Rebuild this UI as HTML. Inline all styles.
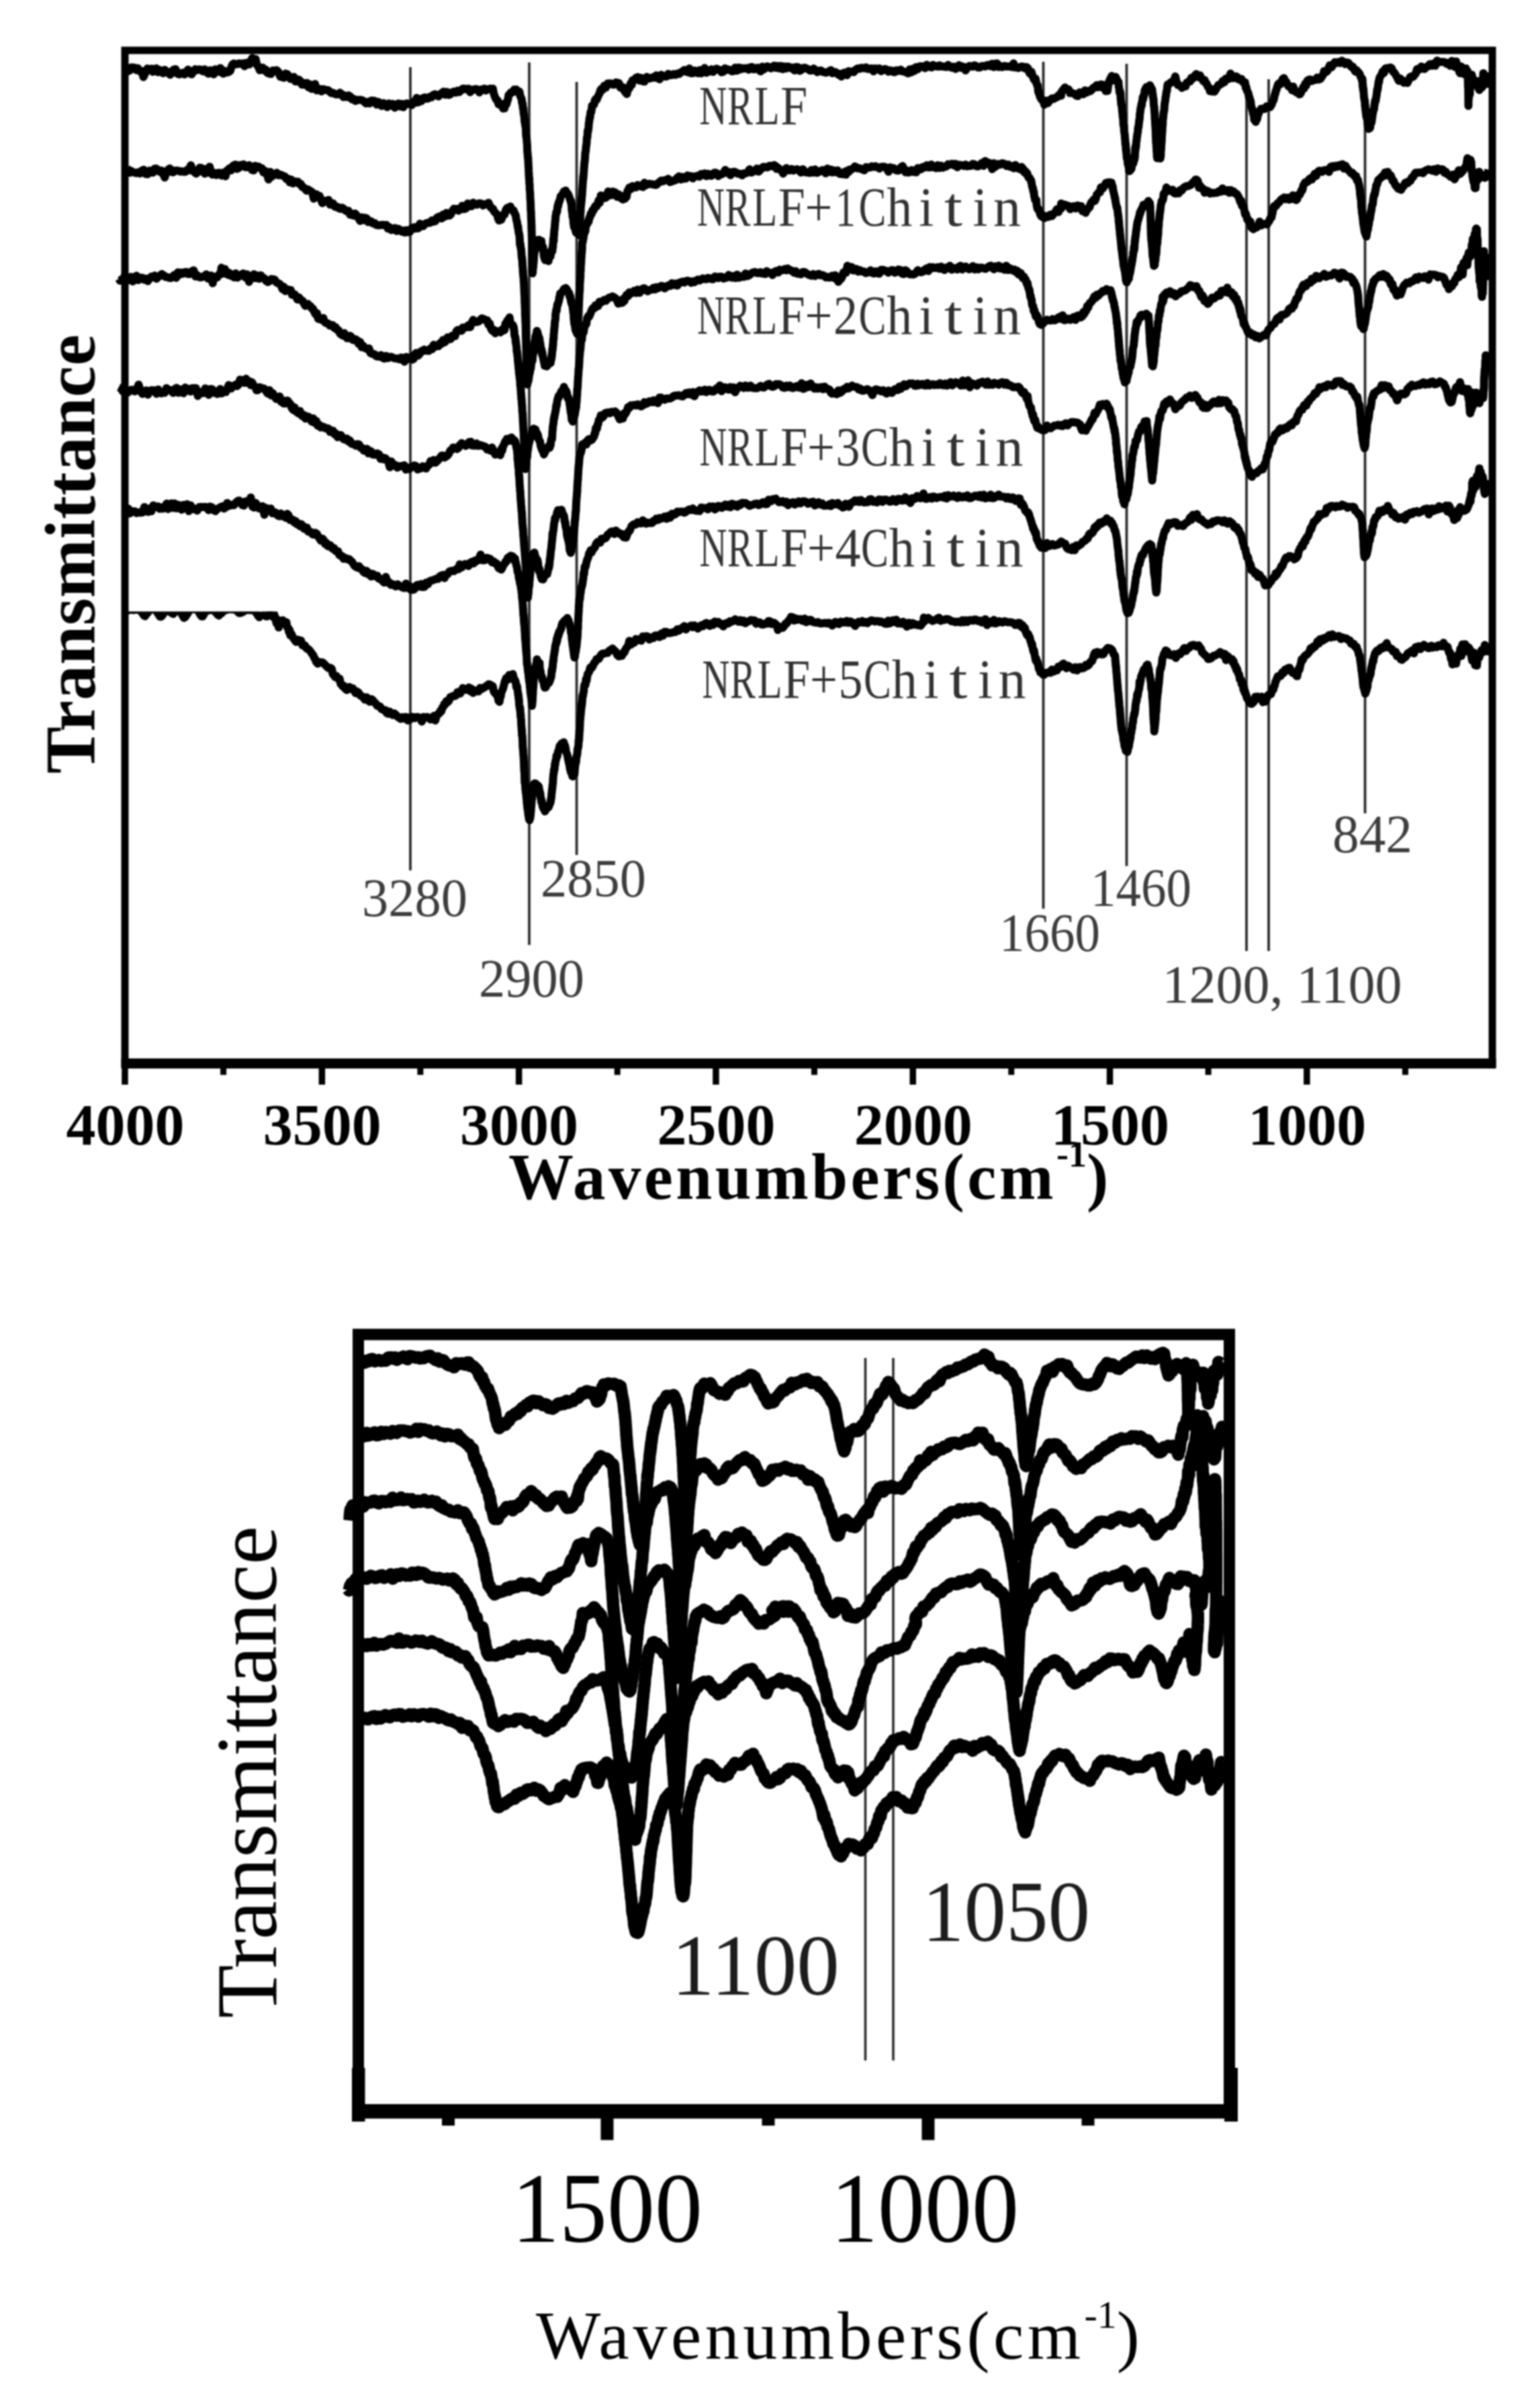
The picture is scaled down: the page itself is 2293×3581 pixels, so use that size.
<!DOCTYPE html>
<html><head><meta charset="utf-8"><title>FTIR spectra</title>
<style>html,body{margin:0;padding:0;background:#fff}svg{display:block}</style></head>
<body>
<svg width="2293" height="3581" viewBox="0 0 2293 3581">
<defs><filter id="soft" x="0" y="0" width="2293" height="3581" filterUnits="userSpaceOnUse"><feGaussianBlur stdDeviation="1.1"/></filter></defs>
<rect width="2293" height="3581" fill="#fff"/>
<g filter="url(#soft)">
<line x1="611" y1="100" x2="611" y2="1296" stroke="#2a2a2a" stroke-width="3.8"/>
<line x1="788" y1="93" x2="788" y2="1407" stroke="#2a2a2a" stroke-width="3.8"/>
<line x1="858.6" y1="122" x2="858.6" y2="1273" stroke="#2a2a2a" stroke-width="3.8"/>
<line x1="1553.5" y1="92" x2="1553.5" y2="1353" stroke="#2a2a2a" stroke-width="3.8"/>
<line x1="1677.5" y1="95" x2="1677.5" y2="1289.5" stroke="#2a2a2a" stroke-width="3.8"/>
<line x1="1856" y1="118" x2="1856" y2="1416" stroke="#2a2a2a" stroke-width="3.8"/>
<line x1="1889" y1="118" x2="1889" y2="1416" stroke="#2a2a2a" stroke-width="3.8"/>
<line x1="2032.5" y1="118" x2="2032.5" y2="1211" stroke="#2a2a2a" stroke-width="3.8"/>
<g id="topcurves">
<polyline points="189.1,102.9 191.0,106.0 193.0,105.0 195.2,100.6 197.6,100.5 200.0,100.8 202.6,104.2 205.2,101.5 208.0,106.2 210.8,105.8 213.6,114.8 216.5,108.5 219.5,102.0 222.5,103.6 225.5,102.5 227.8,106.8 230.2,106.1 232.7,101.7 235.2,107.5 237.7,104.3 240.2,105.7 242.8,109.0 245.4,104.0 248.1,106.7 250.7,108.8 253.4,111.2 256.1,106.1 258.7,103.8 261.4,102.9 264.1,109.7 266.8,110.8 269.5,109.2 272.1,108.3 274.8,110.7 277.4,107.4 280.0,103.7 282.6,109.0 285.3,110.6 288.0,106.5 290.8,103.1 293.5,104.4 296.3,103.3 299.1,103.9 301.9,106.2 304.7,103.2 307.4,107.4 310.2,109.8 312.9,104.7 315.6,105.3 318.2,110.7 320.8,103.4 323.3,103.8 325.7,106.9 328.0,101.4 330.3,104.6 332.5,109.8 334.5,105.6 338.2,108.0 340.9,106.9 342.9,105.4 344.5,99.7 346.2,95.9 348.2,94.6 350.9,95.8 353.6,95.4 356.3,94.2 359.0,95.3 361.8,94.3 364.0,98.6 366.3,93.8 368.7,93.2 371.0,96.0 373.3,91.0 375.6,86.4 377.7,88.1 379.4,93.8 380.7,88.1 382.0,94.8 383.3,97.7 384.8,99.3 386.7,104.6 389.1,101.0 391.2,100.8 393.5,104.9 395.9,103.7 398.4,108.7 401.0,109.7 403.6,110.0 406.3,105.1 409.1,105.3 411.9,104.5 414.6,107.2 417.4,114.3 420.1,114.8 422.8,115.7 425.5,109.7 427.9,110.4 430.3,115.1 432.7,117.6 435.2,117.3 437.6,114.6 440.0,121.3 442.4,121.3 444.8,118.5 447.3,120.7 449.7,126.1 452.1,123.4 454.5,126.6 457.0,123.6 459.4,129.9 461.8,125.8 464.2,132.3 466.7,128.8 469.1,125.1 471.5,134.6 473.9,132.4 476.4,132.5 478.8,136.0 481.2,132.8 483.6,133.5 486.1,134.3 488.5,134.2 490.9,136.4 493.3,138.7 495.8,138.3 498.2,139.6 500.8,140.6 503.4,140.5 506.0,138.2 508.6,140.1 511.2,144.5 513.8,142.4 516.4,144.6 519.0,142.2 521.6,143.8 524.2,148.0 526.8,147.2 529.4,150.2 531.9,148.8 534.5,148.7 537.1,148.8 539.8,149.6 542.4,151.6 545.0,153.8 547.6,151.7 550.3,154.1 552.9,149.7 555.5,149.9 558.1,150.4 560.7,155.7 563.3,151.8 565.9,155.7 568.4,157.7 570.9,153.5 573.7,155.1 576.5,159.4 579.3,154.0 582.1,156.7 584.9,154.7 587.7,160.3 590.4,157.6 593.0,154.1 595.6,158.4 598.1,154.7 600.5,159.7 602.7,155.0 605.9,154.0 608.3,154.8 610.5,155.0 612.9,156.6 616.4,150.8 618.4,153.0 620.5,145.7 622.8,152.4 625.1,147.5 627.5,150.5 629.9,146.0 632.4,145.0 635.0,146.9 637.5,146.7 640.1,144.0 642.7,144.9 645.2,141.3 647.8,140.2 650.3,141.2 652.7,143.6 655.3,141.2 657.9,138.4 660.5,136.4 663.1,141.1 665.7,136.9 668.3,141.4 670.9,140.2 673.5,137.5 676.1,136.3 678.7,137.8 681.3,135.1 683.9,137.1 686.5,134.7 689.1,132.0 691.7,132.0 694.4,133.1 697.2,131.9 700.0,137.2 702.8,133.4 705.6,133.4 708.4,132.6 711.1,133.3 713.8,137.6 716.3,133.3 718.8,133.7 721.2,131.9 723.4,134.8 725.5,133.2 729.9,132.0 732.4,133.7 733.8,132.0 735.2,139.1 736.6,143.3 738.1,146.8 739.6,149.2 741.0,149.6 742.4,155.3 744.7,156.3 746.9,154.6 749.1,161.4 751.1,161.3 752.2,156.0 753.3,155.9 754.2,155.0 755.2,150.8 756.2,148.6 757.4,141.3 758.9,140.4 760.6,137.7 762.3,138.0 764.0,136.2 765.7,133.5 767.4,134.2 768.9,133.5 770.4,135.8 771.9,138.0 773.3,136.3 774.7,143.0 776.1,146.3 776.5,146.9 776.9,148.9 777.3,152.9 777.7,154.4 778.1,153.9 778.5,159.9 778.8,161.8 779.2,160.9 779.6,167.1 779.9,169.8 780.3,171.5 780.7,173.9 781.0,179.1 781.3,182.3 781.7,179.2 782.0,186.6 782.3,187.0 782.6,188.0 782.8,190.4 783.0,192.4 783.2,199.6 783.4,201.2 783.6,204.0 783.8,202.5 784.0,206.4 784.2,206.0 784.4,211.1 784.6,211.7 784.8,215.3 784.9,215.9 785.1,223.5 785.3,226.6 785.5,229.0 785.7,228.5 785.9,235.0 786.1,233.9 786.2,234.2 786.4,237.2 786.5,240.8 786.7,243.1 786.8,247.2 787.0,249.0 787.2,254.7 787.3,255.8 787.5,260.3 787.6,263.3 787.8,264.4 787.9,267.2 788.1,265.6 788.2,273.7 788.4,273.6 788.6,275.3 788.7,282.0 788.8,282.7 789.0,284.8 789.1,285.0 789.3,287.9 789.4,292.1 789.6,297.1 789.7,296.9 789.8,297.8 790.0,301.5 790.1,303.6 790.2,308.4 790.3,312.1 790.4,312.7 790.5,315.1 790.7,315.8 790.8,323.8 790.9,323.6 791.0,328.3 791.1,327.3 791.2,330.6 791.3,336.4 791.4,341.2 791.5,336.1 791.5,343.8 791.6,345.3 791.7,346.1 791.8,351.5 791.9,354.9 791.9,352.4 792.0,357.7 792.0,363.0 792.1,364.2 792.1,366.0 792.1,366.5 792.2,370.7 792.2,376.2 792.2,376.1 792.3,382.1 792.3,381.9 792.3,387.2 792.4,389.1 792.4,393.8 792.5,393.8 792.5,400.2 792.6,402.0 792.6,400.2 792.7,406.4 792.7,402.8 792.8,406.9 793.0,405.7 793.2,405.8 793.4,399.3 793.6,399.6 793.8,399.0 794.0,396.8 794.3,391.9 794.5,391.5 794.8,387.5 795.1,380.8 795.4,378.3 795.7,376.8 796.1,372.8 797.1,372.2 798.3,365.9 799.6,363.1 800.9,357.3 802.3,357.0 803.6,360.3 804.8,358.4 805.4,361.2 806.1,358.8 806.7,366.4 807.3,366.8 807.9,368.1 808.5,367.5 809.1,373.6 809.7,380.6 810.3,383.5 810.9,382.3 811.6,387.2 812.3,384.2 813.6,385.6 815.1,383.3 816.6,388.7 818.1,380.6 819.6,382.0 821.0,372.6 822.3,374.5 822.6,371.4 822.9,366.8 823.2,368.2 823.5,361.7 823.7,359.5 824.0,355.1 824.2,358.0 824.5,358.8 824.7,348.7 825.0,350.3 825.2,344.2 825.4,341.8 825.7,342.1 825.9,338.7 826.1,336.2 826.4,332.4 826.7,328.2 827.0,328.6 827.2,322.7 827.8,320.2 828.3,316.1 828.9,315.1 829.4,315.7 830.0,309.3 830.6,305.7 831.2,306.8 831.8,301.4 832.4,301.4 833.0,299.8 833.6,297.1 834.2,296.1 834.7,292.5 837.2,289.9 839.7,285.1 842.2,283.8 843.7,287.6 845.3,288.2 846.8,290.9 848.3,295.4 849.7,300.1 850.1,299.0 850.4,303.4 850.7,301.0 851.0,304.0 851.3,311.7 851.6,314.1 851.9,316.5 852.2,315.6 852.5,322.4 852.8,323.1 853.1,323.5 853.4,325.6 853.7,328.8 854.0,333.6 854.3,332.0 854.7,338.1 856.1,339.9 857.7,346.4 859.3,344.8 860.8,348.6 862.2,350.3 862.4,345.9 862.6,345.6 862.8,343.0 863.0,340.9 863.2,338.9 863.3,339.6 863.5,334.1 863.6,333.6 863.7,326.6 863.8,326.3 864.0,323.3 864.1,320.8 864.3,315.1 864.5,315.9 864.7,309.6 864.8,309.1 865.0,305.4 865.2,305.4 865.4,300.5 865.6,302.3 865.8,296.2 866.0,298.1 866.2,292.7 866.4,293.0 866.6,290.3 866.8,287.2 867.0,284.4 867.2,279.5 867.4,279.4 867.6,273.1 867.8,272.3 868.0,267.4 868.2,268.4 868.4,261.7 868.6,265.3 868.8,261.4 869.1,257.5 869.3,255.2 869.5,251.6 869.7,249.3 869.9,246.7 870.2,241.5 870.4,241.7 870.6,240.8 870.9,236.3 871.1,233.9 871.3,229.3 871.6,226.5 871.8,226.6 872.1,224.8 872.3,222.9 872.5,219.2 872.8,216.7 873.0,216.9 873.3,213.9 873.6,210.8 873.8,205.1 874.1,204.5 874.4,204.7 874.7,201.5 875.0,194.6 875.4,196.1 875.8,194.3 876.2,191.2 876.6,186.7 876.9,182.4 877.3,181.6 877.7,176.2 878.1,174.5 878.6,175.1 879.0,169.5 879.4,166.8 879.9,167.5 880.4,166.5 881.0,162.4 881.5,157.3 882.1,158.2 883.3,156.7 884.5,155.5 885.7,149.3 887.0,147.5 888.3,148.8 889.7,145.3 891.1,142.0 892.5,139.6 893.9,134.6 895.3,132.4 896.8,134.0 898.2,131.7 899.6,127.7 902.0,130.6 904.6,124.5 907.1,124.3 909.7,124.3 912.3,126.0 914.8,125.9 917.2,122.8 919.6,123.4 921.7,123.9 923.8,130.5 925.8,130.0 927.7,130.0 929.6,135.3 931.4,137.4 933.3,140.0 934.6,134.5 935.8,131.3 937.1,131.2 938.3,126.5 939.4,123.6 940.7,126.5 941.9,119.6 943.2,119.2 944.5,119.3 946.9,116.0 949.4,114.8 952.0,119.9 954.6,116.0 957.1,121.1 959.5,121.4 961.6,117.5 963.2,114.6 965.0,116.0 967.4,116.9 970.9,115.8 972.9,114.6 975.1,115.7 977.3,112.2 979.6,116.1 982.1,118.0 984.5,111.3 987.1,113.8 989.7,113.5 992.4,114.0 995.0,109.9 997.7,111.9 1000.5,111.8 1003.2,110.3 1005.9,111.4 1008.6,109.6 1011.2,110.1 1013.8,107.6 1016.4,106.6 1018.9,104.2 1021.4,106.3 1023.9,107.5 1026.5,102.0 1029.0,109.1 1031.5,108.9 1034.0,105.0 1036.6,106.5 1039.1,109.1 1041.6,104.4 1044.1,109.2 1046.7,104.2 1049.2,101.3 1051.7,108.3 1054.2,106.8 1056.8,106.6 1059.3,103.2 1061.8,107.0 1064.3,104.2 1066.9,102.3 1069.4,103.7 1071.9,104.1 1074.4,107.6 1077.0,106.8 1079.5,101.7 1082.0,104.0 1084.5,103.4 1087.1,104.4 1089.6,106.2 1092.1,105.9 1094.6,100.8 1097.2,105.3 1099.7,100.6 1102.2,103.4 1104.7,101.4 1107.3,102.3 1109.8,101.6 1112.3,101.5 1114.8,103.8 1117.4,100.1 1119.9,99.7 1122.4,103.2 1124.9,102.6 1127.5,101.0 1130.0,103.7 1132.5,106.3 1135.1,99.2 1137.6,103.2 1140.1,99.9 1142.6,98.9 1145.2,100.5 1147.7,101.7 1150.2,99.2 1152.7,97.9 1155.3,101.1 1157.8,98.2 1160.3,101.9 1162.8,98.2 1165.4,102.9 1167.9,98.9 1170.4,102.1 1172.9,99.0 1175.5,99.8 1178.0,101.6 1180.5,100.7 1183.0,104.8 1185.6,99.7 1188.1,100.0 1190.6,105.5 1193.1,104.2 1195.7,101.2 1198.2,100.8 1200.7,101.9 1203.4,103.0 1206.0,105.1 1208.7,104.9 1211.4,102.2 1214.1,104.1 1216.9,107.3 1219.6,105.6 1222.3,104.9 1224.9,107.0 1227.5,107.6 1230.1,108.3 1232.6,107.3 1235.0,105.6 1237.3,104.5 1239.5,108.9 1241.7,108.3 1243.6,107.3 1247.2,109.8 1248.9,111.6 1250.2,109.8 1252.7,113.9 1254.7,111.7 1256.8,108.3 1258.9,108.2 1261.2,111.9 1263.5,105.9 1265.9,107.6 1268.4,106.4 1271.1,107.4 1273.9,104.0 1276.9,102.0 1280.0,102.5 1282.3,100.9 1284.7,101.2 1287.1,101.8 1289.7,100.3 1292.4,102.8 1295.1,102.4 1297.9,101.8 1300.7,106.2 1303.5,102.0 1306.4,103.2 1309.2,101.7 1312.0,106.0 1314.8,104.1 1317.6,102.8 1320.3,103.7 1322.9,106.7 1325.4,104.7 1327.9,105.4 1330.2,107.2 1332.5,107.4 1334.5,104.7 1338.7,105.6 1341.2,103.7 1343.1,106.0 1345.1,106.5 1348.2,107.3 1350.2,108.2 1352.4,109.2 1354.6,103.3 1356.9,107.7 1359.3,102.3 1361.7,105.4 1364.1,99.9 1366.7,102.9 1369.2,98.8 1371.9,98.8 1374.5,98.8 1377.3,101.6 1380.0,96.6 1382.3,99.2 1384.6,99.5 1387.0,100.3 1389.3,96.7 1391.7,98.8 1394.1,98.3 1396.6,99.2 1399.0,97.4 1401.5,99.0 1404.1,99.0 1406.6,99.3 1409.2,99.7 1411.8,96.7 1414.5,99.5 1417.2,100.8 1419.9,99.2 1422.6,102.7 1425.5,100.8 1427.8,97.1 1430.2,100.9 1432.7,98.7 1435.2,99.7 1437.7,104.8 1440.3,100.7 1442.9,98.3 1445.6,98.4 1448.2,99.2 1450.9,97.2 1453.6,98.3 1456.3,100.6 1459.0,100.4 1461.6,98.4 1464.3,98.2 1466.9,99.0 1469.6,96.9 1472.2,96.6 1474.7,98.5 1477.2,94.9 1479.7,99.8 1482.1,94.7 1484.5,94.4 1486.8,99.8 1489.1,98.2 1492.2,99.9 1495.3,98.2 1498.2,98.9 1501.1,98.9 1503.8,99.0 1506.5,99.8 1509.1,94.3 1511.7,100.4 1514.1,99.9 1516.5,101.3 1518.9,100.0 1521.1,98.9 1523.3,99.4 1525.5,101.8 1528.1,99.8 1530.4,101.4 1532.4,107.8 1534.2,110.3 1535.8,107.0 1537.4,112.7 1539.1,117.4 1540.0,116.2 1540.9,120.0 1541.8,117.1 1542.7,121.3 1543.5,124.7 1544.3,127.1 1545.1,127.4 1545.9,136.2 1546.6,138.7 1547.4,137.0 1548.2,143.1 1549.6,146.2 1550.9,148.3 1552.1,149.5 1553.5,150.2 1555.0,156.0 1557.6,149.8 1560.4,153.5 1563.4,149.0 1566.4,146.6 1568.7,147.4 1571.1,145.7 1573.6,144.9 1576.0,142.0 1578.2,142.1 1580.0,142.6 1580.2,137.6 1580.0,137.7 1582.5,134.2 1585.7,130.2 1589.1,133.9 1591.1,133.0 1593.2,138.5 1595.4,138.1 1597.7,138.9 1600.1,140.1 1602.7,142.4 1605.0,143.1 1607.5,137.5 1610.1,139.1 1612.8,140.3 1615.4,134.5 1618.1,137.9 1620.7,135.3 1623.1,135.8 1625.5,133.8 1628.1,130.5 1630.5,130.3 1632.8,126.8 1634.9,130.0 1637.0,127.1 1639.1,125.7 1641.1,125.9 1643.1,131.3 1644.9,129.5 1646.6,135.6 1648.2,135.5 1649.0,135.4 1649.7,130.3 1650.4,125.5 1651.0,122.3 1651.8,120.5 1652.7,118.5 1655.3,113.1 1658.3,119.8 1661.3,114.6 1664.1,120.8 1664.5,121.5 1665.0,123.1 1665.4,122.1 1665.8,129.3 1666.2,129.8 1666.6,133.4 1666.9,136.8 1667.3,138.6 1667.7,136.0 1668.0,140.1 1668.4,139.1 1668.7,147.7 1669.1,149.9 1669.4,155.5 1669.8,156.5 1670.2,156.5 1670.5,160.2 1670.9,165.4 1671.2,167.9 1671.4,168.9 1671.7,174.5 1671.9,170.5 1672.2,175.2 1672.5,181.7 1672.7,186.4 1673.0,186.3 1673.2,188.2 1673.5,187.3 1673.8,194.2 1674.0,196.5 1674.3,198.7 1674.5,198.5 1674.8,202.1 1675.0,206.1 1675.3,207.3 1675.6,213.9 1675.8,215.4 1676.1,213.9 1676.3,217.5 1676.5,223.8 1676.8,221.8 1677.0,223.9 1677.3,230.6 1677.5,230.4 1677.7,234.7 1678.3,237.4 1678.8,236.5 1679.3,244.6 1679.8,244.1 1680.2,247.3 1680.7,248.8 1681.2,254.8 1681.7,252.3 1682.3,254.4 1683.0,252.0 1683.7,250.1 1684.4,251.9 1685.1,248.6 1685.9,244.7 1686.7,242.5 1687.5,243.1 1688.3,234.2 1689.1,238.0 1689.4,232.0 1689.7,234.8 1690.0,228.1 1690.4,219.1 1690.7,223.4 1691.0,217.1 1691.4,218.9 1691.7,214.2 1692.1,209.2 1692.4,209.7 1692.8,203.2 1693.1,203.7 1693.5,198.9 1693.8,198.2 1694.2,196.6 1694.5,190.2 1694.9,190.7 1695.2,189.5 1695.5,185.8 1695.9,183.3 1696.2,178.6 1696.6,178.6 1696.9,175.9 1697.2,169.4 1697.5,168.1 1697.9,165.9 1698.2,161.6 1698.8,160.9 1699.4,155.8 1700.0,157.1 1700.5,151.4 1701.1,149.1 1701.6,144.8 1702.1,147.8 1702.7,143.0 1703.2,141.3 1703.8,141.6 1704.4,135.0 1705.0,133.5 1707.2,129.5 1709.6,131.7 1712.0,126.9 1714.1,130.9 1714.6,133.5 1715.1,136.4 1715.5,133.5 1715.9,138.4 1716.3,139.6 1716.7,142.9 1717.1,146.8 1717.5,147.2 1717.8,154.1 1718.2,158.1 1718.6,159.3 1718.8,164.2 1718.9,163.8 1719.1,168.4 1719.2,167.7 1719.4,171.4 1719.5,176.2 1719.7,178.9 1719.8,177.1 1720.0,185.3 1720.2,183.8 1720.3,189.0 1720.5,191.3 1720.6,193.6 1720.8,194.0 1720.9,202.6 1721.1,205.2 1721.2,207.3 1721.4,213.4 1721.5,212.0 1721.7,215.0 1721.8,216.9 1722.0,220.0 1722.1,221.9 1722.3,227.0 1722.4,225.6 1722.6,226.8 1722.7,234.0 1722.9,232.0 1723.0,235.6 1723.2,235.0 1727.7,236.0 1727.9,234.2 1728.1,231.0 1728.2,233.4 1728.4,229.7 1728.5,225.2 1728.7,224.3 1728.9,222.8 1729.0,218.5 1729.2,215.3 1729.4,213.7 1729.5,208.8 1729.7,211.1 1729.8,206.5 1730.0,202.1 1730.2,199.4 1730.3,195.8 1730.5,197.2 1730.7,189.6 1730.8,189.1 1731.0,184.4 1731.2,186.8 1731.3,179.3 1731.5,177.9 1731.7,176.9 1731.9,175.7 1732.1,172.8 1732.3,170.6 1732.6,167.8 1733.0,165.7 1733.4,165.2 1733.8,159.0 1734.1,154.6 1734.5,152.3 1734.9,150.9 1735.3,147.1 1735.7,143.6 1736.1,142.7 1736.5,138.3 1736.9,135.9 1737.4,136.0 1737.8,132.0 1738.2,128.0 1738.7,125.7 1739.1,126.4 1741.2,124.9 1743.4,122.5 1745.7,122.3 1748.2,118.6 1750.0,113.8 1751.9,122.4 1753.8,126.6 1755.8,126.4 1757.8,128.2 1759.8,130.7 1761.8,129.6 1763.5,128.3 1765.3,128.5 1767.0,122.9 1768.7,122.4 1770.4,121.1 1772.1,121.1 1773.8,115.9 1775.5,117.5 1778.4,113.3 1781.2,110.2 1784.0,114.8 1786.8,112.3 1788.5,116.4 1790.1,118.1 1791.8,120.9 1793.5,119.0 1795.1,123.7 1796.7,124.2 1798.2,129.0 1800.0,130.1 1801.6,135.6 1803.2,135.4 1805.0,136.1 1806.7,133.1 1808.4,136.4 1810.3,133.4 1812.2,130.1 1814.2,126.5 1816.4,126.1 1818.4,124.9 1820.6,120.5 1822.9,122.7 1825.2,117.1 1827.5,118.0 1829.9,117.2 1832.2,109.6 1834.5,116.2 1836.9,116.3 1839.2,113.7 1841.6,114.2 1844.0,118.1 1846.3,118.6 1848.6,117.6 1850.7,122.4 1852.7,123.3 1853.8,122.4 1854.7,130.5 1855.6,129.1 1856.5,134.6 1857.3,135.8 1858.1,137.8 1858.8,138.9 1859.6,144.4 1860.3,144.6 1861.1,148.2 1861.8,149.4 1862.4,152.6 1863.0,158.9 1863.6,159.2 1864.1,161.9 1864.7,164.0 1865.2,165.1 1865.8,169.2 1866.3,170.8 1866.9,171.6 1867.4,178.2 1868.0,176.9 1868.6,178.0 1869.7,181.5 1870.7,177.4 1871.8,177.3 1872.8,171.8 1874.0,169.1 1875.1,165.3 1876.4,164.4 1877.7,162.0 1880.2,162.1 1882.9,162.3 1885.7,158.4 1888.5,159.0 1891.2,159.5 1893.6,155.5 1894.6,152.0 1895.5,150.4 1896.4,149.0 1897.2,145.3 1898.0,141.3 1898.8,139.5 1899.6,135.5 1900.4,134.3 1901.1,131.4 1901.9,129.2 1902.7,125.9 1904.5,124.1 1906.2,125.5 1908.0,123.4 1909.8,117.6 1911.8,116.3 1913.4,121.4 1915.1,121.6 1916.9,125.5 1918.6,128.6 1920.4,129.6 1922.2,128.8 1923.9,134.6 1925.5,128.9 1927.9,134.9 1930.0,137.4 1932.1,136.8 1934.5,140.4 1935.9,140.1 1937.3,137.6 1938.8,133.9 1940.3,130.0 1941.8,131.7 1943.3,124.6 1944.9,127.3 1946.5,120.4 1948.2,119.0 1950.7,118.3 1953.3,120.6 1955.9,119.4 1958.6,119.0 1961.3,115.4 1963.9,118.4 1966.4,117.1 1968.2,114.2 1969.9,111.6 1971.5,106.1 1973.1,106.2 1974.7,107.0 1976.4,105.8 1978.1,101.6 1980.0,97.2 1982.4,100.3 1984.9,96.6 1987.5,92.6 1990.1,93.7 1992.8,92.2 1995.4,93.9 1998.0,90.5 2000.5,91.9 2002.9,95.5 2005.3,93.0 2007.6,93.6 2009.9,96.5 2012.1,99.7 2014.3,99.3 2016.4,103.8 2018.2,106.7 2019.9,104.5 2021.6,107.8 2023.2,107.9 2024.8,111.0 2026.3,115.3 2027.7,118.0 2028.1,120.4 2028.5,117.8 2028.9,128.8 2029.2,125.9 2029.6,133.8 2029.9,131.3 2030.3,136.0 2030.6,139.7 2030.9,144.5 2031.2,145.6 2031.5,148.6 2031.9,149.0 2032.2,150.6 2032.5,158.2 2032.8,157.1 2033.1,163.7 2033.4,162.3 2033.7,168.8 2034.0,168.2 2034.3,173.4 2034.5,172.8 2035.3,176.9 2035.9,177.9 2036.5,184.9 2037.1,189.2 2037.7,191.9 2038.4,191.0 2039.1,189.8 2039.6,190.9 2040.1,189.8 2040.5,186.4 2041.0,179.1 2041.6,181.8 2042.1,182.6 2042.6,179.0 2043.1,175.9 2043.7,170.1 2044.2,168.6 2044.8,164.7 2045.3,163.8 2045.9,162.4 2046.4,156.4 2046.8,155.6 2047.3,150.8 2047.8,149.0 2048.3,150.3 2048.7,146.9 2049.2,144.8 2049.7,141.2 2050.2,137.6 2050.7,132.7 2051.2,133.9 2051.7,129.5 2052.2,125.1 2052.8,120.7 2053.3,122.2 2053.9,116.3 2054.4,115.8 2055.0,114.0 2056.8,111.8 2058.7,106.4 2060.6,108.7 2062.6,102.1 2064.6,101.4 2066.6,101.9 2068.6,100.8 2070.4,100.5 2072.1,101.6 2073.9,106.5 2075.7,107.7 2077.5,110.3 2079.3,113.4 2081.1,117.0 2082.8,120.4 2084.5,116.7 2087.4,119.3 2090.1,123.1 2092.8,122.0 2095.5,123.5 2098.2,117.5 2099.8,114.6 2101.5,113.9 2103.1,114.8 2104.7,113.7 2106.3,111.4 2108.0,109.5 2109.9,103.0 2111.8,102.2 2114.1,103.3 2116.4,99.0 2118.8,101.9 2121.3,102.6 2123.9,99.6 2126.5,98.6 2129.1,95.4 2131.8,98.1 2134.5,94.5 2137.1,97.9 2139.8,90.2 2142.6,92.4 2145.4,92.3 2148.3,92.3 2151.2,92.4 2154.0,94.9 2156.7,93.4 2159.3,97.9 2161.8,90.7 2164.1,91.8 2166.3,99.7 2168.2,91.6 2169.8,99.3 2171.3,99.1 2172.6,106.3 2174.0,109.1 2175.5,99.0 2177.9,101.8 2180.3,110.6 2182.6,101.9 2184.5,109.4 2184.9,110.2 2185.1,105.8 2185.4,111.0 2185.6,119.9 2185.7,115.6 2185.9,130.0 2186.0,126.0 2186.1,128.7 2186.2,136.3 2186.4,157.7 2186.6,141.4 2186.8,148.5 2187.2,143.0 2187.7,136.1 2188.1,141.2 2188.5,140.7 2189.0,126.0 2189.5,130.6 2190.1,125.7 2190.7,121.8 2191.4,111.2 2192.8,116.9 2194.4,121.6 2196.1,119.8 2197.8,124.4 2199.6,120.7 2201.2,130.7 2202.7,134.0 2203.8,125.0 2204.9,124.9 2205.8,129.5 2206.8,130.1 2207.7,126.7 2208.6,108.9 2209.5,116.0 2211.3,113.2 2213.2,117.1 2214.9,113.6 2216.4,130.8" fill="none" stroke="#000" stroke-width="12" stroke-linejoin="round" stroke-linecap="butt" />
<polyline points="189.1,250.5 191.0,252.4 193.1,257.3 195.3,254.6 197.7,256.4 200.2,256.9 202.9,257.7 205.6,256.5 208.3,258.4 211.2,254.1 214.0,252.7 216.9,259.0 219.8,259.4 222.6,253.9 225.5,256.8 227.8,257.0 230.3,251.2 232.7,250.9 235.2,253.5 237.7,255.7 240.2,254.0 242.7,258.5 245.3,264.3 247.8,255.3 250.4,252.5 253.0,250.8 255.6,256.2 258.1,256.5 260.7,253.9 263.3,253.9 265.8,254.3 268.4,255.5 270.9,255.1 273.5,255.8 276.1,255.8 278.7,252.9 281.4,253.7 284.1,246.1 286.8,253.4 289.5,256.3 292.2,258.4 294.8,256.3 297.5,249.8 300.1,250.2 302.6,254.9 305.1,258.6 307.5,251.5 309.9,257.1 312.2,248.2 314.3,257.8 316.4,259.9 319.7,257.8 322.2,260.7 324.2,257.8 326.0,257.2 327.8,257.8 330.0,261.4 331.9,257.2 333.8,259.1 335.8,262.4 337.7,254.1 339.8,252.6 341.8,250.6 343.9,253.7 346.0,248.0 348.2,246.0 350.5,245.1 352.9,251.4 355.3,250.1 357.6,245.7 360.1,247.6 362.6,244.7 365.3,248.9 368.0,249.0 370.9,246.0 373.1,247.9 375.3,253.1 377.7,253.8 380.0,247.0 382.4,248.3 384.9,248.1 387.3,250.2 389.8,250.5 392.3,256.7 394.8,254.4 397.4,258.7 399.9,267.2 402.4,255.9 404.8,263.0 407.3,260.0 409.7,260.2 412.1,257.3 414.5,260.9 417.0,259.9 419.4,260.9 421.8,262.1 424.2,262.7 426.7,266.8 429.1,266.4 431.5,271.5 433.9,267.6 436.4,273.1 438.8,270.0 441.2,271.0 443.6,270.5 445.8,274.2 447.9,274.0 450.1,278.6 452.2,279.0 454.3,281.3 456.5,283.9 458.6,282.1 460.7,283.6 462.9,284.8 465.0,286.3 467.2,295.8 469.3,290.4 471.4,289.4 473.6,291.6 475.7,291.7 477.9,297.4 480.0,302.5 482.3,298.9 484.5,299.8 486.8,298.7 489.1,297.7 491.4,304.7 493.6,304.1 495.9,302.8 498.2,307.4 500.5,308.3 502.7,308.1 505.0,310.3 507.3,311.0 509.5,309.4 511.8,310.8 514.1,313.3 516.4,314.7 518.8,313.8 521.3,319.7 523.7,318.0 526.2,321.1 528.7,317.9 531.2,320.9 533.7,324.5 536.1,328.9 538.6,323.6 541.0,327.7 543.4,324.2 545.8,324.9 548.2,330.6 550.5,329.2 552.7,329.7 555.4,332.8 558.1,332.2 560.6,335.1 563.2,335.4 565.6,335.2 568.1,334.9 570.5,334.8 572.9,335.3 575.3,335.1 577.6,340.3 580.0,338.3 582.7,342.5 585.3,341.8 588.0,339.4 590.6,344.0 593.2,340.7 595.7,342.7 598.1,344.9 600.5,343.2 602.7,346.2 605.6,342.8 607.9,345.8 610.2,345.2 612.9,340.0 616.4,338.4 618.4,340.5 620.6,338.2 622.9,339.9 625.2,333.1 627.7,335.1 630.2,336.8 632.7,333.4 635.3,332.2 637.9,331.7 640.5,331.8 643.1,328.2 645.6,329.9 648.0,329.6 650.4,324.2 652.7,323.0 655.2,322.1 657.6,325.3 660.0,319.4 662.3,322.6 664.6,317.0 666.9,318.3 669.1,321.1 671.3,319.0 673.5,314.3 675.7,310.9 677.8,311.7 680.0,311.0 682.7,313.8 685.5,310.5 688.3,306.5 691.1,311.3 693.8,310.4 696.4,302.9 698.8,306.9 700.9,305.8 702.7,306.0 700.0,306.4 702.1,307.1 704.5,301.8 707.2,304.6 710.2,304.7 713.2,302.8 716.4,302.9 719.4,305.9 722.3,303.9 725.0,304.0 727.4,301.9 730.1,308.0 732.3,310.3 734.0,310.8 735.7,314.9 737.4,316.4 738.9,318.3 740.3,319.2 741.7,325.4 743.1,328.3 744.9,324.7 746.4,327.2 748.0,322.9 749.7,319.4 751.4,319.2 753.2,312.6 754.9,309.8 756.7,308.9 758.3,308.8 759.9,307.4 761.1,310.9 762.3,312.2 763.5,314.0 764.6,313.1 765.7,316.5 766.8,318.5 767.9,320.7 768.9,327.7 769.9,330.6 770.3,333.7 770.7,336.5 771.0,338.9 771.4,337.4 771.8,342.5 772.2,346.1 772.5,345.9 772.9,349.2 773.2,348.7 773.6,352.4 773.9,358.4 774.2,364.6 774.5,362.2 774.9,363.3 775.2,368.9 775.5,368.4 775.8,370.4 776.1,372.5 776.3,375.7 776.6,379.8 776.8,382.2 777.0,384.9 777.3,384.0 777.5,386.8 777.7,389.4 777.9,393.2 778.1,397.5 778.3,397.0 778.5,400.5 778.7,406.2 778.9,404.3 779.1,411.3 779.3,411.5 779.5,411.8 779.7,414.7 779.8,419.4 780.0,420.0 780.1,422.6 780.2,425.4 780.4,429.5 780.5,429.2 780.6,434.6 780.8,437.7 780.9,438.3 781.0,440.5 781.1,442.5 781.2,448.1 781.4,453.0 781.5,453.8 781.6,456.5 781.7,459.9 781.8,459.7 781.9,470.3 782.0,467.2 782.1,471.0 782.2,473.6 782.3,479.8 782.4,479.6 782.5,479.1 782.6,480.8 782.6,486.1 782.7,486.7 782.8,488.5 782.8,491.9 782.9,498.5 783.0,498.1 783.0,502.5 783.1,504.9 783.2,504.2 783.2,510.7 783.3,508.8 783.3,512.9 783.4,519.2 783.5,520.5 783.5,523.5 783.6,526.6 783.6,528.9 783.7,530.3 783.7,534.7 783.8,538.0 783.8,541.6 783.9,544.6 783.9,547.8 783.9,546.5 784.0,549.4 784.0,553.7 784.1,556.7 784.1,560.6 784.2,561.4 784.3,566.1 784.4,569.2 784.5,567.9 784.7,571.1 784.8,570.6 785.2,572.6 785.7,566.2 786.2,564.5 786.7,567.2 787.2,563.5 787.8,559.3 788.3,556.6 788.9,555.2 789.5,549.0 790.1,549.6 790.6,546.3 791.2,540.0 791.8,536.6 792.3,534.7 792.8,536.9 793.2,529.9 793.6,529.4 794.0,525.2 794.4,525.6 794.9,522.7 795.3,518.8 795.7,514.2 796.1,508.9 796.6,507.8 797.0,503.9 797.4,500.5 797.9,502.8 798.3,497.8 798.8,499.1 799.3,492.8 799.8,493.9 800.3,494.6 800.9,497.9 801.5,499.1 802.0,503.6 802.6,502.8 803.2,503.6 803.8,510.1 804.4,511.6 805.1,517.2 805.7,521.2 806.3,520.0 806.9,526.8 807.5,524.9 808.1,530.9 808.7,532.0 809.3,536.1 809.9,539.2 810.5,540.0 811.0,544.5 814.2,545.4 817.1,541.5 819.8,540.4 820.2,535.9 820.6,535.6 821.0,534.7 821.3,528.5 821.7,530.4 822.0,527.0 822.3,520.5 822.6,519.0 822.9,520.2 823.2,512.7 823.5,514.3 823.7,508.3 823.9,504.7 824.1,504.0 824.3,505.0 824.5,497.9 824.7,496.8 824.9,495.4 825.1,490.8 825.3,490.9 825.5,487.1 825.8,485.7 826.0,480.7 826.2,479.2 826.5,477.3 826.7,477.6 827.0,473.6 827.2,468.4 827.7,465.1 828.3,461.2 828.8,462.6 829.3,457.8 829.9,453.3 830.5,453.8 831.0,451.2 831.6,449.5 832.2,448.0 832.9,442.1 833.5,442.7 834.1,436.9 834.7,437.0 837.2,435.1 839.7,430.1 842.3,428.9 844.7,431.8 845.6,434.6 846.5,435.0 847.4,436.5 848.3,442.1 849.1,440.9 849.9,447.3 850.7,451.0 851.5,452.9 852.2,455.2 852.6,454.4 852.9,460.3 853.2,460.3 853.5,464.9 853.8,465.6 854.1,468.0 854.3,473.4 854.6,476.8 854.9,478.7 855.1,482.1 855.4,479.4 855.7,482.5 855.9,484.1 856.9,491.7 857.8,492.9 858.7,495.7 859.7,497.5 859.8,493.9 859.9,491.4 860.1,489.3 860.2,490.8 860.3,483.9 860.5,481.5 860.6,481.5 860.7,480.2 860.9,477.4 861.0,474.3 861.2,469.9 861.3,471.8 861.4,468.8 861.6,466.2 861.7,460.3 861.8,457.3 862.0,455.9 862.1,450.8 862.2,448.3 862.4,444.2 862.5,443.3 862.6,438.5 862.8,435.7 862.9,435.2 863.0,434.9 863.2,432.1 863.3,428.2 863.4,421.7 863.6,418.7 863.7,420.2 863.9,414.7 864.0,411.3 864.2,413.5 864.3,405.0 864.5,404.1 864.6,404.1 864.8,397.1 864.9,394.6 865.1,393.8 865.2,393.8 865.4,388.5 865.6,383.7 865.7,383.7 865.9,379.0 866.0,375.4 866.2,377.0 866.3,376.2 866.5,372.3 866.7,370.5 866.8,361.5 867.0,362.4 867.2,360.4 867.7,360.4 868.2,354.9 868.7,355.0 869.2,347.7 869.8,348.8 870.4,345.9 870.9,342.2 871.5,344.3 872.2,337.1 873.0,334.7 873.8,334.2 874.7,332.8 875.5,329.2 876.4,330.1 877.4,324.4 878.5,323.2 879.6,318.0 880.9,318.5 882.3,312.9 883.8,313.3 885.2,308.8 886.8,306.3 888.3,307.3 889.9,304.1 891.4,298.4 893.0,301.9 894.6,291.0 896.7,293.9 898.9,292.1 901.1,294.9 903.2,293.4 905.5,285.1 907.7,290.1 909.9,290.6 912.1,285.2 914.3,285.9 916.6,286.8 918.9,293.1 921.2,289.4 923.4,294.4 925.6,295.5 927.6,297.1 929.5,291.5 930.8,295.7 931.9,291.7 932.7,293.6 933.5,289.4 934.4,284.3 935.5,282.8 937.0,279.2 939.2,281.6 941.5,277.1 944.1,278.7 946.8,278.9 949.5,275.5 952.2,277.4 954.8,276.1 957.2,278.6 959.5,272.1 962.3,275.5 964.3,274.4 966.8,273.6 970.9,274.5 972.9,274.6 975.1,275.3 977.3,275.2 979.6,273.0 982.1,271.0 984.5,268.9 987.1,270.0 989.7,268.3 992.4,268.3 995.0,266.2 997.7,271.0 1000.5,270.1 1003.2,269.0 1005.9,268.0 1008.6,264.5 1011.2,262.6 1013.8,267.3 1016.4,263.5 1018.9,265.9 1021.4,265.7 1023.9,261.3 1026.5,262.2 1029.0,262.3 1031.5,265.6 1034.0,262.7 1036.6,262.5 1039.1,261.5 1041.6,263.0 1044.1,259.1 1046.7,260.1 1049.2,258.2 1051.7,262.2 1054.2,258.8 1056.8,261.6 1059.3,261.7 1061.8,258.5 1064.4,257.0 1066.9,257.8 1069.5,262.2 1072.1,259.7 1074.7,259.6 1077.3,257.6 1079.9,252.9 1082.5,257.6 1085.1,255.9 1087.6,260.8 1090.2,256.5 1092.7,255.7 1095.2,256.3 1097.7,258.4 1100.2,258.4 1102.6,259.4 1105.0,261.0 1107.3,258.3 1110.2,258.1 1113.2,256.5 1116.1,252.1 1118.9,257.0 1121.7,255.1 1124.4,254.6 1127.0,251.0 1129.6,255.6 1132.1,253.1 1134.5,250.1 1136.8,248.4 1139.1,248.7 1142.6,249.2 1145.5,246.9 1148.0,246.8 1150.3,247.8 1152.7,245.8 1154.8,247.1 1156.4,251.6 1158.5,249.9 1161.8,252.5 1163.9,254.2 1166.1,258.4 1168.4,254.6 1170.9,250.3 1173.4,253.5 1176.0,253.7 1178.6,251.6 1181.4,254.0 1184.1,252.6 1186.9,252.0 1189.7,253.5 1192.6,257.0 1195.4,251.9 1198.2,256.0 1200.6,256.8 1203.1,256.8 1205.6,257.4 1208.2,253.2 1210.9,257.0 1213.5,252.3 1216.2,257.4 1218.9,256.3 1221.6,254.7 1224.3,253.2 1226.9,254.2 1229.5,258.0 1232.0,250.9 1234.5,256.1 1236.9,252.4 1239.3,256.8 1241.5,253.8 1243.6,256.1 1247.1,253.7 1250.2,258.9 1252.9,258.8 1255.3,259.5 1257.5,255.8 1259.7,260.1 1261.8,254.0 1263.7,255.9 1264.7,252.6 1266.5,253.0 1270.9,250.3 1272.9,247.9 1275.0,249.2 1277.2,250.8 1279.5,250.6 1281.9,251.3 1284.5,252.6 1287.0,253.5 1289.7,248.9 1292.4,249.4 1295.2,249.5 1298.0,247.6 1300.8,248.5 1303.6,247.5 1306.5,249.0 1309.3,250.9 1312.1,248.4 1314.9,248.3 1317.6,248.5 1320.3,250.8 1322.9,255.8 1325.4,249.1 1327.8,251.3 1330.2,250.3 1332.4,251.8 1334.5,253.7 1338.1,254.0 1341.2,249.2 1343.9,247.2 1346.3,251.9 1348.5,256.6 1350.6,253.9 1352.7,256.9 1354.9,256.2 1357.3,253.2 1359.7,255.9 1362.1,256.2 1364.3,256.4 1366.6,250.2 1369.0,252.3 1371.4,252.1 1374.0,248.5 1376.9,249.5 1380.0,246.1 1382.2,249.2 1384.4,249.3 1386.7,245.1 1389.0,249.0 1391.3,248.7 1393.7,250.4 1396.2,245.9 1398.7,250.1 1401.2,246.7 1403.8,249.6 1406.4,248.5 1409.0,247.9 1411.7,244.6 1414.4,245.1 1417.1,243.9 1419.9,246.0 1422.6,243.9 1425.5,249.0 1427.8,245.4 1430.2,245.9 1432.7,246.0 1435.2,247.2 1437.8,245.3 1440.4,247.6 1443.0,246.8 1445.7,247.1 1448.4,244.0 1451.0,244.6 1453.7,247.6 1456.4,247.7 1459.1,246.1 1461.8,242.6 1464.5,246.9 1467.1,239.8 1469.8,243.5 1472.4,242.4 1474.9,244.0 1477.4,251.8 1479.9,243.1 1482.3,248.2 1484.6,244.4 1486.9,244.3 1489.1,245.3 1492.4,243.1 1495.6,244.0 1498.6,247.1 1501.5,245.3 1504.3,248.4 1506.9,247.4 1509.4,250.5 1511.8,245.7 1514.2,250.1 1516.5,250.8 1518.7,252.0 1520.9,248.5 1522.9,250.7 1524.7,256.1 1526.4,254.4 1527.9,258.8 1529.3,257.7 1530.6,262.4 1531.9,265.0 1533.2,265.1 1534.5,269.3 1535.3,268.6 1536.0,272.1 1536.7,277.2 1537.3,279.7 1538.0,279.9 1538.6,285.5 1539.3,285.2 1539.9,291.7 1540.5,294.1 1541.1,297.3 1541.7,297.1 1542.4,298.1 1543.0,297.7 1543.6,305.5 1544.8,310.9 1545.8,310.9 1546.9,311.4 1548.0,316.2 1549.1,319.6 1550.3,322.0 1551.5,319.5 1552.7,323.5 1555.3,324.7 1558.0,321.8 1560.8,323.0 1563.6,319.6 1566.4,321.7 1568.7,318.4 1571.2,315.9 1573.7,311.6 1576.1,315.8 1578.2,309.2 1580.0,310.7 1580.0,302.9 1582.2,307.7 1584.9,304.6 1587.8,305.8 1590.8,306.6 1593.6,311.6 1596.4,307.4 1599.2,307.1 1602.0,310.4 1604.7,305.9 1607.3,307.3 1609.7,307.1 1611.8,314.6 1614.0,312.3 1616.4,316.9 1617.8,313.0 1619.2,312.2 1620.7,309.4 1622.2,309.0 1623.8,303.5 1625.4,300.7 1626.9,299.8 1628.5,297.1 1630.0,299.3 1631.5,296.2 1633.1,289.7 1634.6,288.3 1636.1,286.3 1637.7,286.5 1639.2,279.0 1640.7,280.4 1642.2,280.4 1643.6,278.0 1646.6,272.6 1649.5,271.7 1652.3,271.4 1655.0,272.0 1655.6,274.9 1656.2,279.7 1656.8,278.0 1657.4,283.5 1658.0,285.4 1658.6,288.4 1659.1,289.9 1659.7,293.7 1660.3,294.5 1660.8,299.0 1661.4,301.9 1661.9,305.0 1662.5,308.3 1663.0,309.7 1663.6,308.9 1664.1,314.8 1664.4,315.9 1664.7,320.9 1665.0,319.9 1665.3,322.6 1665.5,324.3 1665.8,331.0 1666.1,329.2 1666.4,335.8 1666.6,336.8 1666.9,341.5 1667.2,341.2 1667.5,347.4 1667.7,350.1 1668.0,349.3 1668.2,353.5 1668.5,356.2 1668.8,358.5 1669.0,360.5 1669.3,364.5 1669.6,365.3 1669.8,371.4 1670.1,368.8 1670.4,370.7 1670.6,375.5 1670.9,377.8 1671.3,381.3 1671.8,385.9 1672.2,385.6 1672.6,392.1 1673.0,395.6 1673.5,395.8 1673.9,400.3 1674.3,400.1 1674.7,403.5 1675.2,405.3 1675.6,409.6 1676.0,409.7 1676.4,417.0 1676.9,417.7 1677.3,420.1 1677.7,420.6 1678.5,417.5 1679.2,413.2 1679.9,415.3 1680.7,415.4 1681.4,410.3 1682.2,407.5 1682.9,404.6 1683.7,399.7 1684.5,394.9 1684.9,393.8 1685.2,391.8 1685.6,386.7 1685.9,388.6 1686.3,383.2 1686.7,382.4 1687.0,380.3 1687.4,375.2 1687.8,375.6 1688.1,372.8 1688.5,367.4 1688.9,371.6 1689.3,365.8 1689.7,357.9 1690.0,359.4 1690.4,352.7 1690.8,353.0 1691.2,348.5 1691.5,345.3 1691.9,342.2 1692.2,342.5 1692.6,337.4 1693.0,334.6 1693.3,333.7 1693.6,330.8 1694.4,328.7 1695.2,325.8 1695.9,322.9 1696.6,321.0 1697.3,316.2 1698.0,317.3 1698.8,313.4 1699.6,311.6 1700.5,311.1 1702.6,305.0 1705.1,304.9 1707.5,303.5 1709.9,299.3 1711.8,303.4 1712.0,302.3 1712.2,305.0 1712.4,308.2 1712.6,306.9 1712.7,313.5 1712.8,314.5 1712.9,315.6 1713.0,319.6 1713.1,320.1 1713.2,327.3 1713.2,324.9 1713.3,330.5 1713.4,332.7 1713.4,335.6 1713.5,341.9 1713.6,342.1 1713.7,344.3 1713.7,349.5 1713.8,349.6 1714.0,352.2 1714.1,355.7 1714.3,357.3 1714.6,359.2 1714.9,361.4 1715.1,364.7 1715.4,368.3 1715.7,370.8 1716.0,377.8 1716.3,381.8 1716.6,382.4 1716.9,382.3 1717.2,386.9 1717.5,391.1 1717.8,391.0 1718.1,395.8 1718.3,395.7 1718.6,390.3 1719.0,390.3 1719.3,394.9 1719.6,389.5 1719.9,387.7 1720.3,388.2 1720.6,383.6 1720.9,381.2 1721.2,377.1 1721.6,378.3 1721.9,373.6 1722.2,367.2 1722.5,365.1 1722.9,360.3 1723.2,362.4 1723.4,357.3 1723.6,355.7 1723.8,355.1 1724.0,349.3 1724.3,350.4 1724.5,347.7 1724.7,340.5 1724.9,339.3 1725.1,334.4 1725.3,336.5 1725.5,329.2 1725.7,329.0 1725.9,327.3 1726.2,323.8 1726.4,324.6 1726.6,320.0 1726.9,316.2 1727.2,317.0 1727.4,314.0 1727.7,312.9 1728.4,305.9 1729.1,302.7 1729.7,299.2 1730.5,298.4 1731.2,298.3 1731.9,295.7 1732.7,288.5 1733.5,288.7 1734.3,286.5 1735.1,286.6 1736.0,283.8 1736.8,279.1 1738.9,282.7 1741.2,282.8 1743.6,284.4 1745.9,282.4 1748.2,287.7 1750.5,288.2 1752.7,285.7 1754.9,287.9 1757.0,283.3 1759.3,284.0 1761.8,280.2 1763.9,278.5 1766.1,277.3 1768.5,277.2 1770.8,276.3 1773.2,275.2 1775.6,272.3 1777.8,270.6 1780.0,267.6 1781.8,267.6 1783.6,269.7 1785.3,279.5 1787.0,276.4 1788.6,280.3 1790.3,280.4 1792.0,281.5 1793.6,286.9 1796.3,283.7 1799.0,284.8 1801.6,288.1 1804.4,287.0 1807.3,287.5 1809.7,287.1 1812.3,287.1 1814.9,284.5 1817.5,285.4 1820.2,280.5 1822.8,284.5 1825.5,284.2 1827.8,283.2 1830.1,287.0 1832.5,283.1 1834.8,286.5 1837.1,285.3 1839.4,288.4 1841.6,288.7 1843.6,292.1 1844.8,294.4 1846.0,298.5 1847.1,301.3 1848.1,298.9 1849.2,306.5 1850.2,306.6 1851.1,306.2 1852.1,309.4 1853.1,315.0 1854.0,319.4 1855.0,318.3 1856.2,322.8 1857.3,327.1 1858.4,326.9 1859.5,329.4 1860.6,331.7 1861.8,329.9 1862.9,338.1 1864.1,339.6 1866.3,341.2 1868.5,338.9 1870.7,338.9 1873.1,336.9 1875.5,330.0 1878.1,335.5 1880.9,334.1 1883.8,333.2 1886.5,334.2 1889.1,329.8 1890.0,328.9 1890.9,326.2 1891.7,324.8 1892.5,323.6 1893.3,323.6 1894.0,319.2 1894.8,317.2 1895.6,310.2 1896.4,308.6 1897.3,306.8 1898.2,308.2 1900.3,306.2 1902.4,302.3 1904.7,301.2 1907.0,297.7 1909.4,296.0 1911.8,294.3 1914.3,296.7 1916.9,294.3 1919.6,297.1 1922.3,296.5 1924.9,290.8 1927.5,296.6 1930.0,297.9 1931.4,296.6 1932.8,290.2 1934.1,289.8 1935.4,289.7 1936.6,286.7 1937.9,282.9 1939.2,283.2 1940.6,276.3 1942.1,273.4 1943.6,271.2 1945.5,271.4 1947.4,270.2 1949.3,266.8 1951.3,265.4 1953.4,267.3 1955.4,262.8 1957.6,258.8 1959.7,262.0 1961.9,256.3 1964.1,254.2 1966.4,254.5 1968.7,255.9 1971.1,253.6 1973.7,253.6 1976.2,252.6 1978.8,256.0 1981.4,248.2 1984.0,247.3 1986.5,249.5 1989.0,246.8 1991.4,248.2 1993.7,246.1 1995.9,245.9 1998.6,244.5 2001.1,251.0 2003.4,246.8 2005.6,250.5 2007.7,253.2 2009.8,255.6 2011.8,258.1 2013.4,257.1 2014.9,258.9 2016.4,261.9 2017.8,263.1 2019.2,262.1 2020.6,269.0 2021.9,267.8 2023.2,274.1 2023.5,274.8 2023.9,277.2 2024.2,279.0 2024.5,281.9 2024.9,282.9 2025.2,290.1 2025.5,288.5 2025.8,294.6 2026.1,295.4 2026.4,292.4 2026.7,300.9 2027.0,307.6 2027.3,309.9 2027.6,312.4 2027.8,315.8 2028.1,318.4 2028.4,316.6 2028.7,321.0 2028.9,322.8 2029.2,326.6 2029.5,327.1 2029.7,330.6 2030.0,333.7 2030.7,337.1 2031.4,342.3 2032.0,345.6 2032.6,345.2 2033.2,348.9 2033.8,349.0 2034.5,352.2 2035.0,349.2 2035.4,345.7 2035.9,344.5 2036.4,342.1 2036.8,341.8 2037.3,336.2 2037.8,335.9 2038.3,332.8 2038.8,327.7 2039.3,324.2 2039.8,325.9 2040.3,321.2 2040.8,319.1 2041.4,313.6 2041.9,313.8 2042.4,309.4 2042.9,305.4 2043.4,305.4 2044.0,303.6 2044.5,298.4 2045.0,294.9 2045.6,291.4 2046.1,289.3 2046.7,290.1 2047.3,287.5 2047.9,282.4 2048.5,282.1 2049.1,275.8 2049.8,275.4 2050.5,274.2 2052.2,267.9 2054.1,266.4 2056.1,264.7 2058.2,262.2 2060.2,262.0 2062.3,256.7 2064.3,259.1 2066.4,255.9 2067.8,261.6 2069.3,261.6 2070.7,261.1 2072.1,264.9 2073.6,269.3 2075.0,269.3 2076.5,273.2 2077.9,276.1 2079.4,277.0 2080.8,279.7 2082.3,281.2 2084.3,280.5 2086.2,282.7 2088.2,277.9 2090.1,277.2 2092.1,272.5 2094.1,271.4 2096.1,272.6 2098.2,269.4 2100.1,269.3 2102.0,264.5 2103.8,263.9 2105.7,260.2 2107.6,257.3 2109.6,257.1 2111.7,257.2 2114.0,256.7 2116.4,256.7 2118.8,257.9 2121.3,254.7 2124.0,253.4 2126.8,252.1 2129.6,252.8 2132.4,254.1 2135.3,251.9 2138.1,255.8 2140.8,250.7 2143.4,253.2 2145.9,252.0 2148.2,252.2 2150.7,257.2 2152.8,255.7 2154.6,259.2 2156.4,260.0 2158.0,260.5 2159.8,263.4 2161.8,263.7 2163.7,259.8 2165.8,266.9 2167.9,263.0 2170.0,259.2 2172.1,253.4 2174.2,258.8 2176.3,256.5 2178.2,254.4 2180.0,251.1 2181.8,249.2 2183.5,245.0 2185.0,235.6 2186.4,242.8 2187.7,239.9 2189.1,238.6 2189.6,238.0 2190.1,242.4 2190.6,241.2 2191.1,254.9 2191.6,252.1 2192.0,256.9 2192.5,263.4 2193.0,262.9 2193.4,268.1 2193.9,270.7 2194.4,258.8 2194.9,268.8 2195.4,275.4 2195.9,280.2 2197.0,280.0 2198.1,262.5 2199.2,260.8 2200.3,268.0 2201.4,256.6 2202.6,255.8 2203.8,264.6 2205.0,264.3 2207.9,261.0 2211.0,264.7 2214.0,262.9 2216.4,252.6" fill="none" stroke="#000" stroke-width="12" stroke-linejoin="round" stroke-linecap="butt" />
<polyline points="176.8,415.0 178.7,417.9 180.7,416.4 182.8,417.2 185.1,411.8 187.4,412.6 189.9,417.7 192.4,416.5 195.1,412.2 197.7,419.0 200.5,414.9 203.2,410.5 206.0,417.1 208.8,413.5 211.7,413.4 214.5,416.3 217.3,415.0 220.0,418.6 222.8,414.7 225.5,411.8 228.0,413.0 230.5,410.3 233.1,415.0 235.7,412.2 238.4,410.4 241.0,408.1 243.7,410.0 246.3,412.4 249.0,412.6 251.7,413.6 254.3,414.0 257.0,411.9 259.7,409.3 262.3,413.7 264.9,405.5 267.5,409.0 270.1,406.0 272.6,407.3 275.1,405.2 277.6,405.0 280.0,408.1 282.8,408.0 285.6,403.8 288.4,402.6 291.2,411.6 294.0,410.0 296.7,412.8 299.4,412.9 302.1,412.1 304.7,410.8 307.2,408.5 309.7,414.8 312.1,414.0 314.5,410.2 316.7,421.7 318.9,412.1 320.9,412.3 323.5,413.0 325.5,409.3 327.2,407.7 328.5,408.5 329.7,398.6 330.9,400.7 332.3,402.7 333.8,406.9 334.9,400.7 336.4,407.0 339.1,409.0 341.2,406.2 343.4,410.3 345.8,409.6 348.3,413.1 350.9,407.0 353.6,413.4 356.3,411.2 359.1,409.2 362.0,407.2 365.0,412.9 367.9,408.5 370.9,419.7 373.2,411.7 375.6,414.3 378.1,408.3 380.6,414.3 383.1,410.2 385.7,415.1 388.2,409.9 390.8,413.4 393.5,414.3 396.1,418.1 398.7,420.0 401.3,418.6 403.9,415.5 406.5,415.9 409.0,416.4 411.5,420.5 414.0,421.7 416.4,422.9 418.5,425.2 420.6,430.6 422.7,427.1 424.8,433.4 426.9,431.9 428.9,431.0 430.9,432.0 432.9,431.9 434.9,439.1 436.9,437.7 438.8,438.2 440.8,441.4 442.8,445.9 444.8,442.7 446.7,444.9 448.7,447.3 450.7,448.0 452.7,452.3 454.6,455.4 456.6,452.8 458.5,452.6 460.4,455.0 462.3,455.9 464.2,459.1 466.1,459.9 468.0,464.5 470.0,468.3 471.9,466.2 473.8,474.7 475.7,472.9 477.6,476.0 479.5,475.3 481.4,473.6 483.3,479.3 485.3,481.1 487.2,481.2 489.1,482.3 491.2,484.8 493.4,484.1 495.5,484.2 497.6,488.4 499.8,487.2 501.9,491.2 504.1,491.6 506.2,496.5 508.3,498.4 510.5,499.7 512.6,496.0 514.8,499.7 516.9,503.6 519.0,503.6 521.2,500.0 523.3,501.9 525.5,506.2 527.6,506.6 529.8,505.4 531.9,506.9 534.1,512.0 536.3,509.3 538.5,517.0 540.7,514.8 542.9,518.0 545.1,519.1 547.2,520.0 549.4,518.7 551.5,525.4 553.6,526.8 555.7,527.0 557.8,527.6 559.8,530.1 561.8,530.8 564.5,531.1 567.2,528.8 569.8,532.9 572.4,533.9 574.9,529.9 577.4,533.2 579.8,532.1 582.2,531.3 584.5,532.3 586.8,533.4 589.1,533.7 592.0,533.7 594.7,535.0 597.3,532.3 599.8,533.7 602.2,538.6 604.7,531.6 607.3,532.3 609.5,534.7 611.6,531.5 613.6,535.4 615.7,534.5 617.8,527.4 620.1,525.4 622.7,529.4 625.5,526.2 627.4,522.6 629.5,522.3 631.7,520.7 633.9,522.2 636.2,521.5 638.5,522.4 640.9,518.8 643.3,520.1 645.7,513.3 648.1,516.2 650.5,514.6 652.9,515.4 655.2,510.8 657.5,511.8 659.7,506.2 661.8,509.8 664.1,507.6 666.4,502.3 668.7,503.3 670.9,504.9 673.2,500.0 675.3,499.8 677.5,500.6 679.6,493.1 681.6,491.3 683.6,492.6 685.5,491.3 687.3,492.6 689.1,487.8 692.4,487.7 694.8,487.6 697.1,484.4 700.0,487.2 702.2,480.8 704.6,476.2 707.2,479.4 709.7,479.5 712.3,478.8 714.9,476.6 717.5,474.0 720.0,475.0 721.8,475.8 723.6,477.3 725.5,477.0 727.3,483.4 729.1,481.6 730.8,488.6 732.6,492.1 734.2,493.1 735.9,491.3 737.4,496.2 740.2,493.2 742.7,493.6 745.0,494.9 747.4,490.7 748.7,492.4 749.9,490.0 751.2,491.5 752.5,482.1 753.8,481.1 755.0,478.2 756.2,476.4 757.4,475.5 758.7,472.6 760.0,482.3 761.3,483.6 762.5,483.5 763.7,484.2 764.9,487.6 765.3,491.5 765.7,492.5 766.0,498.5 766.4,500.8 766.8,500.5 767.1,502.0 767.5,503.4 767.8,509.6 768.1,507.6 768.5,513.1 768.8,513.8 769.2,518.0 769.5,523.9 769.9,523.1 770.1,524.2 770.4,530.0 770.6,528.9 770.9,533.6 771.1,537.9 771.4,536.8 771.6,542.8 771.9,540.5 772.1,548.0 772.4,550.1 772.7,551.9 772.9,556.6 773.2,558.2 773.4,557.7 773.7,562.5 773.9,564.3 774.1,565.0 774.4,566.8 774.6,573.9 774.9,575.2 775.1,574.3 775.3,580.6 775.5,579.1 775.7,585.7 775.9,588.4 776.1,586.7 776.2,593.8 776.4,591.5 776.6,594.1 776.8,596.5 777.0,602.5 777.2,603.4 777.4,603.7 777.5,607.4 777.7,612.8 777.9,614.2 778.1,614.2 778.3,617.7 778.4,622.9 778.6,622.9 778.7,628.8 778.9,629.2 779.0,634.5 779.2,634.4 779.3,639.7 779.5,638.8 779.6,643.0 779.7,643.7 779.9,651.5 780.0,650.6 780.1,656.3 780.3,654.4 780.4,660.7 780.5,662.8 780.6,664.5 780.8,666.5 780.9,671.7 781.0,674.2 781.1,676.6 781.2,679.9 781.3,683.0 781.4,690.6 781.5,689.3 781.5,689.3 781.6,690.8 781.7,694.4 781.9,694.3 782.1,698.4 782.4,698.4 782.7,693.0 783.0,692.1 783.4,691.9 783.7,685.8 784.1,681.2 784.5,681.4 784.9,680.9 785.3,674.1 785.7,670.1 786.1,669.7 786.5,665.9 786.9,662.7 787.3,661.1 788.1,658.8 788.9,652.7 789.7,651.5 790.6,652.0 791.4,648.6 792.3,644.7 793.1,639.5 794.0,641.4 794.8,638.2 796.1,642.0 797.3,639.5 798.6,645.7 799.8,645.1 801.0,648.2 802.3,654.6 803.2,656.1 804.1,657.2 805.0,663.9 805.9,666.2 806.9,669.5 807.8,671.1 808.8,672.6 809.8,676.7 811.4,673.3 813.1,669.3 814.9,668.2 816.6,664.4 818.3,666.8 819.8,662.7 820.2,657.7 820.6,655.9 820.9,653.9 821.3,652.9 821.6,652.9 821.9,653.8 822.2,649.8 822.5,642.5 822.8,641.2 823.1,635.1 823.4,634.5 823.7,631.4 824.0,630.6 824.4,626.1 824.8,622.5 825.2,623.0 825.7,618.4 826.3,617.1 826.8,613.6 827.3,612.1 827.9,607.0 828.4,603.0 828.9,604.2 829.5,598.4 830.1,595.6 830.6,593.4 831.2,591.7 831.7,589.7 832.2,591.7 834.1,586.6 836.0,582.4 837.8,582.7 839.7,576.1 840.8,579.5 841.9,582.2 843.0,582.1 844.1,585.1 845.2,592.9 846.2,591.7 847.2,595.7 847.7,596.9 848.1,601.8 848.6,602.9 849.0,608.6 849.4,608.9 849.8,614.4 850.2,615.4 850.6,616.0 851.0,621.3 851.4,625.5 851.8,622.1 852.2,624.9 853.0,627.8 853.9,624.2 854.7,620.1 855.6,618.6 856.4,613.6 857.2,608.7 857.4,607.2 857.6,607.5 857.8,606.8 858.0,603.5 858.2,598.1 858.4,599.4 858.6,597.9 858.8,592.1 859.0,589.1 859.2,589.7 859.3,585.0 859.5,579.7 859.7,581.0 859.9,577.3 860.1,576.8 860.2,573.1 860.4,567.8 860.6,565.8 860.8,561.2 860.9,560.9 861.1,558.7 861.3,555.0 861.5,550.6 861.6,548.3 861.8,549.3 861.9,548.6 862.1,545.9 862.3,541.9 862.4,539.6 862.6,538.3 862.7,534.0 862.9,528.1 863.1,531.2 863.2,523.7 863.4,527.1 863.8,519.6 864.1,521.0 864.5,516.5 864.8,512.9 865.2,507.9 865.6,505.8 866.0,503.7 866.4,505.8 866.8,498.7 867.2,499.2 867.8,494.3 868.5,495.7 869.2,493.7 869.9,487.6 870.6,486.4 871.4,484.6 872.2,481.8 873.1,482.2 874.1,473.8 875.0,473.1 876.0,470.6 877.1,471.7 878.3,469.0 879.6,465.7 881.3,461.1 883.0,458.6 884.9,458.9 886.8,454.4 888.7,456.5 890.7,455.6 892.6,449.2 894.6,450.6 897.1,448.8 899.6,446.6 902.1,447.8 904.7,445.0 907.3,443.0 909.7,442.7 912.1,441.4 914.3,442.6 916.5,444.1 918.5,446.6 920.5,452.0 922.5,448.0 924.6,451.2 926.3,450.9 927.9,445.0 929.6,448.4 931.3,442.3 933.0,438.8 934.9,441.1 937.0,435.3 939.3,437.2 941.7,435.1 944.3,433.0 947.0,436.3 949.6,431.3 952.3,436.0 954.8,432.4 957.2,429.6 959.5,429.2 962.3,432.4 964.3,433.6 966.8,431.8 970.9,431.0 972.9,428.6 975.1,431.0 977.3,427.6 979.6,429.2 982.1,427.9 984.5,425.8 987.1,426.2 989.7,429.4 992.4,426.7 995.0,425.0 997.7,425.8 1000.5,421.7 1003.2,424.3 1005.9,422.2 1008.6,425.3 1011.2,420.9 1013.8,420.5 1016.4,419.3 1018.9,420.6 1021.4,418.5 1023.9,417.9 1026.5,418.7 1029.0,420.9 1031.5,418.8 1034.0,420.2 1036.6,417.7 1039.1,416.3 1041.6,417.6 1044.1,416.3 1046.7,414.5 1049.2,415.5 1051.7,415.7 1054.2,413.8 1056.8,414.3 1059.3,415.5 1061.8,415.8 1064.4,411.7 1066.9,412.3 1069.5,414.0 1072.0,411.9 1074.6,411.9 1077.2,414.7 1079.7,413.9 1082.3,413.4 1084.9,409.5 1087.4,410.5 1090.0,413.6 1092.5,411.0 1095.0,414.1 1097.5,408.9 1100.0,413.6 1102.5,412.6 1104.9,411.2 1107.3,412.3 1110.1,407.3 1112.9,411.1 1115.7,409.8 1118.5,407.3 1121.3,405.7 1124.1,405.1 1126.8,406.6 1129.5,406.7 1132.1,405.3 1134.6,407.2 1137.0,406.2 1139.3,408.1 1141.6,403.7 1143.6,405.5 1147.8,406.4 1150.1,409.6 1152.7,405.0 1154.7,403.9 1156.7,403.4 1158.7,405.8 1160.9,401.5 1163.4,402.8 1166.4,402.0 1168.4,400.6 1170.6,402.5 1172.8,399.8 1175.1,401.9 1177.4,402.3 1179.8,403.9 1182.3,406.0 1184.9,403.8 1187.4,407.6 1190.1,407.7 1192.7,408.4 1195.4,404.9 1198.2,405.3 1200.5,406.9 1203.0,408.5 1205.5,409.8 1208.2,410.6 1210.8,408.0 1213.5,411.0 1216.3,408.9 1219.0,407.8 1221.8,409.9 1224.5,409.5 1227.2,410.7 1229.8,413.2 1232.4,412.3 1234.8,413.5 1237.2,411.9 1239.5,410.5 1241.6,413.9 1243.6,409.8 1248.3,419.7 1250.5,416.5 1252.7,414.9 1253.9,412.2 1255.0,407.9 1256.1,405.4 1257.2,406.1 1258.4,404.3 1259.9,406.0 1261.8,395.7 1263.8,400.4 1266.0,399.3 1268.2,397.6 1270.5,402.7 1272.9,400.5 1275.3,400.6 1277.9,404.5 1280.6,402.4 1283.3,404.3 1286.2,404.2 1289.1,406.6 1291.4,405.8 1293.7,405.6 1296.2,402.4 1298.7,406.5 1301.3,407.2 1303.9,404.0 1306.6,406.7 1309.3,407.6 1312.0,401.7 1314.7,401.7 1317.4,403.0 1320.0,403.5 1322.6,406.1 1325.2,403.9 1327.6,402.2 1330.0,402.4 1332.3,406.0 1334.5,405.1 1337.7,401.3 1340.5,401.8 1343.1,407.6 1345.6,408.0 1347.9,402.3 1350.2,403.6 1352.5,407.3 1354.8,408.5 1357.3,408.3 1359.7,408.7 1362.1,407.9 1364.3,405.6 1366.6,402.3 1369.0,404.8 1371.4,405.4 1374.0,404.5 1376.9,401.5 1380.0,399.5 1382.2,403.6 1384.4,397.6 1386.7,399.5 1389.0,397.9 1391.3,399.1 1393.7,398.9 1396.2,397.8 1398.7,400.2 1401.2,396.9 1403.8,400.8 1406.4,401.9 1409.0,398.4 1411.7,399.3 1414.4,395.7 1417.1,401.6 1419.9,399.2 1422.6,399.2 1425.5,401.3 1427.8,397.1 1430.2,395.7 1432.7,401.2 1435.3,397.7 1437.8,396.9 1440.4,399.4 1443.1,400.9 1445.8,399.6 1448.5,396.2 1451.2,401.3 1453.9,398.1 1456.6,401.1 1459.3,398.5 1462.0,398.4 1464.7,399.7 1467.3,400.3 1470.0,398.6 1472.5,396.5 1475.1,395.5 1477.6,398.8 1480.0,400.9 1482.4,396.5 1484.7,399.0 1486.9,395.6 1489.1,399.9 1492.4,397.6 1495.5,401.7 1498.3,395.7 1501.0,402.1 1503.4,399.3 1505.7,401.3 1508.0,402.8 1510.1,401.2 1512.2,404.9 1514.3,402.9 1516.4,408.4 1518.3,406.0 1520.0,406.8 1521.6,411.8 1523.1,414.2 1524.6,412.0 1526.0,416.2 1527.3,416.4 1528.6,422.1 1530.0,421.4 1530.7,427.5 1531.4,428.2 1532.1,431.5 1532.8,431.6 1533.4,436.5 1534.1,441.9 1534.7,440.7 1535.3,445.3 1536.0,445.8 1536.6,453.0 1537.2,455.3 1537.8,456.1 1538.4,455.9 1539.1,462.9 1540.2,461.9 1541.3,467.6 1542.4,471.5 1543.5,468.7 1544.6,471.4 1545.7,473.7 1546.9,479.4 1548.2,482.6 1550.7,483.7 1553.3,481.4 1556.0,478.5 1558.9,476.1 1561.8,477.1 1564.4,477.3 1567.1,475.1 1570.0,477.0 1572.8,475.7 1575.5,473.1 1578.0,471.7 1580.0,473.9 1580.0,475.1 1582.2,469.4 1584.7,476.8 1587.6,476.2 1590.6,474.4 1593.6,476.3 1596.1,474.3 1598.7,472.0 1601.4,476.3 1604.1,470.0 1606.7,469.6 1609.3,472.5 1611.8,470.8 1613.3,464.3 1614.7,467.1 1616.1,462.9 1617.5,462.5 1618.8,455.6 1620.1,458.3 1621.4,454.6 1622.8,451.1 1624.1,450.1 1625.5,449.1 1627.4,445.8 1629.4,441.4 1631.3,443.7 1633.2,438.7 1635.2,440.6 1637.1,437.5 1639.1,436.6 1641.9,433.3 1644.7,433.8 1647.5,430.6 1650.2,433.0 1652.7,432.2 1653.5,432.0 1654.2,435.4 1654.9,435.9 1655.6,442.3 1656.2,441.5 1656.9,447.6 1657.5,446.6 1658.2,450.3 1658.8,451.6 1659.4,457.4 1660.0,457.7 1660.6,462.8 1661.2,464.7 1661.8,469.0 1662.1,471.8 1662.4,474.1 1662.6,474.2 1662.9,481.3 1663.2,478.6 1663.4,481.7 1663.7,481.1 1663.9,488.5 1664.2,489.8 1664.4,490.0 1664.7,495.1 1664.9,498.2 1665.2,501.2 1665.4,501.8 1665.7,508.8 1665.9,507.1 1666.2,515.2 1666.4,513.7 1666.7,520.4 1666.9,520.7 1667.1,520.9 1667.4,526.4 1667.6,528.9 1667.9,529.8 1668.1,530.0 1668.4,537.3 1668.6,534.7 1669.2,538.6 1669.7,542.0 1670.2,548.8 1670.7,549.2 1671.2,551.4 1671.7,556.6 1672.2,557.5 1672.7,562.4 1673.3,560.6 1673.8,565.6 1674.3,566.7 1674.9,569.5 1675.5,569.3 1676.1,566.4 1676.8,563.9 1677.5,566.9 1678.2,560.0 1678.9,560.7 1679.6,554.7 1680.4,555.3 1681.1,549.5 1681.8,547.6 1682.5,546.3 1683.2,545.8 1683.9,539.7 1684.5,539.3 1684.9,536.6 1685.3,533.9 1685.6,532.9 1686.0,529.2 1686.3,525.5 1686.6,520.9 1687.0,518.1 1687.3,517.1 1687.6,515.7 1688.0,514.7 1688.3,510.9 1688.6,507.4 1688.9,506.4 1689.3,499.3 1689.6,498.5 1689.9,495.1 1690.3,493.7 1690.6,489.6 1691.0,488.4 1691.4,487.5 1692.4,479.2 1693.5,481.5 1694.7,477.3 1695.8,475.2 1697.0,474.2 1698.1,469.5 1699.3,468.9 1700.5,468.5 1703.6,470.1 1706.8,467.1 1709.5,469.9 1709.8,472.9 1710.1,470.2 1710.3,475.4 1710.5,474.9 1710.7,479.2 1710.9,481.2 1711.0,484.4 1711.2,490.2 1711.3,489.3 1711.5,496.3 1711.6,494.5 1711.8,496.4 1711.9,503.5 1712.1,506.2 1712.2,509.5 1712.4,511.6 1712.5,514.5 1712.7,513.1 1713.0,517.6 1713.3,518.8 1713.6,524.5 1713.9,525.3 1714.2,530.4 1714.5,532.3 1714.8,538.0 1715.1,539.9 1715.4,544.4 1715.7,541.0 1716.0,543.3 1716.4,544.2 1716.6,545.5 1716.9,543.2 1717.2,542.7 1717.4,538.1 1717.7,539.5 1718.0,537.2 1718.2,531.0 1718.5,527.3 1718.8,528.3 1719.1,522.9 1719.4,522.2 1719.7,514.5 1720.0,514.0 1720.3,509.1 1720.6,514.6 1720.9,506.1 1721.3,504.5 1721.6,503.0 1722.0,500.2 1722.3,492.6 1722.7,490.1 1723.0,492.9 1723.4,490.3 1723.8,484.9 1724.1,479.7 1724.5,479.2 1724.9,478.9 1725.3,472.1 1725.7,469.1 1726.1,470.1 1726.5,469.7 1726.9,462.3 1727.3,463.8 1727.7,463.0 1728.6,454.6 1729.4,451.7 1730.3,451.8 1731.1,441.8 1732.0,448.5 1732.9,441.7 1733.8,438.5 1734.8,441.0 1735.8,438.2 1736.8,435.6 1739.4,436.5 1742.1,433.6 1745.0,438.3 1747.8,436.4 1750.5,441.3 1752.7,437.8 1754.9,437.8 1757.0,436.2 1759.3,433.4 1761.8,433.2 1764.2,432.4 1766.8,430.7 1769.4,428.6 1772.1,424.6 1774.8,425.4 1777.4,427.8 1780.0,426.7 1781.5,426.1 1783.0,429.7 1784.5,433.5 1786.0,433.5 1787.5,439.1 1788.9,442.4 1790.4,439.8 1791.8,442.1 1793.2,448.3 1794.6,448.9 1795.9,448.9 1798.3,452.5 1800.5,450.2 1802.6,446.2 1804.8,443.1 1807.3,444.5 1809.4,443.0 1811.6,440.9 1813.9,438.1 1816.2,440.3 1818.6,433.0 1820.9,432.8 1823.2,433.5 1825.5,435.3 1827.5,428.2 1829.6,436.0 1831.6,437.1 1833.7,435.0 1835.7,441.6 1837.6,438.9 1839.5,446.3 1841.4,444.4 1842.2,451.0 1843.0,451.5 1843.8,450.5 1844.6,457.3 1845.4,455.8 1846.2,463.3 1846.9,460.6 1847.7,468.6 1848.4,470.8 1849.1,471.6 1849.9,472.6 1850.6,475.6 1851.3,479.4 1852.0,483.1 1852.7,480.2 1854.3,486.1 1855.7,488.4 1857.1,491.9 1858.5,495.5 1860.1,496.9 1861.8,495.3 1864.2,499.2 1866.8,498.1 1869.5,502.3 1872.3,500.1 1875.0,503.9 1877.7,501.8 1879.5,500.4 1881.3,498.9 1883.1,498.0 1884.9,499.6 1886.7,494.9 1888.4,491.3 1890.2,489.3 1891.9,488.2 1893.6,483.9 1895.6,483.3 1897.6,482.2 1899.4,478.3 1901.3,474.3 1903.2,472.5 1905.2,475.8 1907.3,469.3 1909.2,468.4 1911.2,469.0 1913.2,467.9 1915.3,466.8 1917.4,464.6 1919.5,459.8 1921.5,458.6 1923.5,459.8 1925.5,455.4 1926.7,455.7 1927.8,450.4 1928.9,449.2 1930.0,445.2 1931.1,445.3 1932.1,444.4 1933.2,442.2 1934.2,437.1 1935.4,433.8 1936.5,432.4 1937.8,431.8 1939.1,426.8 1940.9,423.8 1942.9,426.9 1944.8,425.9 1946.8,420.9 1948.9,420.8 1951.0,420.9 1953.1,415.0 1955.3,417.6 1957.4,415.6 1959.6,410.9 1961.8,411.5 1964.2,414.4 1966.7,411.8 1969.2,410.8 1971.7,407.8 1974.3,412.2 1976.8,410.8 1979.4,410.0 1981.9,410.3 1984.3,408.9 1986.8,406.0 1989.1,406.7 1991.9,409.7 1994.6,414.8 1997.3,406.0 1999.9,406.5 2002.5,408.8 2004.9,412.5 2007.3,412.0 2009.5,412.0 2011.1,412.7 2012.5,415.8 2013.9,415.7 2015.2,421.7 2016.4,419.4 2017.6,422.3 2018.8,424.3 2019.9,427.6 2020.9,432.3 2021.3,434.5 2021.6,436.6 2021.9,438.4 2022.2,440.4 2022.5,445.1 2022.7,450.4 2023.0,451.3 2023.2,455.6 2023.4,455.4 2023.7,458.8 2023.9,462.3 2024.1,465.2 2024.3,466.4 2024.5,470.5 2024.7,471.2 2025.0,471.6 2025.2,474.2 2025.5,479.2 2026.6,485.5 2027.6,485.3 2028.8,487.0 2030.0,490.0 2030.5,489.7 2031.0,485.4 2031.5,484.5 2032.0,478.7 2032.5,481.2 2033.0,476.5 2033.5,474.5 2034.0,469.1 2034.6,467.0 2035.1,462.2 2035.7,462.2 2036.2,460.9 2036.8,457.7 2037.4,457.3 2038.0,448.0 2038.6,449.7 2039.2,445.4 2039.7,441.4 2040.3,439.4 2040.9,434.1 2041.6,434.1 2042.2,429.7 2042.9,427.0 2043.6,424.1 2044.3,423.8 2045.1,418.7 2045.9,419.2 2047.9,415.2 2050.1,414.0 2052.4,411.9 2054.7,409.4 2057.1,412.3 2059.5,408.0 2061.8,412.6 2064.1,410.3 2065.5,411.7 2066.8,415.9 2068.1,415.0 2069.4,416.6 2070.7,423.2 2072.0,424.6 2073.3,422.8 2074.6,430.8 2076.0,432.7 2077.3,431.2 2078.6,436.8 2080.0,440.2 2081.8,436.8 2083.5,438.0 2085.4,438.3 2087.2,433.6 2089.0,427.8 2090.8,424.6 2092.7,423.2 2094.5,420.8 2096.4,421.5 2098.2,421.8 2100.7,418.8 2103.1,418.9 2105.5,417.1 2108.0,413.1 2110.6,416.5 2113.3,412.0 2116.4,413.3 2118.8,413.9 2121.4,411.3 2124.1,412.7 2126.9,416.5 2129.7,408.6 2132.6,409.0 2135.5,408.9 2138.3,409.8 2141.0,413.0 2143.6,411.1 2146.0,412.2 2148.2,412.3 2150.1,414.0 2151.6,417.9 2152.7,420.8 2153.7,424.1 2154.7,424.2 2155.8,424.6 2157.3,430.5 2158.7,425.1 2160.3,427.4 2161.9,426.3 2163.6,420.4 2165.3,421.7 2167.1,415.2 2168.8,413.7 2170.5,409.1 2172.2,412.8 2173.9,410.0 2175.5,398.0 2176.7,399.9 2177.9,408.8 2179.1,391.3 2180.3,390.4 2181.5,395.1 2182.6,388.0 2183.7,384.0 2184.8,394.9 2185.9,380.5 2187.0,375.9 2188.1,383.2 2189.1,379.1 2189.9,380.1 2190.7,380.3 2191.4,364.2 2192.2,370.5 2192.9,355.8 2193.6,356.6 2194.3,364.3 2195.0,359.1 2195.7,348.2 2196.3,347.8 2197.0,348.8 2197.6,341.1 2198.2,340.3 2198.4,354.1 2198.7,347.2 2198.9,343.2 2199.1,341.8 2199.4,360.6 2199.6,368.3 2199.8,354.1 2200.0,356.0 2200.2,363.5 2200.3,369.0 2200.5,378.2 2200.7,382.5 2200.9,379.2 2201.1,375.0 2201.3,378.9 2201.4,389.0 2201.6,394.7 2201.8,398.6 2202.0,401.7 2202.2,400.5 2202.3,404.2 2202.5,407.1 2202.7,399.0 2203.1,418.8 2203.5,414.7 2203.9,419.6 2204.3,418.8 2204.7,427.0 2205.1,425.8 2205.5,430.1 2205.9,425.8 2206.2,440.5 2206.6,442.0 2206.9,432.3 2207.3,428.4 2207.4,438.1 2207.5,434.2 2207.7,434.9 2207.8,436.8 2207.9,419.2 2208.0,431.0 2208.1,425.0 2208.2,425.1 2208.3,421.2 2208.4,417.4 2208.5,408.1 2208.5,411.0 2208.6,410.7 2208.7,403.6 2208.8,394.6 2208.9,393.8 2209.0,386.7 2209.2,394.8 2209.3,389.7 2209.4,385.7 2209.5,373.9 2210.0,391.7 2210.5,384.3 2211.1,383.0 2211.6,382.0 2212.2,399.1 2212.7,392.8 2213.2,398.1 2213.7,411.4 2214.1,408.7" fill="none" stroke="#000" stroke-width="12" stroke-linejoin="round" stroke-linecap="butt" />
<polyline points="176.8,576.4 178.7,577.4 180.7,578.8 182.9,582.9 185.2,583.3 187.6,581.7 190.1,584.7 192.7,582.5 195.3,580.4 198.1,580.4 200.8,582.8 203.6,580.0 206.4,572.7 209.2,582.2 212.0,586.3 214.8,585.2 217.6,581.3 220.3,587.6 222.9,582.1 225.5,581.0 228.0,581.4 230.5,581.3 233.0,586.4 235.5,579.9 238.0,584.7 240.4,585.7 242.9,583.3 245.3,584.8 247.8,578.0 250.3,579.8 252.7,580.8 255.2,581.9 257.7,585.0 260.3,579.2 262.9,577.6 265.5,584.9 268.2,579.7 270.9,584.3 273.3,585.5 275.8,577.0 278.4,581.2 281.0,579.0 283.7,583.0 286.4,578.0 289.1,577.9 291.8,578.1 294.6,589.6 297.3,584.9 300.1,583.6 302.8,585.3 305.6,578.3 308.3,580.1 310.9,587.9 313.6,579.2 316.1,579.7 318.6,584.7 321.1,582.9 323.4,586.6 325.7,585.0 327.9,579.2 330.0,585.8 333.4,583.2 336.3,583.7 338.6,578.2 340.6,573.3 342.4,578.0 344.2,578.5 346.1,575.4 348.2,574.8 350.5,573.0 352.8,575.0 355.1,572.8 357.4,565.3 359.7,565.8 362.0,566.3 364.2,570.1 366.4,563.8 368.3,569.9 370.1,568.5 371.7,567.7 373.3,573.5 375.2,569.3 377.4,573.7 380.0,576.0 382.0,581.0 384.2,580.7 386.4,576.6 388.7,577.5 391.1,578.2 393.6,578.8 396.1,582.4 398.6,585.9 401.2,580.9 403.7,588.7 406.3,585.6 408.9,590.4 411.4,594.1 413.9,592.0 416.4,590.3 418.4,598.0 420.4,595.9 422.4,600.8 424.4,600.8 426.5,596.5 428.5,596.8 430.5,599.7 432.5,601.9 434.5,607.7 436.6,610.5 438.6,606.5 440.6,612.6 442.6,614.0 444.6,615.7 446.7,612.0 448.7,618.2 450.7,619.9 452.7,618.0 455.0,623.3 457.3,620.0 459.5,620.5 461.8,623.3 464.1,627.7 466.4,623.0 468.6,629.7 470.9,626.7 473.2,634.0 475.5,632.6 477.7,636.6 480.0,635.1 482.3,636.1 484.5,637.8 486.8,637.6 489.1,638.1 491.4,643.0 493.6,642.3 495.9,641.3 498.2,646.8 500.5,645.7 502.7,650.9 505.0,650.1 507.3,647.7 509.5,651.0 511.8,654.0 514.1,654.6 516.4,652.9 518.6,657.3 520.9,655.9 523.2,660.6 525.5,661.6 527.7,661.5 530.0,663.8 532.4,661.2 534.7,661.8 537.0,666.6 539.3,666.9 541.7,671.1 544.0,669.9 546.3,668.3 548.6,675.1 550.9,671.2 553.1,672.4 555.3,676.8 557.5,676.9 559.7,677.1 561.8,675.2 564.3,676.6 566.7,683.2 569.1,681.0 571.4,684.0 573.7,682.1 576.0,685.3 578.2,687.0 580.4,695.7 582.6,687.1 584.8,690.7 586.9,693.2 589.1,692.5 591.7,696.3 594.3,694.5 596.9,694.0 599.4,694.1 601.9,692.7 604.3,699.2 606.8,696.3 609.3,698.7 611.8,696.0 614.3,694.5 616.8,693.0 619.3,693.7 621.8,699.0 624.3,697.5 626.8,697.5 629.3,694.5 631.9,696.0 634.5,697.6 636.7,693.2 639.0,692.2 641.2,686.4 643.5,688.9 645.9,684.9 648.2,689.1 650.5,686.9 652.8,684.7 655.1,681.7 657.4,678.5 659.6,678.3 661.8,681.4 664.0,679.8 666.2,678.4 668.3,675.6 670.4,670.9 672.5,669.8 674.6,666.4 676.6,666.9 678.6,666.8 680.6,668.5 682.6,667.0 684.5,662.9 687.4,659.9 690.3,661.3 693.2,663.9 696.0,662.1 698.5,658.2 700.8,657.9 702.7,663.3 700.0,660.3 701.9,660.0 704.1,661.2 706.7,663.8 709.5,660.2 712.3,663.8 715.0,662.7 717.4,663.6 720.0,664.3 722.6,665.2 725.2,669.0 727.7,668.0 730.2,671.1 732.4,666.3 735.2,671.9 737.5,676.9 739.8,675.3 742.4,673.8 743.7,674.8 745.0,677.7 746.3,668.6 747.7,671.0 749.1,664.1 750.6,661.9 752.0,657.5 753.4,656.8 754.8,653.4 756.1,656.3 757.4,656.5 759.4,652.7 761.5,651.4 763.4,656.6 765.3,655.0 767.0,657.0 768.6,664.0 769.0,667.3 769.3,664.9 769.7,667.1 770.0,671.8 770.2,675.4 770.5,675.1 770.7,684.8 770.9,681.4 771.1,685.6 771.3,688.8 771.5,692.2 771.7,692.7 771.9,696.6 772.1,695.0 772.4,697.3 772.5,705.0 772.7,707.5 772.9,708.7 773.1,708.0 773.2,713.6 773.4,712.3 773.5,715.5 773.7,721.6 773.8,723.3 774.0,723.9 774.2,726.4 774.3,731.0 774.5,730.7 774.7,730.9 774.9,738.4 775.0,738.6 775.2,743.3 775.4,746.0 775.6,744.7 775.7,748.9 775.9,751.0 776.1,754.4 776.3,754.1 776.5,760.6 776.7,761.2 776.9,761.5 777.1,764.0 777.3,769.6 777.4,772.4 777.6,771.8 777.8,779.4 778.0,780.6 778.2,782.4 778.4,785.6 778.6,788.3 778.8,787.4 779.0,791.1 779.2,796.5 779.3,798.7 779.5,799.8 779.7,799.5 779.9,805.1 780.1,806.2 780.3,811.1 780.5,813.3 780.7,813.9 780.8,817.1 781.0,818.3 781.2,821.5 781.4,822.6 781.6,827.2 781.8,828.5 782.0,831.4 782.1,832.2 782.3,837.6 782.5,836.9 782.7,841.4 782.9,843.2 783.1,846.6 783.3,852.0 783.5,855.2 783.6,854.2 783.8,859.5 784.0,865.1 784.2,867.5 784.4,870.1 784.6,872.8 784.8,873.2 785.0,875.1 785.1,879.4 785.3,877.7 785.5,885.0 785.7,882.9 785.9,884.9 786.1,889.9 786.3,884.4 786.6,884.3 786.8,883.8 787.1,875.0 787.3,875.9 787.5,873.3 787.8,871.9 788.0,872.5 788.3,866.2 788.5,861.4 788.8,862.8 789.0,855.4 789.3,857.1 789.5,853.6 789.8,851.2 790.2,848.2 790.7,841.5 791.1,842.4 791.5,838.8 792.0,834.2 792.4,835.3 792.9,828.2 793.4,827.1 793.8,824.3 794.3,826.5 794.8,824.3 795.7,822.7 796.5,827.9 797.4,828.8 798.3,833.0 799.2,833.8 800.2,833.8 801.0,837.7 801.7,845.1 802.4,850.5 803.1,846.8 803.7,851.6 804.4,853.3 805.1,858.0 805.8,858.3 806.5,862.3 807.3,861.9 808.7,862.7 810.2,858.8 811.7,856.9 813.3,854.4 814.7,855.0 816.0,848.9 816.5,847.0 817.0,842.4 817.4,845.4 817.7,842.8 818.1,841.0 818.4,836.7 818.7,832.3 819.1,832.3 819.4,828.7 819.8,824.6 820.0,821.5 820.3,819.6 820.6,818.2 820.8,817.3 821.1,813.9 821.4,810.2 821.6,808.4 821.9,805.4 822.2,803.5 822.4,800.1 822.7,793.8 823.0,796.7 823.2,792.8 823.5,792.1 824.0,789.7 824.4,785.3 824.9,780.5 825.3,778.0 825.8,775.9 826.3,771.5 826.7,773.7 827.2,770.6 828.4,768.2 829.6,762.9 830.9,759.6 832.2,761.9 834.0,760.8 835.9,758.9 837.9,765.1 839.7,767.9 840.2,770.8 840.7,775.5 841.1,777.9 841.6,777.3 842.1,783.6 842.5,784.7 843.0,787.2 843.4,786.7 843.9,793.1 844.3,797.5 844.7,798.9 845.2,800.9 845.6,802.9 846.0,802.5 846.6,806.8 847.1,808.3 847.7,812.6 848.2,819.3 848.7,817.7 849.2,821.7 849.7,823.2 850.2,818.2 850.8,820.5 851.3,814.2 851.8,811.7 852.4,812.5 852.9,807.0 853.4,802.2 853.7,804.8 853.9,801.9 854.1,798.6 854.3,796.6 854.6,792.6 854.8,789.5 855.0,789.2 855.2,784.6 855.5,782.3 855.7,779.4 855.9,775.8 856.1,773.7 856.4,774.0 856.6,769.7 856.8,768.1 857.0,763.0 857.2,761.1 857.4,762.0 857.6,758.9 857.7,754.3 857.9,751.8 858.1,747.1 858.2,745.3 858.4,743.4 858.6,739.5 858.7,739.8 858.9,738.5 859.0,733.3 859.2,733.6 859.4,732.4 859.5,727.3 859.7,722.3 859.8,724.0 860.0,717.4 860.2,717.0 860.3,714.0 860.5,714.2 860.6,709.5 860.8,706.4 861.0,705.3 861.1,700.1 861.3,699.3 861.5,693.6 861.6,693.8 861.8,693.9 862.0,691.0 862.2,688.2 862.7,681.6 863.2,679.4 863.7,675.1 864.3,674.2 864.8,674.4 865.4,671.6 865.9,670.1 866.9,661.7 868.0,662.9 869.7,660.5 871.3,658.9 873.2,661.7 875.2,655.3 877.3,653.7 879.4,655.9 881.4,654.7 883.4,651.3 884.4,650.3 885.3,645.3 886.2,645.4 887.1,637.6 888.0,636.5 888.9,638.2 889.7,632.2 890.6,631.6 891.6,625.7 892.5,624.4 893.5,623.0 894.6,618.4 896.6,622.0 898.8,619.6 901.0,615.0 903.3,614.5 905.6,614.1 907.8,615.3 910.0,613.2 912.1,613.5 914.0,613.8 915.9,612.7 917.6,614.2 919.4,616.8 921.1,620.8 922.8,624.4 924.6,622.0 926.1,623.2 927.5,623.0 929.0,615.5 930.4,617.0 931.9,615.1 933.5,611.5 935.2,606.2 937.0,607.5 939.3,603.6 941.7,603.7 944.3,602.9 947.0,603.8 949.6,602.1 952.3,604.2 954.8,605.1 957.2,603.5 959.5,598.8 962.3,601.3 964.3,600.2 966.8,597.5 970.9,598.9 972.9,596.1 975.1,598.8 977.3,596.1 979.6,600.3 982.1,592.1 984.5,592.1 987.1,594.5 989.7,595.3 992.4,593.3 995.0,593.6 997.7,593.2 1000.5,591.9 1003.2,589.5 1005.9,588.9 1008.6,588.9 1011.2,588.5 1013.8,589.6 1016.4,590.3 1018.9,588.1 1021.4,585.1 1023.9,586.8 1026.5,584.2 1029.0,587.7 1031.5,583.8 1034.0,589.9 1036.6,584.4 1039.1,583.2 1041.6,581.4 1044.1,583.1 1046.7,582.4 1049.2,580.2 1051.7,583.9 1054.2,580.9 1056.8,580.5 1059.3,582.8 1061.8,583.0 1064.3,581.5 1066.9,578.1 1069.4,577.8 1071.9,573.9 1074.4,582.5 1077.0,579.6 1079.5,576.7 1082.0,577.9 1084.5,580.2 1087.1,576.3 1089.6,580.5 1092.1,576.8 1094.6,584.0 1097.2,578.4 1099.7,577.2 1102.2,574.4 1104.7,575.5 1107.3,577.7 1109.8,574.1 1112.3,577.2 1114.8,577.3 1117.4,574.2 1119.9,577.4 1122.4,577.8 1124.9,578.0 1127.5,577.9 1130.0,576.7 1132.5,574.6 1135.1,576.5 1137.6,577.0 1140.1,574.6 1142.6,572.4 1145.2,571.6 1147.7,574.9 1150.2,575.9 1152.7,575.2 1155.3,571.9 1157.8,572.2 1160.4,572.1 1163.0,573.7 1165.6,576.8 1168.2,577.4 1170.8,574.2 1173.4,576.5 1176.0,574.0 1178.5,577.3 1181.1,577.7 1183.6,576.1 1186.1,574.9 1188.6,577.1 1191.1,577.2 1193.5,570.6 1195.9,578.9 1198.2,578.2 1201.2,572.9 1204.1,576.3 1207.0,571.0 1209.8,575.7 1212.6,578.7 1215.3,576.7 1217.9,578.7 1220.5,576.8 1223.0,576.3 1225.4,579.6 1227.8,575.7 1230.0,579.1 1232.8,579.1 1235.2,580.2 1237.2,584.7 1239.1,586.2 1241.2,585.2 1243.6,584.9 1245.9,587.1 1248.3,581.3 1250.8,585.1 1253.4,583.1 1256.0,579.3 1258.6,579.5 1261.2,576.0 1263.8,578.2 1266.4,576.2 1268.8,574.2 1271.3,575.8 1273.6,576.1 1276.0,576.5 1278.4,579.8 1280.9,578.7 1283.5,581.7 1286.2,581.7 1289.1,580.2 1291.4,579.5 1293.9,581.1 1296.4,583.5 1299.0,588.3 1301.6,581.6 1304.2,579.7 1306.9,580.5 1309.6,581.5 1312.3,582.8 1315.0,581.2 1317.7,584.0 1320.3,586.1 1322.9,581.6 1325.5,582.4 1327.9,585.0 1330.3,582.3 1332.5,579.5 1334.7,579.7 1336.9,580.8 1339.1,575.5 1341.3,579.0 1343.6,575.4 1346.0,572.3 1348.5,575.3 1351.2,572.8 1354.1,571.1 1357.3,570.9 1359.4,571.0 1361.6,574.2 1363.9,574.5 1366.2,571.3 1368.6,573.6 1371.0,572.5 1373.5,571.6 1376.0,573.8 1378.5,574.1 1381.0,570.4 1383.6,573.9 1386.2,573.3 1388.9,572.1 1391.5,573.4 1394.1,572.4 1396.8,573.1 1399.5,570.5 1402.1,573.2 1404.8,573.7 1407.4,571.0 1410.1,574.2 1412.7,571.4 1415.3,569.1 1417.9,573.8 1420.4,571.6 1423.0,569.0 1425.5,570.3 1428.1,570.9 1430.7,574.1 1433.4,566.6 1436.0,573.7 1438.7,570.8 1441.4,566.3 1444.1,576.7 1446.8,570.4 1449.5,571.8 1452.2,572.2 1454.8,574.2 1457.5,570.0 1460.1,569.9 1462.7,568.3 1465.3,569.7 1467.9,572.9 1470.4,568.1 1472.9,573.0 1475.4,571.5 1477.8,572.8 1480.2,570.0 1482.5,570.7 1484.7,571.9 1486.9,572.9 1489.1,570.3 1492.4,569.0 1495.5,572.7 1498.3,569.7 1501.0,573.5 1503.4,573.3 1505.7,574.5 1508.0,576.5 1510.1,576.5 1512.2,576.2 1514.3,576.8 1516.4,575.8 1518.3,577.6 1520.0,581.1 1521.6,584.0 1523.1,585.9 1524.6,583.4 1526.0,586.2 1527.3,588.2 1528.6,593.7 1530.0,589.7 1530.9,597.3 1531.8,600.5 1532.7,604.3 1533.5,605.2 1534.3,606.9 1535.1,606.9 1535.9,613.1 1536.7,614.7 1537.5,619.6 1538.3,617.4 1539.1,623.4 1540.2,627.4 1541.3,625.0 1542.4,629.6 1543.5,633.8 1544.6,637.2 1545.7,635.2 1546.9,636.8 1548.2,638.6 1550.7,639.8 1553.3,641.0 1556.0,640.4 1558.9,633.6 1561.8,636.9 1564.4,637.8 1567.1,635.8 1570.0,633.7 1572.8,633.4 1575.5,632.6 1578.0,633.7 1580.0,634.1 1580.0,632.8 1582.0,634.6 1584.3,631.8 1586.8,630.2 1589.5,633.6 1592.3,630.3 1595.2,628.5 1597.9,628.5 1600.4,629.0 1602.7,629.1 1604.7,629.5 1606.5,631.5 1608.1,631.8 1609.6,637.3 1611.0,640.7 1612.5,639.0 1614.1,639.5 1615.5,641.0 1616.9,641.3 1618.3,636.0 1619.7,636.1 1621.1,633.2 1622.5,630.7 1624.0,628.0 1625.5,624.6 1626.9,624.4 1628.4,619.8 1629.9,614.5 1631.5,616.9 1633.0,613.5 1634.6,610.8 1636.1,607.9 1637.6,602.5 1639.1,603.8 1642.1,601.6 1644.9,604.2 1647.7,601.1 1650.5,606.7 1651.1,609.3 1651.8,608.8 1652.5,609.5 1653.2,614.6 1653.9,616.9 1654.5,621.1 1655.2,623.2 1655.8,621.4 1656.5,626.4 1657.1,629.6 1657.7,632.3 1658.3,636.8 1658.9,636.6 1659.5,643.0 1659.8,640.4 1660.1,644.5 1660.4,645.3 1660.7,646.4 1661.0,651.2 1661.3,652.8 1661.6,653.1 1661.8,661.6 1662.1,660.8 1662.4,663.9 1662.6,665.2 1662.9,672.3 1663.2,674.6 1663.4,671.9 1663.7,675.9 1664.0,681.1 1664.2,684.7 1664.5,686.8 1664.8,686.6 1665.0,689.4 1665.3,695.4 1665.6,696.1 1665.8,696.7 1666.1,700.5 1666.4,702.8 1666.7,704.5 1667.1,709.0 1667.5,714.5 1667.9,713.6 1668.3,718.5 1668.6,718.2 1669.0,725.1 1669.4,726.2 1669.8,727.0 1670.2,734.3 1670.5,737.1 1670.9,739.7 1671.3,739.1 1671.7,740.6 1672.0,741.0 1672.4,746.1 1672.8,746.1 1673.2,747.1 1674.2,750.9 1675.1,745.1 1676.1,743.9 1677.1,743.5 1678.1,737.4 1679.0,736.3 1680.0,730.0 1680.3,727.1 1680.6,727.0 1681.0,724.8 1681.3,718.9 1681.6,718.6 1681.9,716.8 1682.2,714.6 1682.5,711.8 1682.9,706.0 1683.2,708.1 1683.5,704.7 1683.8,699.5 1684.1,697.0 1684.4,696.1 1684.8,691.7 1685.1,687.2 1685.4,685.8 1685.8,685.3 1686.1,678.3 1686.5,676.8 1686.8,676.8 1687.5,673.6 1688.1,669.0 1688.8,665.2 1689.5,665.8 1690.2,663.3 1690.8,656.3 1691.5,658.0 1692.3,654.8 1693.0,655.5 1693.7,652.1 1694.4,647.5 1695.2,645.2 1695.9,642.7 1697.5,642.6 1699.2,635.9 1700.9,634.1 1702.6,634.3 1704.3,627.4 1705.9,631.0 1707.3,627.0 1707.6,632.3 1707.9,634.8 1708.2,639.5 1708.5,636.9 1708.8,640.0 1709.0,640.2 1709.3,646.1 1709.5,648.0 1709.7,647.4 1709.9,653.6 1710.2,657.3 1710.4,657.3 1710.6,659.1 1710.8,661.9 1711.0,667.9 1711.2,666.2 1711.4,669.1 1711.6,676.7 1711.8,675.0 1712.1,678.9 1712.4,684.8 1712.6,686.5 1712.9,686.2 1713.1,690.3 1713.4,695.3 1713.6,696.2 1713.9,699.0 1714.1,700.5 1714.4,703.1 1714.6,705.3 1714.9,710.7 1715.2,709.9 1715.5,715.6 1715.7,714.0 1716.0,709.1 1716.3,707.4 1716.5,703.8 1716.8,703.2 1717.1,703.8 1717.4,695.2 1717.7,697.6 1717.9,692.5 1718.2,691.4 1718.5,687.0 1718.8,686.2 1719.1,679.4 1719.4,678.8 1719.7,675.6 1720.0,673.1 1720.3,667.7 1720.6,667.1 1720.8,663.0 1721.1,660.9 1721.4,661.9 1721.6,656.8 1721.9,654.1 1722.2,651.3 1722.5,647.7 1722.8,644.2 1723.1,640.5 1723.4,640.3 1723.7,636.0 1724.0,635.5 1724.3,632.9 1724.7,632.0 1725.1,628.9 1725.5,627.8 1726.3,619.8 1727.3,623.4 1728.2,616.1 1729.2,612.1 1730.2,611.7 1731.3,611.2 1732.3,606.0 1733.4,601.0 1734.5,601.3 1735.7,603.1 1736.8,597.7 1739.3,599.7 1742.0,594.7 1744.7,600.3 1747.4,601.1 1750.1,609.4 1752.7,604.6 1754.7,605.2 1756.7,603.8 1758.7,599.6 1760.6,598.0 1762.5,596.2 1764.4,595.0 1766.4,592.2 1769.1,591.8 1771.8,589.1 1774.5,592.5 1777.3,589.9 1780.0,588.1 1781.5,591.1 1783.0,592.1 1784.5,596.2 1786.1,599.1 1787.6,598.7 1789.1,600.1 1790.6,606.1 1792.1,607.3 1793.6,602.2 1795.9,607.6 1798.1,607.4 1800.3,602.9 1802.5,603.2 1804.8,599.8 1807.3,597.8 1809.8,600.3 1812.3,600.7 1815.0,595.3 1817.7,600.4 1820.4,595.7 1823.0,597.8 1825.5,596.2 1827.1,600.8 1828.7,599.4 1830.3,606.5 1831.9,608.0 1833.4,610.0 1834.8,608.9 1836.3,611.8 1837.7,612.1 1839.1,618.3 1839.8,619.3 1840.5,619.7 1841.2,622.7 1841.9,628.6 1842.5,628.6 1843.2,630.9 1843.8,637.3 1844.4,640.3 1845.0,639.9 1845.7,645.2 1846.3,648.0 1846.9,646.9 1847.5,652.1 1848.2,652.2 1848.8,653.8 1849.3,661.7 1849.9,661.4 1850.5,665.2 1851.1,666.9 1851.7,667.9 1852.2,671.4 1852.8,673.4 1853.4,679.9 1854.0,682.9 1854.5,681.0 1855.1,687.4 1855.7,686.2 1856.2,691.4 1856.7,690.9 1857.3,695.5 1858.5,698.3 1859.5,699.9 1860.6,704.7 1861.7,704.9 1862.8,708.9 1864.1,710.0 1866.2,704.4 1868.6,705.1 1871.0,704.6 1873.3,701.5 1875.5,700.5 1877.9,697.2 1880.0,699.0 1882.3,693.3 1882.9,690.7 1883.6,691.1 1884.2,688.9 1884.9,686.9 1885.6,683.7 1886.3,679.3 1887.0,679.7 1887.7,678.0 1888.4,672.6 1889.1,671.2 1889.9,670.1 1890.6,664.3 1891.4,660.0 1892.5,659.7 1893.7,654.9 1894.8,657.6 1895.9,654.3 1897.1,651.6 1898.4,646.9 1899.7,646.8 1901.2,644.4 1902.7,644.7 1904.7,640.0 1906.9,637.7 1909.2,641.0 1911.6,639.5 1914.0,636.5 1916.4,637.5 1918.8,634.0 1921.1,631.8 1923.4,633.4 1925.5,628.5 1927.0,628.6 1928.4,626.2 1929.7,627.6 1930.9,622.3 1932.1,618.6 1933.3,617.7 1934.6,613.2 1935.9,611.1 1937.4,609.7 1939.1,609.9 1940.6,605.7 1942.1,602.9 1943.7,604.6 1945.3,603.7 1947.0,598.0 1948.7,597.9 1950.5,594.1 1952.2,592.8 1954.0,591.3 1955.8,588.8 1957.6,585.1 1959.4,586.5 1961.1,583.5 1962.9,581.3 1964.6,576.4 1966.4,579.0 1968.9,576.6 1971.4,575.1 1973.9,576.7 1976.5,572.6 1979.1,572.8 1981.6,573.6 1984.1,574.5 1986.6,573.3 1989.0,568.0 1991.4,567.6 1993.6,567.6 1996.2,567.4 1998.7,573.1 2001.0,571.6 2003.3,574.7 2005.5,575.5 2007.7,575.4 2009.8,575.5 2011.8,577.3 2013.3,582.8 2014.7,582.8 2016.1,585.5 2017.4,589.2 2018.6,590.6 2019.8,592.9 2021.0,590.6 2022.1,597.3 2023.2,601.8 2023.5,603.3 2023.9,602.6 2024.2,603.0 2024.5,606.0 2024.8,610.7 2025.0,614.5 2025.3,614.6 2025.5,620.6 2025.7,618.8 2026.0,627.1 2026.2,625.9 2026.4,632.2 2026.6,631.8 2026.8,632.2 2027.0,636.8 2027.3,635.3 2027.5,644.5 2027.7,641.9 2028.1,645.4 2028.6,651.7 2028.9,653.3 2029.3,656.7 2029.7,658.2 2030.1,660.0 2030.5,663.3 2030.9,664.6 2031.4,665.9 2031.7,667.4 2032.0,666.8 2032.3,662.3 2032.6,658.5 2032.9,663.6 2033.2,656.2 2033.6,652.6 2033.9,650.5 2034.2,645.2 2034.6,640.4 2034.9,642.9 2035.3,636.9 2035.6,631.8 2036.0,630.0 2036.4,628.6 2036.8,627.0 2037.3,623.8 2037.8,622.9 2038.3,619.5 2038.8,615.2 2039.3,610.2 2039.8,607.9 2040.4,606.1 2040.9,607.5 2041.4,603.5 2042.0,599.9 2042.6,594.3 2043.2,592.7 2043.8,591.4 2044.5,588.1 2045.2,590.0 2045.9,585.0 2047.9,584.5 2050.1,582.3 2052.4,581.0 2054.8,580.1 2057.2,573.5 2059.6,577.9 2061.9,573.4 2064.1,574.6 2065.9,576.5 2067.7,575.1 2069.3,580.8 2071.0,581.4 2072.6,583.5 2074.3,586.8 2076.0,586.1 2077.7,589.9 2080.3,596.2 2083.0,589.7 2085.7,585.9 2088.4,586.2 2091.0,587.4 2093.6,585.6 2095.5,579.1 2097.2,578.6 2098.7,575.9 2100.4,576.4 2102.2,572.7 2104.5,574.7 2107.3,574.7 2109.4,574.0 2111.7,572.8 2114.2,573.5 2116.8,570.7 2119.4,569.3 2122.2,572.7 2125.0,570.3 2127.8,572.0 2130.6,568.7 2133.4,568.1 2136.2,572.2 2138.8,571.6 2141.4,570.2 2143.8,568.0 2146.1,569.3 2148.2,570.5 2149.9,571.2 2151.3,575.8 2152.6,576.5 2153.7,580.9 2154.6,582.4 2155.5,587.8 2156.3,590.7 2157.0,593.9 2157.8,596.5 2158.6,593.0 2159.5,599.3 2160.6,596.4 2161.6,598.5 2162.5,594.5 2163.5,589.8 2164.4,585.6 2165.4,585.6 2166.4,583.0 2167.5,578.2 2168.6,576.2 2171.1,578.6 2173.9,569.0 2176.8,582.2 2179.6,578.2 2182.2,579.6 2184.5,586.8 2185.2,586.3 2185.7,579.2 2186.2,587.7 2186.6,594.3 2186.9,586.7 2187.2,588.8 2187.5,594.8 2187.8,604.5 2188.2,606.4 2188.6,613.6 2189.1,615.5 2190.1,609.8 2191.2,609.8 2192.3,584.6 2193.5,603.9 2194.7,595.0 2195.8,593.2 2197.0,596.4 2198.2,584.6 2200.5,595.3 2202.9,600.3 2205.2,589.7 2207.3,588.1 2207.6,584.2 2207.8,585.9 2208.1,583.5 2208.3,592.6 2208.6,590.3 2208.8,587.3 2209.0,579.4 2209.2,579.2 2209.4,581.0 2209.6,576.8 2209.7,565.7 2209.9,560.1 2210.1,562.6 2210.3,553.8 2210.4,558.7 2210.6,549.9 2210.7,558.2 2210.9,552.7 2211.3,547.4 2211.6,536.3 2211.9,548.0 2212.1,529.1 2212.3,530.8" fill="none" stroke="#000" stroke-width="12" stroke-linejoin="round" stroke-linecap="butt" />
<polyline points="189.1,757.5 191.0,757.5 193.2,764.6 195.6,760.8 198.1,762.3 200.8,761.4 203.6,763.9 206.4,762.9 209.3,763.4 212.2,763.0 215.0,754.9 217.8,757.7 220.5,762.2 223.1,757.0 225.5,761.2 228.3,752.4 230.8,754.2 233.1,754.5 235.4,754.0 237.6,757.6 239.9,755.9 242.4,757.4 245.1,754.3 248.2,749.8 250.4,758.0 252.7,751.7 255.1,749.5 257.5,756.4 260.0,749.6 262.6,756.9 265.2,751.6 267.9,757.2 270.6,758.9 273.2,751.8 275.9,755.7 278.6,750.7 281.2,761.1 283.8,752.5 286.4,756.2 288.9,758.3 291.3,758.4 293.6,760.2 296.6,754.9 299.5,754.8 302.3,755.1 305.1,754.7 307.8,755.2 310.4,759.5 313.0,754.4 315.6,755.3 318.1,759.7 320.6,761.0 323.0,758.2 325.5,756.8 328.2,755.2 330.9,753.9 333.4,757.1 335.9,755.8 338.4,748.9 340.8,753.3 343.2,752.5 345.7,751.4 348.2,752.2 350.7,749.2 353.2,746.4 355.8,745.2 358.3,746.9 360.8,752.0 363.3,752.8 365.9,746.6 368.4,746.9 370.9,747.4 373.4,740.7 375.9,754.3 378.3,755.7 380.7,748.9 383.2,753.1 385.7,757.1 388.2,754.7 390.9,753.7 393.6,766.4 395.9,756.3 398.3,757.3 400.7,760.1 403.1,757.2 405.6,764.3 408.1,762.4 410.6,763.3 413.2,767.3 415.7,768.6 418.2,764.6 420.7,768.7 423.1,766.9 425.5,770.9 427.6,765.1 429.8,767.4 431.9,774.3 434.0,774.5 436.1,774.0 438.2,778.0 440.3,776.1 442.4,780.7 444.4,779.6 446.5,783.4 448.6,780.6 450.6,782.7 452.7,787.3 454.8,787.7 456.9,785.6 459.0,791.5 461.1,791.7 463.2,792.3 465.3,795.6 467.4,796.0 469.5,793.4 471.6,794.6 473.7,798.6 475.8,802.0 477.9,805.1 480.0,801.9 481.9,804.0 483.9,809.9 485.8,808.2 487.8,812.8 489.7,813.5 491.7,811.8 493.6,815.2 495.6,817.2 497.5,816.5 499.5,820.1 501.4,821.3 503.4,821.0 505.3,826.4 507.3,827.6 509.4,827.9 511.5,832.1 513.6,830.5 515.7,831.4 517.8,833.0 519.9,832.5 522.0,834.8 524.1,836.4 526.2,840.1 528.3,843.0 530.3,844.3 532.4,845.2 534.5,842.9 536.8,846.9 539.1,847.5 541.4,851.8 543.6,853.2 545.9,850.0 548.2,855.0 550.5,853.6 552.7,858.4 555.0,854.4 557.3,856.6 559.5,858.4 561.8,857.3 564.3,861.7 566.9,862.6 569.4,864.9 572.0,867.4 574.5,858.9 577.1,867.6 579.6,867.0 582.0,870.8 584.5,869.8 586.8,871.3 589.1,873.2 591.9,869.9 594.5,872.4 597.0,873.3 599.4,874.7 601.8,875.5 604.4,868.9 607.3,875.6 609.5,872.6 611.9,878.3 614.3,878.3 616.8,877.6 619.3,872.2 621.8,870.8 624.4,873.6 627.0,869.5 629.5,874.0 632.0,873.7 634.5,867.6 637.0,870.1 639.5,865.6 642.1,864.3 644.6,863.8 647.1,862.9 649.6,861.8 652.1,862.0 654.6,858.4 657.0,857.0 659.4,856.2 661.8,860.8 664.2,855.5 666.6,855.0 669.0,851.0 671.3,850.1 673.6,850.0 675.9,850.5 678.1,848.4 680.3,846.9 682.5,847.6 684.5,840.2 687.4,844.8 690.1,841.2 692.7,839.7 695.1,841.0 697.6,842.8 700.0,838.0 702.6,836.6 705.1,839.1 707.6,834.4 710.0,835.5 712.5,833.4 715.6,825.8 718.7,834.2 721.8,834.1 725.0,830.6 727.5,831.5 730.1,832.4 732.7,837.4 735.1,835.8 737.4,838.9 739.4,839.0 741.2,843.0 742.9,846.4 744.9,845.3 746.3,848.1 747.9,845.4 749.5,840.9 751.1,839.8 752.7,836.2 754.4,835.8 755.9,830.6 757.4,829.9 760.5,827.5 763.4,828.4 766.1,834.9 766.8,831.7 767.5,836.8 768.1,837.6 768.8,841.5 769.4,843.2 770.0,845.3 770.6,850.8 771.2,853.0 771.8,852.8 772.4,858.1 772.8,861.9 773.2,860.3 773.7,862.2 774.1,867.7 774.5,869.3 774.9,870.4 775.4,872.2 775.8,876.1 776.2,877.3 776.6,882.1 777.0,883.0 777.3,890.5 777.5,890.2 777.7,893.3 777.9,891.1 778.1,894.4 778.3,899.6 778.5,899.8 778.7,906.1 778.9,905.5 779.1,910.9 779.3,913.8 779.4,916.5 779.6,917.4 779.8,916.7 780.0,924.3 780.2,923.0 780.4,929.6 780.5,928.4 780.7,926.1 780.9,931.8 781.1,935.4 781.3,939.1 781.5,941.9 781.6,942.3 781.8,946.7 782.0,952.3 782.2,949.6 782.4,956.6 782.5,954.5 782.7,957.1 782.9,963.4 783.1,962.0 783.3,969.0 783.5,967.2 783.7,973.9 783.8,972.8 784.0,975.2 784.2,977.5 784.4,981.9 784.6,989.0 784.8,986.0 785.1,989.8 785.4,991.1 785.7,995.6 786.0,998.0 786.3,1001.2 786.6,1000.2 786.9,1004.3 787.2,1008.8 787.5,1008.4 787.8,1013.0 788.1,1015.5 788.4,1015.0 788.7,1018.5 789.0,1023.2 789.3,1024.7 789.6,1028.3 789.8,1032.0 790.2,1030.7 790.5,1036.6 790.9,1037.1 791.2,1039.9 791.4,1042.6 791.7,1046.4 792.0,1051.1 792.3,1049.7 792.5,1047.0 792.6,1042.9 792.8,1045.2 792.9,1042.7 793.1,1038.6 793.2,1035.0 793.4,1034.3 793.5,1031.2 793.7,1026.8 793.9,1024.8 794.0,1024.7 794.2,1019.3 794.4,1019.5 794.6,1014.0 794.8,1011.5 795.2,1006.1 795.6,1006.2 796.0,1000.7 796.4,999.4 796.8,995.2 797.2,993.1 797.6,994.8 798.1,989.5 798.5,989.6 799.0,987.2 799.4,981.7 799.8,983.4 800.5,988.4 801.2,987.1 801.9,987.4 802.6,988.1 803.3,986.9 804.0,999.1 804.8,998.9 805.4,1004.4 806.1,1006.6 806.8,1007.1 807.4,1010.8 808.1,1013.5 808.8,1014.6 809.5,1015.2 810.3,1021.2 811.0,1023.8 812.4,1023.6 813.9,1019.8 815.5,1017.9 817.0,1017.1 818.5,1014.3 819.8,1010.4 820.3,1007.9 820.8,1007.7 821.2,1001.6 821.6,997.5 822.0,999.2 822.4,994.4 822.7,995.0 823.1,990.2 823.5,984.6 823.9,984.8 824.2,980.5 824.6,977.1 825.0,975.0 825.3,973.6 825.7,969.6 826.1,969.3 826.4,965.6 826.8,962.0 827.2,961.2 827.8,957.7 828.4,958.1 829.0,951.3 829.6,954.0 830.3,947.8 830.9,944.9 831.6,946.6 832.2,941.3 833.2,941.8 834.3,937.5 835.3,936.8 836.4,930.8 837.4,927.8 838.5,927.0 840.6,924.1 842.7,923.0 844.7,920.2 845.6,923.7 846.5,923.8 847.3,927.8 848.1,928.9 848.9,934.0 849.7,935.8 850.0,941.8 850.4,939.5 850.7,944.2 851.0,944.4 851.4,950.1 851.7,953.5 852.0,949.0 852.3,957.6 852.6,960.4 852.9,961.5 853.2,964.1 853.4,965.2 854.1,970.5 854.7,975.5 855.3,979.1 855.9,978.1 856.3,973.8 856.6,972.9 856.9,969.0 857.3,970.3 857.6,964.6 858.0,964.9 858.3,963.6 858.7,959.3 859.0,955.9 859.4,951.6 859.7,950.0 859.8,948.7 860.0,944.9 860.1,942.7 860.2,938.4 860.4,937.2 860.5,936.9 860.6,933.7 860.7,926.7 860.9,924.7 861.0,923.7 861.1,919.0 861.2,917.3 861.4,913.5 861.5,911.6 861.6,910.3 861.7,911.0 861.9,900.7 862.0,904.5 862.2,901.5 862.5,894.0 862.9,890.8 863.2,892.9 863.5,891.1 863.9,886.5 864.3,882.2 864.7,882.3 865.1,877.8 865.5,874.7 865.9,875.6 866.3,872.4 866.7,872.1 867.1,869.9 867.5,867.6 867.9,863.3 868.4,862.4 868.8,854.2 869.2,852.0 869.7,854.4 870.2,848.2 870.6,843.8 871.1,843.6 871.6,844.4 872.2,842.6 873.1,837.5 874.1,833.9 875.1,831.8 876.2,828.7 877.3,823.6 878.4,822.3 879.6,819.1 880.8,822.5 882.1,819.1 883.9,817.2 885.7,815.1 887.6,809.7 889.6,807.2 891.6,808.2 893.6,807.9 895.6,802.2 897.6,801.9 899.6,802.2 902.1,801.0 904.7,796.2 907.2,794.5 909.7,791.6 912.2,791.2 914.7,795.1 917.1,789.9 919.5,792.9 921.9,793.4 924.2,795.9 926.4,795.4 928.6,799.9 930.8,800.1 932.2,800.5 933.6,796.3 934.9,793.6 936.3,790.7 937.6,790.3 939.0,787.0 940.4,783.3 942.0,781.9 944.3,780.4 946.8,780.9 949.4,777.6 952.1,779.0 954.6,779.3 957.1,774.8 959.5,777.4 962.1,779.6 964.1,778.0 966.7,778.8 970.9,778.7 972.9,775.5 975.1,775.4 977.3,772.2 979.6,774.3 982.1,771.4 984.5,772.4 987.1,770.6 989.7,769.1 992.4,772.6 995.0,768.1 997.7,770.9 1000.5,764.8 1003.2,766.7 1005.9,765.3 1008.6,761.9 1011.2,762.5 1013.8,761.7 1016.4,761.7 1018.9,763.5 1021.4,762.2 1023.9,759.9 1026.5,758.5 1029.0,759.4 1031.5,757.1 1034.0,759.8 1036.6,760.5 1039.1,760.4 1041.6,760.9 1044.1,755.8 1046.7,756.2 1049.2,756.5 1051.7,756.5 1054.2,758.4 1056.8,754.1 1059.3,755.2 1061.8,754.0 1064.4,758.5 1066.9,756.6 1069.5,753.3 1072.1,753.8 1074.7,756.3 1077.3,753.6 1079.9,751.2 1082.5,754.4 1085.1,751.6 1087.6,755.3 1090.2,750.1 1092.7,750.9 1095.2,753.1 1097.7,754.3 1100.2,750.7 1102.6,751.9 1105.0,748.8 1107.3,749.1 1110.2,749.1 1113.2,751.1 1116.1,753.2 1118.9,752.0 1121.7,751.3 1124.4,750.1 1127.0,749.7 1129.6,752.1 1132.1,751.2 1134.5,748.4 1136.8,747.7 1139.1,750.7 1142.0,750.5 1144.3,744.1 1146.4,745.2 1148.4,746.3 1150.4,743.2 1152.7,743.6 1155.1,742.5 1157.6,745.5 1160.0,747.8 1162.6,747.6 1165.2,746.1 1168.0,748.7 1170.9,747.1 1173.4,752.2 1175.8,749.6 1178.3,748.4 1180.9,747.9 1183.5,751.3 1186.2,749.2 1189.0,746.5 1191.9,749.6 1195.0,746.4 1198.2,746.4 1200.5,747.4 1202.9,750.1 1205.3,749.2 1207.9,747.6 1210.5,747.0 1213.2,752.6 1215.9,749.3 1218.7,747.9 1221.4,751.3 1224.1,749.5 1226.8,753.1 1229.5,752.8 1232.1,752.7 1234.6,751.0 1237.0,753.6 1239.4,749.0 1241.6,750.8 1243.6,751.1 1247.6,749.0 1250.5,752.8 1252.7,753.0 1254.9,755.6 1257.3,754.8 1259.2,750.1 1260.7,753.8 1262.2,752.9 1264.1,754.7 1266.9,748.8 1270.9,747.4 1272.9,745.0 1275.0,747.0 1277.2,744.9 1279.5,747.6 1281.9,744.5 1284.3,746.5 1286.9,748.3 1289.4,747.3 1292.1,747.8 1294.7,743.4 1297.4,743.3 1300.2,747.2 1302.9,746.7 1305.7,748.1 1308.4,743.8 1311.2,743.9 1313.9,747.3 1316.7,744.1 1319.4,744.0 1322.0,745.2 1324.7,747.0 1327.2,746.5 1329.7,743.2 1332.2,746.5 1334.5,747.1 1337.3,742.7 1340.1,742.9 1342.8,745.5 1345.4,744.9 1348.0,740.4 1350.5,745.2 1353.0,744.9 1355.5,749.0 1358.0,741.7 1360.4,743.4 1362.8,742.6 1365.3,738.5 1367.7,740.1 1370.1,741.7 1372.6,738.9 1375.0,734.8 1377.5,742.5 1380.0,742.7 1382.5,741.4 1385.0,740.1 1387.4,742.5 1389.9,739.4 1392.3,740.0 1394.7,741.7 1397.2,740.5 1399.6,740.0 1402.0,740.1 1404.5,740.9 1407.0,737.9 1409.5,742.2 1412.0,737.3 1414.6,739.4 1417.2,739.3 1419.9,737.9 1422.7,740.1 1425.5,741.5 1427.8,737.9 1430.2,740.3 1432.7,740.7 1435.3,739.0 1437.8,740.3 1440.4,737.5 1443.1,741.7 1445.8,741.5 1448.5,740.0 1451.2,738.2 1453.9,738.0 1456.6,739.9 1459.3,736.9 1462.0,740.9 1464.7,736.6 1467.3,742.0 1470.0,740.8 1472.5,741.2 1475.1,736.5 1477.6,741.8 1480.0,741.6 1482.4,738.7 1484.7,739.3 1486.9,736.4 1489.1,739.2 1492.4,739.6 1495.5,739.7 1498.3,742.1 1500.9,739.9 1503.3,742.6 1505.7,743.2 1507.9,740.7 1510.0,741.7 1512.1,745.9 1514.2,743.2 1516.4,742.1 1518.2,742.2 1520.0,751.7 1521.8,749.3 1523.4,751.5 1525.0,755.2 1526.5,760.3 1528.0,761.4 1529.5,763.7 1530.9,763.2 1532.3,765.9 1533.3,770.6 1534.2,772.3 1535.0,775.5 1535.9,777.6 1536.7,781.5 1537.5,782.5 1538.2,787.3 1539.0,785.7 1539.8,790.4 1540.6,789.6 1541.4,794.3 1542.5,792.8 1543.6,802.7 1544.7,803.5 1545.8,807.5 1546.9,807.2 1548.1,812.8 1549.3,811.5 1550.5,815.6 1553.1,815.9 1555.8,816.1 1558.7,808.4 1561.8,813.2 1564.3,812.2 1567.0,810.2 1569.9,812.3 1572.8,811.4 1575.5,810.9 1577.9,808.1 1580.0,807.8 1580.0,806.3 1581.7,807.2 1583.8,809.5 1586.0,809.7 1588.4,815.7 1590.9,817.8 1593.4,817.5 1595.9,819.3 1598.1,814.2 1600.3,819.2 1602.6,812.0 1604.9,813.5 1607.2,811.7 1609.5,810.3 1611.9,806.8 1614.1,805.9 1616.4,804.4 1618.1,801.5 1619.8,801.6 1621.5,795.9 1623.1,794.2 1624.8,795.0 1626.5,793.4 1628.1,790.9 1629.7,785.3 1631.3,786.7 1632.9,782.6 1634.5,783.7 1637.3,777.9 1640.1,779.8 1642.8,776.0 1645.4,776.8 1648.0,771.8 1650.5,776.3 1651.9,775.1 1653.2,775.2 1654.5,779.9 1655.8,778.5 1657.1,783.0 1658.3,783.4 1659.5,789.3 1660.7,790.4 1661.8,796.1 1662.2,798.7 1662.5,799.2 1662.8,801.5 1663.2,802.8 1663.5,807.0 1663.8,809.6 1664.1,813.8 1664.4,814.2 1664.7,818.4 1665.0,819.1 1665.3,820.0 1665.5,827.4 1665.8,827.5 1666.1,832.1 1666.4,835.2 1666.6,834.9 1666.9,835.6 1667.2,840.7 1667.5,842.3 1667.8,849.0 1668.1,846.7 1668.3,850.9 1668.6,855.5 1669.0,856.6 1669.4,860.0 1669.8,861.9 1670.2,861.8 1670.6,864.8 1671.0,871.1 1671.4,875.2 1671.7,875.4 1672.1,878.7 1672.5,877.9 1672.9,885.9 1673.3,883.0 1673.7,888.9 1674.0,892.8 1674.4,894.4 1674.8,896.6 1675.1,896.3 1675.5,896.2 1676.4,903.1 1677.3,908.7 1678.1,911.0 1679.0,913.2 1680.0,911.1 1680.7,912.4 1681.4,910.1 1682.2,908.0 1682.9,903.3 1683.7,903.6 1684.5,900.4 1685.3,895.1 1686.1,892.6 1686.8,887.7 1687.2,884.8 1687.7,884.4 1688.1,880.1 1688.5,881.5 1688.9,879.7 1689.3,874.7 1689.7,873.5 1690.1,867.9 1690.6,867.9 1691.0,862.3 1691.4,859.2 1691.8,858.4 1692.3,857.9 1692.7,851.3 1693.2,854.4 1693.6,852.0 1694.4,844.6 1695.2,841.9 1696.0,839.3 1696.8,840.0 1697.6,832.8 1698.4,833.8 1699.3,827.6 1700.1,826.1 1701.0,824.8 1701.8,826.5 1702.7,823.9 1705.0,818.5 1707.4,814.4 1709.8,811.4 1712.1,810.1 1714.1,811.5 1714.5,812.9 1714.9,821.1 1715.2,820.0 1715.5,818.2 1715.8,825.3 1716.1,829.0 1716.4,829.8 1716.7,829.0 1716.9,836.0 1717.2,834.8 1717.4,839.3 1717.7,845.5 1717.9,843.8 1718.1,850.0 1718.4,854.0 1718.6,855.6 1719.0,855.7 1719.3,859.9 1719.6,861.6 1720.0,864.7 1720.3,871.8 1720.6,872.7 1720.9,877.8 1721.2,876.6 1721.5,882.3 1721.8,880.4 1722.0,880.6 1722.2,879.7 1722.3,877.6 1722.5,874.8 1722.7,870.2 1722.8,868.2 1723.0,867.0 1723.2,866.1 1723.3,863.8 1723.5,859.5 1723.7,858.2 1723.8,853.4 1724.0,849.6 1724.2,845.8 1724.4,845.2 1724.6,839.1 1724.8,838.1 1725.0,832.8 1725.2,835.2 1725.5,830.0 1725.9,826.7 1726.4,822.8 1726.9,824.9 1727.4,818.8 1727.9,818.7 1728.4,814.0 1728.9,809.8 1729.5,809.6 1730.0,806.3 1730.6,803.6 1731.1,801.1 1731.7,801.4 1732.3,796.7 1733.3,793.5 1734.3,790.4 1735.3,789.1 1736.3,788.7 1737.4,784.3 1738.6,783.4 1739.9,778.8 1741.4,781.2 1743.6,780.4 1746.0,778.2 1748.6,777.4 1751.2,777.7 1753.9,782.9 1756.6,782.5 1759.3,781.5 1761.8,783.4 1763.9,780.3 1766.0,778.4 1768.0,777.8 1770.0,775.1 1772.0,770.7 1774.0,773.9 1776.0,766.6 1778.0,768.7 1780.0,770.2 1782.2,765.5 1784.4,772.1 1786.6,773.5 1788.8,773.3 1791.0,776.1 1793.3,777.9 1795.6,779.3 1798.2,781.4 1800.7,779.4 1803.4,780.1 1806.1,776.2 1809.0,776.8 1811.8,774.7 1814.7,774.8 1817.5,775.4 1820.3,777.7 1822.9,774.7 1825.5,778.5 1828.0,779.8 1830.5,776.1 1832.9,777.7 1835.1,779.4 1837.4,784.5 1839.5,786.7 1841.6,784.9 1843.6,790.4 1844.6,788.9 1845.5,793.5 1846.4,794.1 1847.2,794.5 1848.1,797.9 1848.9,801.2 1849.7,802.9 1850.4,807.8 1851.2,807.6 1852.0,812.0 1852.7,815.7 1853.5,816.7 1854.2,817.3 1855.0,822.4 1855.9,825.1 1856.7,830.0 1857.5,828.2 1858.3,829.7 1859.1,833.4 1859.9,839.0 1860.7,840.5 1861.6,839.8 1862.4,841.9 1863.2,848.7 1864.1,848.7 1866.3,849.5 1868.5,854.0 1870.8,852.8 1873.2,859.0 1875.5,855.8 1877.1,859.0 1878.7,860.9 1880.3,861.8 1881.9,865.7 1883.6,871.7 1885.2,868.5 1886.8,870.7 1888.4,871.3 1889.9,868.2 1891.5,866.8 1893.0,865.1 1894.6,861.6 1896.3,859.8 1898.2,859.2 1899.5,853.6 1900.8,856.2 1902.2,853.9 1903.6,851.1 1905.0,848.7 1906.5,847.3 1907.9,842.8 1909.4,843.3 1910.8,839.3 1912.3,835.5 1913.7,832.2 1915.0,830.0 1916.4,831.9 1919.3,828.0 1922.0,828.3 1924.7,829.7 1927.3,832.7 1930.0,831.0 1931.2,829.3 1932.5,827.6 1933.7,820.8 1935.0,818.1 1936.2,815.6 1937.4,815.0 1938.7,810.7 1939.9,813.7 1941.2,807.9 1942.4,804.8 1943.6,806.6 1944.8,801.2 1945.9,799.5 1947.0,799.6 1948.1,797.4 1949.2,794.0 1950.3,790.7 1951.4,786.5 1952.5,788.0 1953.7,782.8 1954.8,781.3 1956.0,777.0 1957.3,776.1 1959.0,775.6 1960.7,772.3 1962.4,771.9 1964.2,765.6 1966.0,767.6 1967.9,766.4 1969.7,765.1 1971.6,763.9 1973.5,764.5 1975.5,756.2 1977.9,758.3 1980.4,753.9 1982.9,753.3 1985.5,753.7 1988.1,755.4 1990.7,753.4 1993.3,754.3 1995.8,754.1 1998.2,751.4 2001.0,752.5 2003.7,753.7 2006.4,756.1 2009.0,754.6 2011.5,755.1 2014.0,754.4 2016.4,755.2 2018.0,760.7 2019.6,761.3 2021.1,762.9 2022.6,766.0 2024.0,765.2 2025.3,769.0 2026.6,771.6 2027.7,775.8 2028.0,778.0 2028.3,778.3 2028.5,782.8 2028.8,787.9 2029.0,790.2 2029.2,788.8 2029.3,792.5 2029.5,799.6 2029.6,799.3 2029.8,803.2 2029.9,802.7 2030.1,805.8 2030.2,810.9 2030.3,814.5 2030.5,815.2 2030.6,817.0 2030.7,819.6 2030.9,824.3 2031.8,830.0 2032.6,828.8 2033.6,828.2 2034.1,826.5 2034.5,826.9 2034.9,821.6 2035.4,823.9 2035.9,818.0 2036.4,819.6 2036.9,816.6 2037.4,813.1 2037.9,809.9 2038.5,805.3 2039.1,801.1 2039.7,804.7 2040.3,799.0 2040.9,796.6 2041.5,796.5 2042.2,791.3 2042.8,793.9 2043.5,784.8 2044.2,785.0 2044.9,783.2 2045.7,776.3 2046.5,773.7 2047.3,774.1 2048.2,770.1 2050.0,769.7 2051.9,767.2 2053.9,760.4 2056.0,760.4 2058.2,762.4 2060.3,758.4 2062.4,760.5 2064.4,758.1 2066.4,753.2 2068.2,757.9 2069.8,761.1 2071.4,762.1 2073.0,766.3 2074.6,763.5 2076.3,766.2 2078.1,770.4 2080.0,769.3 2082.3,772.4 2084.6,771.1 2087.0,771.7 2089.4,769.2 2092.0,773.7 2094.5,766.0 2097.2,767.3 2099.9,763.4 2102.7,765.4 2105.0,761.9 2107.4,762.5 2109.8,761.1 2112.3,763.5 2114.8,762.3 2117.4,761.1 2119.9,758.7 2122.5,757.6 2125.0,757.3 2127.5,766.0 2129.9,758.3 2132.3,757.1 2134.5,761.1 2137.4,757.1 2140.1,759.0 2142.8,753.8 2145.5,757.5 2148.0,755.7 2150.5,755.0 2152.9,752.8 2155.1,761.7 2157.3,752.9 2159.0,755.7 2160.5,762.6 2161.7,766.2 2162.9,763.5 2164.0,768.0 2165.1,774.3 2166.4,769.7 2167.5,768.2 2168.6,770.2 2169.7,771.4 2170.7,759.7 2171.8,766.7 2173.0,761.1 2174.2,755.1 2175.5,757.9 2178.1,760.8 2181.0,760.3 2183.9,758.5 2186.7,752.2 2189.1,741.5 2189.6,746.8 2190.0,739.1 2190.4,734.9 2190.7,739.0 2191.0,737.3 2191.3,737.5 2191.5,731.5 2191.8,734.9 2192.0,719.5 2192.3,718.0 2192.6,723.1 2192.9,715.8 2193.2,723.2 2193.6,730.3 2195.3,718.6 2197.1,725.1 2199.1,708.7 2201.0,709.9 2202.7,697.4 2203.8,713.4 2204.8,702.8 2205.8,712.6 2206.8,708.4 2207.7,709.5 2208.7,717.7 2209.5,728.5 2210.8,735.5 2212.1,732.6 2213.2,720.2 2214.1,735.1" fill="none" stroke="#000" stroke-width="12" stroke-linejoin="round" stroke-linecap="butt" />
<clipPath id="c6"><rect x="186" y="910.5" width="2050" height="400"/></clipPath>
<polyline points="190.0,908.1 192.0,908.8 194.0,907.2 196.0,907.5 198.0,908.6 200.0,908.6 202.0,907.4 204.0,908.1 206.0,907.9 208.0,909.1 210.0,910.9 212.0,913.3 214.0,916.6 216.0,917.8 218.0,914.6 220.0,912.8 222.0,909.4 224.0,908.0 226.0,907.4 228.0,907.7 230.0,907.8 232.0,908.7 234.0,912.1 236.0,915.2 238.0,918.2 240.0,918.5 242.0,916.3 244.0,913.2 246.0,909.1 248.0,907.3 250.0,907.6 252.0,910.6 254.0,911.9 256.0,913.4 258.0,914.4 260.0,911.9 262.0,910.0 264.0,908.3 266.0,907.8 268.0,911.2 270.0,913.3 272.0,917.5 274.0,920.3 276.0,918.8 278.0,916.0 280.0,912.7 282.0,909.8 284.0,907.6 286.0,907.5 288.0,907.1 290.0,907.4 292.0,907.1 294.0,908.8 296.0,911.8 298.0,915.4 300.0,918.0 302.0,918.0 304.0,914.4 306.0,910.9 308.0,908.3 310.0,908.4 312.0,909.0 314.0,908.5 316.0,907.5 318.0,908.1 320.0,910.7 322.0,913.2 324.0,915.4 326.0,916.9 328.0,914.2 330.0,913.4 332.0,911.1 334.0,909.0 336.0,907.8 338.0,908.4 340.0,907.4 342.0,907.2 344.0,907.0 346.0,907.7 348.0,902.6 350.0,902.4 352.0,909.3 354.0,911.3 356.0,913.0 358.0,913.0 360.0,912.0 362.0,911.5 364.0,909.0 366.0,909.0 368.0,908.4 370.0,907.3 372.0,908.8 374.0,908.4 376.0,907.9 378.0,907.4 380.0,911.3 382.0,913.4 384.0,916.9 386.0,919.3 388.0,916.8 390.0,916.3 392.0,915.3 394.0,914.9 396.0,917.9 398.0,917.9 400.0,915.1 402.0,911.7 404.0,908.8" fill="none" stroke="#000" stroke-width="11.5" stroke-linejoin="round" stroke-linecap="butt" clip-path="url(#c6)"/>
<polyline points="400.0,910.0 401.5,913.2 404.0,910.1 405.3,909.7 406.8,918.8 408.4,914.9 410.0,921.1 411.7,928.1 413.3,922.8 414.9,934.3 416.4,928.9 418.8,928.7 421.0,923.6 423.2,925.9 425.5,927.1 426.4,926.4 427.4,933.4 428.3,934.6 429.2,935.1 430.1,940.7 431.1,937.8 432.2,945.9 433.3,942.8 434.5,945.0 436.6,949.9 438.7,952.8 441.0,955.8 443.3,952.5 445.7,955.7 448.1,953.7 450.4,961.0 452.7,960.4 454.2,961.3 455.8,964.7 457.3,966.1 458.8,966.3 460.3,967.7 461.8,969.5 463.3,971.4 464.8,973.9 466.4,975.5 467.9,979.5 469.4,981.6 470.9,985.7 473.2,988.2 475.4,985.7 477.6,986.3 479.8,986.2 482.1,987.9 484.4,990.2 486.7,992.7 489.1,994.9 490.6,995.1 492.2,994.6 493.9,995.7 495.5,1003.6 497.2,1005.4 498.9,1008.1 500.6,1006.2 502.3,1008.9 504.0,1011.4 505.6,1010.5 507.3,1018.6 508.8,1019.6 510.4,1022.3 511.8,1020.9 514.3,1025.7 516.4,1027.5 518.3,1025.7 520.3,1022.9 522.6,1026.0 525.5,1025.1 527.4,1028.2 529.5,1032.0 531.6,1029.7 533.9,1031.2 536.2,1035.2 538.6,1036.6 541.0,1038.6 543.4,1041.8 545.9,1038.2 548.3,1042.9 550.6,1044.9 552.9,1041.0 555.1,1042.5 557.3,1045.5 559.5,1047.5 561.7,1050.9 563.8,1051.3 565.8,1051.9 567.8,1055.7 569.8,1056.3 571.8,1057.7 573.8,1057.5 575.8,1061.8 577.9,1062.7 580.0,1059.5 582.3,1063.2 584.7,1064.5 587.0,1062.2 589.4,1064.1 591.8,1066.9 594.2,1068.7 596.6,1070.3 599.2,1067.9 601.8,1069.8 604.5,1067.6 607.3,1072.7 609.6,1072.2 612.1,1067.6 614.6,1067.6 617.2,1069.3 619.9,1067.7 622.6,1067.8 625.3,1069.0 628.1,1074.4 630.8,1067.5 633.5,1068.6 636.1,1067.6 638.7,1068.6 641.2,1071.3 643.7,1069.5 646.0,1065.9 648.2,1072.7 650.3,1065.4 652.3,1062.9 654.1,1062.3 655.7,1058.6 657.2,1059.0 658.7,1053.6 660.1,1052.3 661.6,1048.1 663.1,1048.7 664.7,1044.0 666.4,1045.5 668.3,1043.8 670.4,1038.1 672.5,1037.3 674.7,1036.2 676.8,1036.6 679.0,1035.4 681.1,1030.6 683.2,1031.5 685.3,1032.5 687.2,1028.6 689.1,1024.4 692.3,1027.1 695.4,1026.5 698.2,1023.7 700.7,1025.0 702.7,1026.1 700.0,1029.0 701.9,1028.7 704.3,1031.7 707.0,1028.0 709.8,1029.0 712.5,1029.5 715.0,1024.2 717.7,1025.7 720.2,1024.2 722.6,1022.7 725.0,1021.2 727.5,1018.8 729.8,1019.3 732.4,1022.3 733.7,1021.7 735.1,1029.1 736.5,1031.6 738.0,1032.5 739.4,1034.7 740.9,1036.4 742.3,1043.2 743.7,1045.0 744.6,1038.5 745.5,1037.2 746.5,1031.1 747.4,1029.1 748.3,1027.1 749.2,1024.5 750.1,1021.0 751.0,1017.4 751.9,1014.0 752.8,1012.5 753.6,1009.6 755.9,1012.1 758.1,1005.1 760.3,1008.3 762.4,1009.6 763.5,1003.7 764.6,1008.0 765.7,1013.0 766.8,1012.6 767.9,1015.6 768.9,1023.6 769.9,1021.5 770.2,1024.5 770.6,1027.5 771.0,1029.6 771.3,1032.2 771.7,1035.9 772.0,1035.1 772.3,1040.9 772.7,1041.3 773.0,1048.3 773.3,1051.1 773.6,1051.1 773.9,1055.7 774.2,1053.5 774.5,1056.0 774.9,1061.5 775.1,1066.7 775.3,1063.8 775.5,1066.4 775.6,1068.8 775.8,1070.8 776.0,1073.4 776.2,1080.0 776.4,1081.2 776.6,1084.0 776.8,1088.3 777.0,1086.3 777.1,1093.2 777.3,1095.8 777.5,1094.2 777.7,1096.0 777.9,1099.3 778.0,1101.4 778.2,1106.7 778.4,1113.7 778.6,1112.8 778.7,1114.2 778.9,1118.3 779.1,1117.6 779.2,1123.2 779.3,1124.2 779.5,1124.0 779.6,1126.7 779.8,1129.9 779.9,1131.9 780.1,1135.8 780.2,1140.0 780.4,1145.0 780.5,1148.4 780.7,1145.4 780.8,1150.1 781.0,1150.9 781.1,1157.9 781.3,1165.3 781.5,1162.5 781.6,1162.1 781.8,1164.7 782.0,1168.9 782.2,1170.0 782.3,1175.4 782.6,1175.3 782.9,1180.4 783.2,1180.7 783.6,1184.4 783.9,1189.1 784.2,1189.8 784.6,1197.4 784.9,1195.7 785.2,1203.0 785.6,1204.9 785.9,1206.2 786.3,1209.5 786.6,1213.5 786.9,1208.0 787.3,1216.6 787.6,1219.4 787.9,1217.3 788.3,1221.2 788.6,1219.0 788.9,1219.0 789.1,1216.8 789.4,1218.4 789.7,1215.0 790.0,1214.1 790.2,1208.7 790.5,1209.0 790.8,1202.3 791.0,1201.8 791.3,1197.9 791.6,1192.8 791.8,1191.1 792.1,1190.5 792.3,1186.1 792.6,1185.2 792.8,1180.9 793.1,1176.3 793.3,1177.7 793.6,1173.5 794.8,1167.4 796.0,1166.6 797.3,1166.6 798.9,1168.5 800.5,1169.2 802.3,1171.3 802.8,1176.5 803.3,1177.0 803.9,1181.4 804.4,1180.7 805.0,1188.0 805.6,1188.4 806.1,1194.5 806.7,1192.4 807.3,1197.1 807.9,1200.9 808.5,1199.1 809.2,1204.1 809.8,1202.9 811.4,1208.1 813.1,1205.0 814.9,1200.3 816.6,1202.3 818.3,1198.2 819.8,1194.3 820.1,1192.0 820.4,1189.3 820.8,1188.9 821.1,1184.6 821.4,1180.6 821.6,1180.8 821.9,1176.2 822.2,1174.8 822.4,1173.9 822.7,1168.3 822.9,1168.5 823.2,1166.5 823.4,1161.5 823.7,1156.7 824.0,1153.4 824.2,1151.9 824.5,1151.9 824.8,1146.3 825.2,1147.7 825.7,1144.9 826.2,1137.5 826.6,1138.5 827.1,1133.3 827.6,1132.1 828.1,1130.5 828.6,1125.0 829.2,1127.2 829.7,1126.1 830.9,1119.2 832.1,1116.8 833.4,1110.4 834.7,1111.9 836.0,1107.1 837.3,1109.2 838.5,1105.7 839.4,1105.2 840.3,1115.5 841.2,1110.0 842.1,1113.9 842.9,1119.8 843.8,1121.4 844.7,1124.4 845.3,1126.8 845.8,1130.8 846.4,1130.0 847.0,1136.1 847.6,1136.3 848.2,1141.4 848.8,1145.4 849.4,1145.4 850.0,1150.1 850.6,1149.1 851.1,1150.2 851.7,1152.8 852.2,1155.7 852.9,1156.2 853.5,1154.8 854.2,1148.8 854.8,1150.3 855.4,1152.3 856.0,1143.1 856.6,1139.4 857.2,1136.1 857.5,1135.9 857.9,1132.6 858.2,1127.3 858.6,1125.4 858.9,1125.9 859.3,1122.8 859.6,1121.8 859.9,1116.4 860.3,1114.1 860.6,1114.1 861.0,1112.4 861.3,1109.4 861.6,1102.7 861.9,1101.0 862.2,1102.0 862.4,1094.1 862.6,1096.1 862.7,1091.3 862.9,1087.0 863.1,1088.2 863.2,1085.1 863.4,1080.8 863.5,1080.6 863.6,1075.3 863.8,1073.1 863.9,1069.8 864.1,1070.8 864.3,1064.4 864.5,1065.3 864.7,1064.1 865.0,1059.2 865.2,1058.8 865.5,1052.6 865.8,1053.5 866.1,1047.2 866.4,1049.4 866.7,1045.7 867.0,1042.1 867.4,1035.9 867.7,1035.4 868.1,1036.0 868.4,1032.8 868.8,1030.9 869.2,1029.1 869.7,1023.2 870.4,1019.1 871.1,1021.1 871.8,1019.0 872.6,1011.1 873.4,1013.5 874.2,1008.2 875.0,1003.4 875.9,1002.4 876.8,1001.2 877.7,998.8 878.6,994.7 879.6,993.3 881.2,994.4 882.9,991.2 884.6,987.2 886.4,985.7 888.2,981.5 890.0,981.4 891.8,980.9 893.6,977.2 895.4,974.5 897.1,973.2 899.7,973.3 902.2,972.3 904.7,972.3 907.2,969.0 909.6,967.3 912.1,965.7 914.4,968.2 916.8,970.3 919.1,975.2 921.4,977.3 923.6,976.7 925.8,976.6 927.2,973.8 928.6,971.0 929.8,971.2 931.1,967.7 932.4,965.3 933.8,963.3 935.3,961.8 937.0,954.2 939.3,960.0 941.7,956.9 944.3,957.0 946.9,951.6 949.6,952.2 952.2,953.4 954.8,953.9 957.2,947.5 959.5,948.5 962.3,947.2 964.3,947.8 966.8,952.3 970.9,949.1 972.9,950.1 975.1,946.5 977.3,946.1 979.6,947.3 982.1,948.6 984.5,943.3 987.1,946.6 989.7,940.7 992.4,940.9 995.0,942.8 997.7,942.6 1000.5,941.9 1003.2,941.1 1005.9,941.0 1008.6,936.9 1011.2,938.8 1013.8,936.3 1016.4,934.2 1018.9,932.3 1021.4,937.2 1023.9,933.8 1026.5,932.9 1029.0,931.5 1031.5,933.9 1034.0,931.2 1036.6,933.2 1039.1,935.9 1041.6,933.6 1044.1,931.0 1046.7,932.3 1049.2,928.8 1051.7,927.6 1054.2,930.6 1056.8,931.9 1059.3,928.1 1061.8,930.4 1064.3,925.5 1066.9,927.6 1069.4,926.2 1071.9,929.2 1074.4,928.7 1077.0,932.7 1079.5,929.0 1082.0,927.6 1084.5,928.4 1087.1,925.0 1089.6,925.8 1092.1,924.5 1094.6,922.2 1097.2,923.7 1099.7,925.8 1102.2,923.3 1104.7,926.3 1107.3,924.1 1109.8,928.0 1112.4,925.6 1115.1,925.1 1117.8,923.3 1120.5,923.7 1123.2,923.7 1126.0,928.7 1128.7,926.5 1131.4,926.8 1134.0,929.8 1136.6,930.0 1139.2,928.4 1141.7,928.8 1144.1,924.7 1146.4,925.0 1148.6,929.2 1150.7,927.4 1152.7,927.3 1156.4,930.8 1158.3,938.1 1159.7,932.9 1161.8,935.1 1163.6,933.7 1165.5,934.9 1167.5,932.3 1169.5,928.6 1171.6,928.1 1173.7,924.6 1175.9,922.5 1177.9,918.5 1180.0,919.0 1182.5,924.0 1184.7,920.8 1186.9,922.9 1189.2,922.3 1191.8,921.7 1194.7,924.5 1198.2,921.1 1200.3,926.4 1202.6,925.6 1205.0,923.0 1207.4,923.0 1210.0,925.9 1212.6,926.6 1215.3,927.2 1218.0,926.3 1220.7,928.2 1223.5,928.3 1226.2,927.9 1228.9,927.5 1231.5,928.4 1234.1,927.2 1236.7,928.8 1239.1,931.2 1241.4,929.6 1243.6,926.0 1246.7,926.9 1249.3,929.3 1251.7,925.5 1253.9,926.9 1256.1,926.0 1258.3,926.9 1260.7,924.6 1263.3,927.4 1266.4,925.4 1268.6,926.6 1270.9,929.2 1273.3,931.9 1275.8,927.8 1278.4,925.9 1281.0,927.0 1283.7,924.8 1286.4,927.2 1289.1,926.1 1291.8,927.8 1294.5,925.2 1297.2,923.7 1299.8,924.1 1302.4,925.4 1304.9,924.7 1307.3,924.8 1309.6,926.1 1311.8,925.3 1314.9,926.9 1317.6,928.5 1320.1,928.9 1322.4,924.1 1324.6,928.1 1326.9,927.2 1329.2,923.6 1331.7,925.9 1334.5,922.8 1336.9,928.3 1339.5,926.9 1342.1,928.8 1344.8,925.8 1347.6,928.9 1350.4,933.0 1353.2,927.2 1356.0,930.9 1358.8,927.8 1361.5,929.9 1364.1,929.7 1366.5,930.9 1368.8,930.0 1370.9,931.7 1373.4,927.9 1374.7,926.9 1375.6,919.6 1377.0,924.8 1380.0,920.5 1382.0,920.0 1384.0,921.6 1386.2,922.9 1388.4,924.6 1390.7,923.6 1393.1,923.0 1395.6,921.1 1398.1,919.7 1400.7,924.5 1403.3,923.1 1406.0,923.1 1408.7,921.7 1411.4,922.0 1414.2,923.3 1417.0,925.1 1419.8,925.3 1422.6,926.5 1425.5,925.6 1427.8,926.0 1430.2,926.6 1432.7,923.6 1435.2,926.4 1437.8,923.6 1440.4,926.2 1443.0,923.5 1445.7,923.2 1448.4,924.3 1451.0,922.4 1453.7,922.7 1456.4,925.0 1459.1,924.1 1461.8,926.9 1464.5,924.7 1467.1,921.9 1469.8,930.7 1472.4,925.3 1474.9,927.1 1477.4,927.5 1479.9,923.0 1482.3,928.1 1484.6,927.5 1486.9,924.9 1489.1,925.3 1492.4,927.0 1495.6,925.0 1498.6,926.0 1501.5,926.6 1504.3,926.5 1506.9,926.9 1509.4,927.7 1511.8,930.6 1514.2,930.3 1516.5,927.3 1518.7,927.9 1520.9,933.4 1522.7,931.0 1524.4,936.3 1525.9,934.7 1527.3,940.5 1528.6,944.2 1529.8,946.2 1531.0,944.0 1532.2,948.8 1533.3,949.0 1534.5,955.3 1535.3,955.8 1536.1,960.5 1536.8,958.9 1537.5,964.2 1538.2,967.8 1538.9,970.7 1539.6,968.4 1540.3,973.5 1540.9,976.9 1541.6,980.3 1542.3,983.8 1542.9,980.7 1543.6,985.5 1544.8,985.6 1545.8,989.9 1546.9,996.3 1548.0,995.6 1549.1,1001.3 1550.3,999.8 1551.5,1001.3 1552.7,1004.3 1554.8,1004.8 1557.1,1002.3 1559.4,1001.3 1561.7,1001.6 1564.1,1001.8 1566.4,996.9 1568.7,999.9 1571.1,998.3 1573.6,998.3 1575.9,992.5 1578.1,993.9 1580.0,992.4 1581.5,989.5 1583.6,988.1 1585.7,990.4 1588.0,995.0 1590.5,991.3 1593.2,993.2 1595.9,994.7 1598.7,997.2 1601.3,993.5 1603.9,998.3 1606.5,993.4 1609.2,993.2 1611.8,995.2 1614.4,994.2 1616.9,989.9 1619.3,991.6 1621.6,989.5 1623.3,985.7 1624.8,985.0 1626.2,984.3 1627.6,979.0 1629.0,974.6 1630.3,971.8 1631.7,975.8 1634.3,970.8 1636.9,971.7 1639.4,974.3 1641.8,974.4 1643.4,973.6 1644.9,969.2 1646.4,968.8 1647.9,966.4 1649.4,964.7 1651.1,965.1 1652.8,965.4 1654.6,966.5 1656.4,968.8 1658.0,973.9 1659.6,975.8 1659.9,975.5 1660.2,976.6 1660.5,979.1 1660.8,985.6 1661.1,985.2 1661.3,991.5 1661.6,990.6 1661.8,992.4 1662.1,997.9 1662.3,1001.0 1662.5,1002.9 1662.8,1003.1 1663.0,1009.4 1663.2,1010.3 1663.4,1011.9 1663.7,1018.0 1663.9,1020.8 1664.1,1020.3 1664.4,1026.1 1664.6,1028.4 1664.9,1029.9 1665.1,1030.6 1665.3,1033.2 1665.5,1035.7 1665.8,1039.8 1666.0,1044.0 1666.2,1043.0 1666.4,1045.1 1666.6,1051.0 1666.9,1052.7 1667.1,1053.1 1667.3,1054.6 1667.5,1057.5 1667.8,1063.8 1668.0,1062.7 1668.2,1067.4 1668.5,1070.1 1668.7,1073.2 1668.9,1076.8 1669.2,1079.3 1669.4,1080.9 1669.7,1083.9 1670.2,1087.4 1670.6,1086.0 1671.1,1091.5 1671.6,1093.4 1672.1,1095.1 1672.6,1100.4 1673.2,1104.0 1673.7,1103.8 1674.2,1109.9 1674.7,1112.1 1675.2,1111.9 1675.8,1113.3 1676.3,1117.7 1676.8,1118.4 1677.3,1117.6 1677.9,1118.6 1678.5,1119.7 1679.1,1117.7 1679.6,1114.6 1680.2,1111.1 1680.8,1112.2 1681.4,1106.5 1682.0,1104.9 1682.6,1101.1 1683.2,1098.8 1683.7,1091.1 1684.3,1091.5 1684.9,1086.5 1685.3,1085.4 1685.7,1083.6 1686.2,1077.1 1686.6,1075.9 1687.0,1075.6 1687.4,1069.1 1687.9,1068.2 1688.3,1065.5 1688.7,1062.5 1689.1,1063.9 1689.5,1061.7 1690.0,1058.7 1690.4,1055.3 1690.8,1049.3 1691.2,1047.8 1691.7,1044.8 1692.1,1041.5 1692.5,1043.4 1693.0,1035.8 1693.6,1032.8 1694.1,1036.0 1694.7,1030.9 1695.2,1029.1 1695.7,1026.5 1696.3,1025.3 1696.8,1014.7 1697.3,1019.2 1697.9,1014.2 1698.4,1013.3 1699.0,1007.5 1699.5,1007.3 1700.1,1004.9 1701.5,1001.4 1703.0,997.2 1704.4,995.5 1705.9,995.1 1707.3,990.6 1708.7,989.6 1709.2,994.5 1709.6,993.0 1710.0,998.2 1710.5,996.3 1710.9,1001.5 1711.4,1003.2 1711.8,1005.1 1712.2,1007.7 1712.6,1010.6 1713.0,1011.9 1713.4,1015.2 1713.8,1016.8 1714.2,1025.4 1714.6,1023.9 1714.9,1028.4 1715.3,1026.0 1715.5,1032.3 1715.7,1039.0 1715.9,1039.2 1716.1,1042.4 1716.3,1043.8 1716.4,1045.8 1716.6,1049.1 1716.8,1052.3 1716.9,1053.7 1717.1,1060.1 1717.2,1064.1 1717.4,1066.9 1717.6,1070.5 1717.7,1072.4 1717.9,1072.6 1718.0,1077.6 1718.2,1075.7 1718.3,1078.0 1718.5,1081.9 1718.7,1089.1 1718.8,1086.8 1719.1,1082.3 1719.3,1084.7 1719.5,1079.0 1719.8,1077.3 1720.0,1078.1 1720.2,1074.4 1720.5,1072.5 1720.7,1070.8 1720.9,1064.1 1721.2,1060.5 1721.4,1060.9 1721.7,1058.1 1721.9,1054.6 1722.1,1050.1 1722.4,1046.5 1722.6,1042.2 1722.9,1040.4 1723.2,1037.8 1723.4,1033.7 1723.7,1033.6 1724.0,1030.0 1724.2,1030.1 1724.5,1025.1 1724.8,1022.8 1725.0,1021.4 1725.3,1017.8 1725.6,1017.8 1725.9,1010.4 1726.1,1011.1 1726.4,1007.0 1726.7,1003.4 1727.0,999.9 1727.3,996.8 1727.6,996.4 1728.0,994.9 1728.6,995.6 1729.3,991.5 1730.0,988.2 1730.7,980.8 1731.4,978.8 1732.1,977.7 1732.9,974.1 1733.7,972.7 1734.6,971.3 1735.6,968.5 1737.8,969.7 1740.3,974.6 1743.0,975.8 1745.6,975.8 1748.3,974.1 1750.8,979.7 1752.9,974.6 1755.0,972.8 1757.0,974.3 1759.0,971.9 1761.2,968.2 1763.4,964.9 1765.8,969.3 1768.3,964.7 1770.8,964.7 1773.4,961.2 1776.0,960.3 1778.6,960.5 1781.2,962.6 1782.9,961.7 1784.7,960.9 1786.5,963.8 1788.2,965.8 1790.0,971.6 1791.8,972.8 1793.6,975.1 1795.3,976.0 1797.1,978.0 1798.9,981.2 1801.4,981.0 1804.0,979.7 1806.5,976.7 1809.0,976.1 1811.6,974.8 1814.1,973.4 1816.6,970.9 1818.9,972.3 1821.1,976.0 1823.4,973.5 1825.7,983.0 1827.9,976.8 1830.1,979.4 1832.3,981.6 1834.3,981.4 1835.5,986.5 1836.7,984.2 1837.8,989.3 1838.8,992.2 1839.9,991.9 1841.0,997.8 1842.0,995.8 1843.0,1000.7 1844.0,1003.4 1845.0,1004.3 1846.0,1011.2 1847.0,1012.9 1847.9,1011.8 1848.8,1018.7 1849.7,1016.2 1850.6,1018.5 1851.5,1027.1 1852.4,1023.9 1853.2,1031.0 1854.0,1029.7 1854.9,1034.5 1855.6,1034.8 1856.4,1038.7 1857.1,1040.3 1858.9,1042.4 1860.4,1045.7 1862.2,1047.7 1863.7,1048.0 1865.4,1046.5 1867.1,1044.8 1868.9,1037.6 1870.6,1040.5 1872.3,1037.2 1874.4,1039.4 1876.4,1040.4 1878.4,1037.3 1880.4,1045.5 1882.5,1041.4 1884.2,1044.7 1885.8,1040.9 1887.5,1035.8 1889.2,1034.2 1890.9,1034.3 1892.6,1033.4 1893.7,1028.8 1894.8,1024.7 1895.9,1026.8 1896.9,1022.4 1898.0,1020.6 1899.1,1015.1 1900.3,1013.2 1901.5,1009.5 1902.7,1007.0 1904.8,1007.1 1906.9,1006.6 1909.1,1001.2 1911.4,1001.7 1913.6,996.8 1915.8,998.3 1917.9,994.7 1920.1,994.3 1922.3,998.4 1924.5,1001.9 1926.5,1002.6 1928.6,1003.1 1930.6,1006.7 1931.5,1006.7 1932.4,1001.1 1933.1,998.6 1933.9,995.2 1934.6,997.5 1935.4,994.4 1936.2,990.3 1937.1,987.0 1938.2,981.4 1939.4,983.4 1940.7,980.8 1942.3,977.3 1944.0,975.7 1945.8,974.8 1947.6,972.9 1949.5,970.7 1951.5,965.2 1953.5,966.7 1955.5,962.9 1957.6,963.3 1959.6,960.5 1961.7,954.9 1963.7,958.2 1965.6,951.7 1967.5,951.5 1969.4,954.0 1971.1,950.1 1973.9,951.3 1976.6,947.9 1979.1,945.6 1981.5,949.3 1983.9,944.5 1986.4,948.3 1988.8,947.4 1991.4,947.3 1993.9,947.1 1996.5,951.5 1999.2,949.2 2001.8,950.4 2004.5,950.4 2007.1,952.8 2009.6,953.3 2012.0,958.7 2014.2,959.2 2015.8,958.9 2017.3,962.6 2018.7,963.6 2019.9,963.1 2021.1,967.3 2022.2,969.2 2023.2,974.6 2024.3,975.6 2024.7,976.6 2025.1,981.9 2025.5,984.2 2025.8,986.9 2026.2,987.7 2026.5,992.0 2026.8,991.4 2027.1,998.2 2027.4,996.9 2027.7,1000.3 2028.0,1002.7 2028.3,1005.7 2028.5,1008.0 2028.8,1008.9 2029.1,1013.0 2029.4,1017.8 2030.0,1022.4 2030.6,1024.5 2031.1,1024.3 2031.6,1027.7 2032.2,1030.2 2032.9,1032.9 2033.5,1031.3 2034.1,1024.9 2034.8,1027.8 2035.4,1023.0 2036.1,1023.1 2036.7,1014.7 2037.4,1012.7 2038.1,1012.1 2038.8,1006.0 2039.5,1006.9 2040.1,1005.3 2040.7,1003.7 2041.2,998.0 2041.8,993.9 2042.3,994.6 2042.9,989.6 2043.5,987.8 2044.1,983.6 2044.8,985.0 2045.5,979.0 2046.3,977.1 2047.1,973.5 2048.8,970.6 2050.6,968.4 2052.5,969.8 2054.4,965.8 2056.4,964.1 2058.5,965.5 2060.6,962.1 2062.7,963.9 2064.8,957.5 2066.6,963.9 2068.5,964.1 2070.4,965.6 2072.3,966.4 2074.2,970.0 2076.1,971.2 2078.1,970.5 2080.0,977.0 2082.0,976.2 2083.9,978.4 2085.8,981.9 2087.6,982.5 2089.7,979.3 2091.5,979.4 2093.4,977.4 2095.1,974.5 2096.9,971.9 2098.8,971.9 2100.8,969.8 2102.9,968.2 2105.3,972.9 2107.9,963.5 2110.1,965.0 2112.4,962.3 2114.9,966.6 2117.4,963.0 2120.1,960.3 2122.8,962.1 2125.5,964.7 2128.3,965.0 2131.1,961.4 2133.9,964.1 2136.6,962.6 2139.3,963.5 2141.9,960.8 2144.5,962.0 2147.0,962.4 2149.3,957.0 2151.5,962.5 2153.5,962.0 2155.4,963.3 2156.8,969.0 2158.0,972.6 2158.9,971.5 2159.7,975.5 2160.4,981.0 2161.0,981.8 2161.7,981.5 2162.6,989.3 2163.6,984.7 2165.0,987.9 2166.5,984.3 2168.1,988.2 2169.6,976.4 2171.2,974.5 2172.8,976.2 2174.4,965.8 2175.9,976.7 2177.4,959.5 2178.8,971.3 2181.6,959.3 2184.1,969.6 2186.5,963.7 2189.0,967.6 2190.4,975.0 2191.9,983.5 2193.4,973.3 2194.9,972.0 2196.3,990.5 2197.7,981.8 2199.1,991.1 2200.0,980.6 2200.8,977.4 2201.7,978.6 2202.5,979.2 2203.3,974.6 2204.1,972.8 2204.9,973.5 2205.8,968.0 2206.7,969.1 2208.7,970.7 2210.9,960.3 2213.1,964.1 2215.2,969.9 2216.8,963.1" fill="none" stroke="#000" stroke-width="12" stroke-linejoin="round" stroke-linecap="butt" clip-path="url(#c6)"/>
</g>
<rect x="186" y="75" width="2036" height="1508.5" fill="none" stroke="#000" stroke-width="11"/>
<rect x="180.5" y="1576" width="2047" height="15" fill="#000"/>
<rect x="181.2" y="1585" width="9.5" height="30" fill="#000"/>
<rect x="474.6" y="1585" width="9.5" height="30" fill="#000"/>
<rect x="767.9" y="1585" width="9.5" height="30" fill="#000"/>
<rect x="1061.2" y="1585" width="9.5" height="30" fill="#000"/>
<rect x="1354.5" y="1585" width="9.5" height="30" fill="#000"/>
<rect x="1647.8" y="1585" width="9.5" height="30" fill="#000"/>
<rect x="1941.1" y="1585" width="9.5" height="30" fill="#000"/>
<rect x="328.1" y="1585" width="9" height="15.5" fill="#000"/>
<rect x="621.4" y="1585" width="9" height="15.5" fill="#000"/>
<rect x="914.7" y="1585" width="9" height="15.5" fill="#000"/>
<rect x="1208.0" y="1585" width="9" height="15.5" fill="#000"/>
<rect x="1501.3" y="1585" width="9" height="15.5" fill="#000"/>
<rect x="1794.6" y="1585" width="9" height="15.5" fill="#000"/>
<rect x="2087.9" y="1585" width="9" height="15.5" fill="#000"/>
<text x="186.5" y="1704" font-family="'Liberation Serif',serif" font-weight="bold" font-size="87" text-anchor="middle" textLength="176" lengthAdjust="spacingAndGlyphs">4000</text>
<text x="479.8" y="1704" font-family="'Liberation Serif',serif" font-weight="bold" font-size="87" text-anchor="middle" textLength="176" lengthAdjust="spacingAndGlyphs">3500</text>
<text x="773.1" y="1704" font-family="'Liberation Serif',serif" font-weight="bold" font-size="87" text-anchor="middle" textLength="176" lengthAdjust="spacingAndGlyphs">3000</text>
<text x="1066.4" y="1704" font-family="'Liberation Serif',serif" font-weight="bold" font-size="87" text-anchor="middle" textLength="176" lengthAdjust="spacingAndGlyphs">2500</text>
<text x="1359.7" y="1704" font-family="'Liberation Serif',serif" font-weight="bold" font-size="87" text-anchor="middle" textLength="176" lengthAdjust="spacingAndGlyphs">2000</text>
<text x="1653.0" y="1704" font-family="'Liberation Serif',serif" font-weight="bold" font-size="87" text-anchor="middle" textLength="176" lengthAdjust="spacingAndGlyphs">1500</text>
<text x="1946.3" y="1704" font-family="'Liberation Serif',serif" font-weight="bold" font-size="87" text-anchor="middle" textLength="176" lengthAdjust="spacingAndGlyphs">1000</text>
<text x="757" y="1785" font-family="'Liberation Serif',serif" font-weight="bold" font-size="97" letter-spacing="4.4">Wavenumbers(cm<tspan font-size="54" dy="-48" letter-spacing="0">-1</tspan><tspan dy="48">)</tspan></text>
<text transform="translate(140.5,1152) rotate(-90)" font-family="'Liberation Serif',serif" font-weight="bold" font-size="105" textLength="654" lengthAdjust="spacing">Transmittance</text>
<text y="184.5" font-family="'Liberation Serif',serif" font-size="83" fill="#333"><tspan x="1041.5" textLength="41" lengthAdjust="spacingAndGlyphs">N</tspan><tspan x="1083.1" textLength="38" lengthAdjust="spacingAndGlyphs">R</tspan><tspan x="1123.8" textLength="37" lengthAdjust="spacingAndGlyphs">L</tspan><tspan x="1162.3" textLength="40" lengthAdjust="spacingAndGlyphs">F</tspan></text>
<text y="336" font-family="'Liberation Serif',serif" font-size="83" fill="#333"><tspan x="1038.0" textLength="41" lengthAdjust="spacingAndGlyphs">N</tspan><tspan x="1079.6" textLength="38" lengthAdjust="spacingAndGlyphs">R</tspan><tspan x="1120.2" textLength="37" lengthAdjust="spacingAndGlyphs">L</tspan><tspan x="1158.8" textLength="40" lengthAdjust="spacingAndGlyphs">F</tspan><tspan x="1198.5" textLength="41" lengthAdjust="spacingAndGlyphs">+</tspan><tspan x="1244.0" textLength="30" lengthAdjust="spacingAndGlyphs">1</tspan><tspan x="1278.6" textLength="41" lengthAdjust="spacingAndGlyphs">C</tspan><tspan x="1320.2" textLength="38" lengthAdjust="spacingAndGlyphs">h</tspan><tspan x="1368.3" textLength="22" lengthAdjust="spacingAndGlyphs">i</tspan><tspan x="1406.0" textLength="27" lengthAdjust="spacingAndGlyphs">t</tspan><tspan x="1448.5" textLength="22" lengthAdjust="spacingAndGlyphs">i</tspan><tspan x="1479.1" textLength="41" lengthAdjust="spacingAndGlyphs">n</tspan></text>
<text y="497" font-family="'Liberation Serif',serif" font-size="83" fill="#333"><tspan x="1038.0" textLength="41" lengthAdjust="spacingAndGlyphs">N</tspan><tspan x="1079.6" textLength="38" lengthAdjust="spacingAndGlyphs">R</tspan><tspan x="1120.2" textLength="37" lengthAdjust="spacingAndGlyphs">L</tspan><tspan x="1158.8" textLength="40" lengthAdjust="spacingAndGlyphs">F</tspan><tspan x="1198.5" textLength="41" lengthAdjust="spacingAndGlyphs">+</tspan><tspan x="1241.0" textLength="36" lengthAdjust="spacingAndGlyphs">2</tspan><tspan x="1278.6" textLength="41" lengthAdjust="spacingAndGlyphs">C</tspan><tspan x="1320.2" textLength="38" lengthAdjust="spacingAndGlyphs">h</tspan><tspan x="1368.3" textLength="22" lengthAdjust="spacingAndGlyphs">i</tspan><tspan x="1406.0" textLength="27" lengthAdjust="spacingAndGlyphs">t</tspan><tspan x="1448.5" textLength="22" lengthAdjust="spacingAndGlyphs">i</tspan><tspan x="1479.1" textLength="41" lengthAdjust="spacingAndGlyphs">n</tspan></text>
<text y="693" font-family="'Liberation Serif',serif" font-size="83" fill="#333"><tspan x="1041.5" textLength="41" lengthAdjust="spacingAndGlyphs">N</tspan><tspan x="1083.1" textLength="38" lengthAdjust="spacingAndGlyphs">R</tspan><tspan x="1123.8" textLength="37" lengthAdjust="spacingAndGlyphs">L</tspan><tspan x="1162.3" textLength="40" lengthAdjust="spacingAndGlyphs">F</tspan><tspan x="1202.0" textLength="41" lengthAdjust="spacingAndGlyphs">+</tspan><tspan x="1244.5" textLength="36" lengthAdjust="spacingAndGlyphs">3</tspan><tspan x="1282.1" textLength="41" lengthAdjust="spacingAndGlyphs">C</tspan><tspan x="1323.8" textLength="38" lengthAdjust="spacingAndGlyphs">h</tspan><tspan x="1371.8" textLength="22" lengthAdjust="spacingAndGlyphs">i</tspan><tspan x="1409.5" textLength="27" lengthAdjust="spacingAndGlyphs">t</tspan><tspan x="1452.0" textLength="22" lengthAdjust="spacingAndGlyphs">i</tspan><tspan x="1482.6" textLength="41" lengthAdjust="spacingAndGlyphs">n</tspan></text>
<text y="843" font-family="'Liberation Serif',serif" font-size="83" fill="#333"><tspan x="1041.5" textLength="41" lengthAdjust="spacingAndGlyphs">N</tspan><tspan x="1083.1" textLength="38" lengthAdjust="spacingAndGlyphs">R</tspan><tspan x="1123.8" textLength="37" lengthAdjust="spacingAndGlyphs">L</tspan><tspan x="1162.3" textLength="40" lengthAdjust="spacingAndGlyphs">F</tspan><tspan x="1202.0" textLength="41" lengthAdjust="spacingAndGlyphs">+</tspan><tspan x="1243.5" textLength="38" lengthAdjust="spacingAndGlyphs">4</tspan><tspan x="1282.1" textLength="41" lengthAdjust="spacingAndGlyphs">C</tspan><tspan x="1323.8" textLength="38" lengthAdjust="spacingAndGlyphs">h</tspan><tspan x="1371.8" textLength="22" lengthAdjust="spacingAndGlyphs">i</tspan><tspan x="1409.5" textLength="27" lengthAdjust="spacingAndGlyphs">t</tspan><tspan x="1452.0" textLength="22" lengthAdjust="spacingAndGlyphs">i</tspan><tspan x="1482.6" textLength="41" lengthAdjust="spacingAndGlyphs">n</tspan></text>
<text y="1039" font-family="'Liberation Serif',serif" font-size="83" fill="#333"><tspan x="1045.5" textLength="41" lengthAdjust="spacingAndGlyphs">N</tspan><tspan x="1087.1" textLength="38" lengthAdjust="spacingAndGlyphs">R</tspan><tspan x="1127.8" textLength="37" lengthAdjust="spacingAndGlyphs">L</tspan><tspan x="1166.3" textLength="40" lengthAdjust="spacingAndGlyphs">F</tspan><tspan x="1206.0" textLength="41" lengthAdjust="spacingAndGlyphs">+</tspan><tspan x="1248.5" textLength="36" lengthAdjust="spacingAndGlyphs">5</tspan><tspan x="1286.1" textLength="41" lengthAdjust="spacingAndGlyphs">C</tspan><tspan x="1327.8" textLength="38" lengthAdjust="spacingAndGlyphs">h</tspan><tspan x="1375.8" textLength="22" lengthAdjust="spacingAndGlyphs">i</tspan><tspan x="1413.5" textLength="27" lengthAdjust="spacingAndGlyphs">t</tspan><tspan x="1456.0" textLength="22" lengthAdjust="spacingAndGlyphs">i</tspan><tspan x="1486.6" textLength="41" lengthAdjust="spacingAndGlyphs">n</tspan></text>
<text x="539" y="1364" font-family="'Liberation Serif',serif" font-size="80" fill="#3c3c3c" textLength="157" lengthAdjust="spacingAndGlyphs">3280</text>
<text x="805" y="1334.5" font-family="'Liberation Serif',serif" font-size="80" fill="#3c3c3c" textLength="157" lengthAdjust="spacingAndGlyphs">2850</text>
<text x="713" y="1484" font-family="'Liberation Serif',serif" font-size="80" fill="#3c3c3c" textLength="157" lengthAdjust="spacingAndGlyphs">2900</text>
<text x="1624" y="1349" font-family="'Liberation Serif',serif" font-size="80" fill="#3c3c3c" textLength="150" lengthAdjust="spacingAndGlyphs">1460</text>
<text x="1488" y="1416" font-family="'Liberation Serif',serif" font-size="80" fill="#3c3c3c" textLength="150" lengthAdjust="spacingAndGlyphs">1660</text>
<text x="1984" y="1269" font-family="'Liberation Serif',serif" font-size="80" fill="#3c3c3c" textLength="119" lengthAdjust="spacingAndGlyphs">842</text>
<text x="1730.5" y="1493" font-family="'Liberation Serif',serif" font-size="80" fill="#3c3c3c" textLength="357" lengthAdjust="spacingAndGlyphs">1200, 1100</text>
<line x1="1288.5" y1="2022" x2="1288.5" y2="3068" stroke="#2a2a2a" stroke-width="3.6"/>
<line x1="1330" y1="2022" x2="1330" y2="3068" stroke="#2a2a2a" stroke-width="3.6"/>
<g id="botcurves">
<polyline points="540.9,2025.3 543.2,2029.0 545.7,2026.0 548.5,2027.0 551.4,2024.1 554.4,2023.6 557.6,2026.9 560.9,2026.1 564.2,2025.0 567.6,2026.4 571.0,2025.8 574.5,2026.1 577.9,2021.5 581.3,2021.1 584.6,2023.0 587.8,2021.2 590.9,2024.8 594.1,2022.1 597.2,2022.0 600.4,2019.9 603.7,2022.4 606.9,2023.8 610.1,2019.2 613.3,2019.6 616.4,2020.6 619.5,2021.5 622.5,2020.9 625.5,2022.7 628.4,2021.5 631.1,2022.2 633.8,2019.9 636.4,2019.3 640.3,2018.7 643.6,2021.6 646.5,2023.4 649.1,2025.3 651.7,2022.5 654.5,2027.4 657.5,2024.9 660.5,2025.7 663.5,2029.7 666.5,2032.1 669.5,2033.2 672.7,2033.7 675.9,2035.8 679.1,2029.7 682.4,2031.3 685.8,2030.0 689.1,2030.1 692.3,2031.8 695.5,2028.8 697.9,2028.7 700.2,2034.0 702.5,2033.4 704.7,2034.5 706.9,2036.6 709.2,2039.0 711.4,2041.4 713.6,2047.5 715.0,2050.2 716.5,2052.4 717.9,2050.7 719.4,2057.4 720.8,2057.9 722.3,2063.3 723.7,2065.4 725.1,2067.9 726.5,2067.6 727.9,2071.7 729.2,2075.1 730.6,2077.9 731.8,2080.7 732.7,2083.7 733.6,2090.0 734.4,2090.4 735.2,2096.9 736.0,2096.9 736.7,2099.6 737.4,2104.2 738.1,2110.1 738.9,2114.6 739.7,2114.1 740.5,2119.7 741.3,2122.3 742.2,2121.0 743.2,2126.5 745.4,2124.3 747.8,2121.9 750.2,2121.8 752.6,2121.4 755.2,2117.2 757.9,2115.5 760.7,2109.1 763.6,2108.7 765.9,2106.0 768.2,2104.3 770.6,2105.3 773.0,2101.1 775.5,2101.0 778.0,2096.0 780.6,2095.5 783.1,2092.2 785.6,2094.1 788.2,2088.6 790.6,2088.1 793.1,2085.7 795.5,2085.7 798.6,2089.4 801.9,2086.4 805.0,2089.1 808.2,2092.2 811.3,2090.7 814.3,2091.6 817.3,2096.4 820.1,2096.4 822.7,2097.5 826.0,2095.4 828.8,2092.2 831.3,2089.9 833.9,2091.4 836.6,2089.0 839.9,2090.5 843.3,2085.8 846.7,2088.5 850.1,2086.2 853.3,2086.2 855.9,2082.7 858.4,2081.5 860.8,2081.4 863.2,2078.6 865.7,2074.6 869.3,2075.2 873.1,2071.5 876.8,2072.1 880.3,2074.7 882.5,2073.2 884.7,2078.4 886.7,2080.3 888.7,2086.8 890.7,2085.6 891.8,2084.0 892.8,2083.3 893.8,2076.9 894.8,2077.1 895.8,2070.7 896.8,2065.8 897.9,2066.4 899.0,2061.4 901.9,2063.0 905.1,2060.0 908.3,2060.4 911.5,2060.7 914.7,2060.5 917.9,2063.4 921.1,2062.7 924.0,2064.3 924.6,2068.2 925.2,2071.5 925.8,2076.2 926.4,2079.1 926.9,2081.2 927.4,2084.5 927.9,2085.7 928.4,2089.4 928.8,2093.6 929.3,2098.5 929.7,2102.6 930.2,2103.3 930.5,2109.2 930.8,2109.9 931.0,2114.0 931.3,2115.6 931.5,2120.3 931.7,2122.0 931.9,2125.0 932.1,2128.3 932.4,2133.6 932.6,2138.2 932.8,2138.0 933.1,2143.1 933.3,2144.4 933.6,2148.1 933.9,2154.0 934.2,2156.0 934.5,2158.7 934.9,2162.2 935.2,2163.9 935.5,2168.1 935.8,2171.2 936.2,2172.8 936.5,2175.5 936.8,2178.6 937.1,2182.1 937.5,2189.0 937.8,2190.1 938.1,2193.6 938.4,2196.0 938.7,2198.3 939.0,2203.0 939.3,2204.8 939.7,2208.9 940.0,2213.8 940.3,2214.4 940.6,2218.7 940.9,2224.8 941.3,2224.8 941.6,2226.9 942.0,2229.7 942.4,2235.9 942.8,2237.2 943.2,2244.6 943.5,2243.4 943.9,2250.2 944.3,2249.3 944.7,2253.1 945.2,2257.7 945.6,2262.9 946.0,2263.1 946.4,2266.8 946.8,2268.7 947.5,2274.5 948.2,2280.3 948.9,2283.2 949.5,2287.7 950.2,2288.9 951.0,2294.3 951.7,2295.2 952.4,2299.2 953.1,2300.8 953.8,2297.2 954.5,2293.4 955.2,2293.4 955.9,2290.8 956.6,2281.6 957.3,2283.2 958.0,2277.2 958.7,2273.9 959.3,2268.4 959.5,2267.2 959.8,2266.9 960.0,2264.3 960.2,2256.4 960.4,2257.9 960.6,2251.6 960.8,2249.7 961.0,2247.3 961.2,2244.5 961.5,2242.3 961.6,2236.1 961.8,2232.8 962.0,2229.8 962.2,2224.1 962.4,2221.3 962.6,2222.4 962.8,2215.7 963.0,2214.3 963.2,2209.5 963.5,2207.6 963.8,2203.6 964.1,2195.4 964.4,2199.8 964.7,2193.2 965.1,2189.7 965.4,2189.4 965.7,2185.1 966.0,2179.3 966.3,2179.6 966.6,2176.1 967.0,2172.6 967.3,2167.7 967.6,2166.0 968.0,2161.5 968.4,2161.4 968.8,2154.6 969.2,2155.2 969.5,2148.1 969.9,2148.6 970.3,2145.7 970.8,2140.8 971.3,2137.2 971.8,2133.1 972.4,2133.1 973.0,2127.5 973.6,2127.3 974.3,2123.8 974.9,2121.1 975.6,2117.2 976.3,2114.9 977.0,2109.7 977.8,2108.1 978.5,2103.6 979.3,2101.9 980.1,2096.1 982.0,2093.0 984.1,2092.1 986.2,2087.2 988.4,2085.7 990.5,2082.7 992.6,2078.5 996.2,2078.6 999.7,2079.3 1003.0,2077.3 1004.4,2079.5 1005.7,2085.0 1006.9,2084.7 1008.1,2090.8 1009.2,2093.2 1009.7,2093.8 1010.1,2099.2 1010.5,2099.1 1011.0,2105.2 1011.4,2106.8 1011.8,2109.7 1012.2,2115.0 1012.6,2117.2 1013.0,2118.8 1013.3,2126.1 1013.6,2126.9 1013.9,2129.6 1014.1,2136.1 1014.4,2138.6 1014.6,2142.8 1014.9,2141.8 1015.1,2146.0 1015.3,2151.9 1015.6,2151.9 1015.8,2155.2 1016.0,2158.4 1016.2,2164.9 1016.5,2167.8 1016.6,2168.5 1016.8,2171.7 1017.0,2178.3 1017.2,2178.6 1017.3,2180.7 1017.5,2187.8 1017.6,2190.9 1017.8,2189.7 1017.9,2197.7 1018.1,2200.1 1018.2,2201.0 1018.4,2203.4 1018.5,2210.3 1018.7,2211.7 1018.9,2213.5 1019.0,2219.7 1019.2,2223.4 1019.3,2219.0 1019.5,2227.0 1019.7,2229.4 1019.8,2235.4 1020.0,2238.7 1020.1,2242.8 1020.3,2245.1 1020.5,2247.5 1020.6,2249.5 1020.9,2251.5 1021.1,2262.8 1021.3,2263.9 1021.5,2267.1 1021.7,2269.7 1022.0,2275.1 1022.2,2277.1 1022.4,2276.6 1022.7,2276.7 1022.9,2278.1 1023.1,2279.1 1023.3,2273.4 1023.5,2271.0 1023.7,2267.8 1023.9,2265.8 1024.1,2259.8 1024.3,2256.4 1024.5,2255.7 1024.7,2252.5 1024.9,2246.2 1025.1,2242.1 1025.3,2236.5 1025.5,2237.6 1025.6,2231.2 1025.8,2226.6 1025.9,2225.7 1026.0,2223.1 1026.2,2220.3 1026.3,2215.8 1026.4,2213.5 1026.5,2208.8 1026.5,2206.7 1026.6,2201.1 1026.7,2202.2 1026.8,2197.5 1026.9,2196.4 1027.0,2193.1 1027.1,2188.3 1027.2,2183.0 1027.3,2181.6 1027.4,2178.6 1027.5,2177.3 1027.6,2171.6 1027.8,2163.5 1027.9,2163.9 1028.2,2164.6 1028.5,2157.9 1028.8,2153.8 1029.1,2152.3 1029.4,2146.9 1029.7,2146.0 1030.1,2140.3 1030.4,2140.9 1030.7,2134.8 1031.1,2135.3 1031.4,2128.3 1031.7,2126.4 1032.1,2122.7 1032.6,2120.7 1033.2,2116.9 1033.8,2117.7 1034.3,2110.4 1034.9,2110.8 1035.6,2104.9 1036.2,2104.1 1036.7,2101.2 1037.2,2100.1 1037.7,2095.7 1038.2,2089.4 1038.8,2089.9 1039.3,2084.8 1039.9,2080.6 1040.4,2077.5 1041.1,2072.7 1041.7,2069.9 1042.5,2066.9 1045.3,2067.6 1048.5,2060.3 1051.8,2061.5 1054.9,2062.2 1057.6,2059.6 1060.0,2063.5 1062.6,2069.7 1065.3,2070.9 1068.1,2071.8 1071.1,2075.4 1074.1,2073.5 1077.1,2074.1 1079.9,2076.8 1081.7,2073.0 1083.4,2071.8 1085.0,2066.9 1086.6,2066.0 1088.4,2064.6 1090.3,2062.6 1093.4,2059.8 1096.8,2060.0 1100.2,2056.4 1103.7,2057.1 1106.9,2056.7 1109.5,2052.1 1111.9,2050.8 1114.3,2049.5 1116.9,2047.2 1120.0,2047.8 1121.3,2048.6 1122.7,2050.7 1124.1,2051.0 1125.5,2055.4 1127.0,2057.4 1128.5,2061.5 1130.0,2064.2 1131.6,2068.1 1133.1,2068.1 1134.7,2072.6 1136.3,2074.3 1137.9,2079.6 1139.4,2080.1 1141.0,2084.2 1142.5,2087.5 1144.0,2089.7 1145.5,2088.3 1147.8,2087.7 1150.1,2088.3 1152.3,2087.1 1154.5,2082.6 1156.8,2080.3 1159.0,2078.1 1161.2,2075.2 1163.5,2072.3 1165.8,2069.7 1168.2,2070.7 1170.8,2067.9 1173.5,2066.1 1176.2,2065.8 1178.9,2059.1 1181.6,2061.2 1184.4,2061.2 1187.2,2058.2 1190.0,2058.8 1192.7,2056.5 1195.5,2054.5 1198.5,2056.3 1201.6,2053.1 1204.7,2056.1 1207.9,2059.2 1211.0,2057.8 1214.0,2059.3 1217.0,2058.0 1219.9,2064.2 1222.7,2063.8 1224.8,2065.0 1226.8,2069.7 1228.8,2071.1 1230.7,2074.0 1232.5,2075.7 1234.3,2079.3 1236.0,2081.0 1237.7,2086.0 1239.3,2086.1 1240.9,2091.4 1241.8,2091.3 1242.6,2095.2 1243.4,2098.2 1244.2,2102.1 1244.9,2106.0 1245.5,2109.9 1246.2,2114.9 1246.9,2117.4 1247.5,2120.7 1248.1,2124.2 1248.7,2126.3 1249.4,2128.9 1250.0,2130.7 1250.8,2137.0 1251.6,2141.5 1252.3,2144.3 1253.0,2144.3 1253.8,2150.6 1254.5,2150.7 1255.2,2156.4 1256.0,2157.3 1256.8,2161.1 1257.7,2158.3 1258.7,2156.6 1259.6,2149.6 1260.5,2149.4 1261.5,2147.1 1262.5,2140.9 1263.6,2135.8 1264.7,2135.5 1265.9,2132.0 1268.8,2131.8 1271.9,2127.7 1275.2,2131.0 1278.5,2130.5 1281.8,2126.8 1283.3,2122.7 1284.7,2121.2 1286.2,2121.9 1287.7,2120.2 1289.2,2114.5 1290.7,2113.4 1292.2,2112.2 1293.7,2107.4 1295.2,2102.1 1296.8,2099.6 1298.4,2096.9 1300.0,2097.3 1301.7,2090.3 1303.4,2091.2 1305.1,2089.5 1306.9,2084.5 1308.7,2079.9 1310.5,2075.1 1312.3,2077.3 1314.1,2075.8 1315.8,2071.5 1317.6,2068.7 1319.4,2063.4 1321.1,2062.4 1322.7,2057.7 1324.9,2060.0 1327.0,2062.8 1329.0,2067.7 1331.0,2067.5 1333.0,2075.2 1334.9,2078.1 1336.9,2079.9 1338.9,2082.6 1340.9,2085.1 1343.9,2084.3 1346.8,2087.2 1349.7,2087.5 1352.6,2089.2 1355.7,2088.2 1359.1,2089.3 1361.2,2087.8 1363.3,2084.7 1365.5,2084.7 1367.8,2082.8 1370.1,2080.0 1372.4,2077.5 1374.7,2074.0 1377.1,2074.9 1379.4,2069.2 1381.8,2065.7 1384.1,2064.5 1386.4,2062.3 1388.8,2062.5 1391.3,2061.4 1393.8,2057.0 1396.3,2054.4 1398.8,2056.5 1401.2,2049.6 1403.7,2046.5 1406.2,2045.7 1408.7,2043.2 1411.2,2044.5 1413.6,2041.2 1416.7,2041.9 1419.7,2040.4 1422.7,2039.8 1425.8,2036.2 1428.8,2036.2 1431.8,2035.1 1434.8,2034.1 1437.9,2031.9 1440.9,2031.4 1443.7,2029.4 1446.5,2027.2 1449.4,2027.3 1452.3,2024.6 1455.2,2023.9 1458.1,2022.8 1460.8,2022.9 1463.4,2020.0 1465.9,2017.0 1468.2,2018.5 1470.3,2020.5 1471.8,2020.2 1473.1,2027.7 1474.2,2026.9 1475.6,2029.5 1477.3,2033.1 1480.0,2033.2 1482.9,2033.8 1486.0,2037.3 1489.2,2034.9 1492.4,2035.6 1495.5,2037.3 1497.5,2041.5 1499.6,2043.8 1501.8,2046.5 1503.9,2044.2 1506.0,2046.3 1508.1,2051.2 1510.1,2054.6 1511.9,2058.4 1513.6,2058.4 1514.2,2062.3 1514.8,2063.1 1515.3,2068.1 1515.8,2071.7 1516.3,2072.6 1516.7,2074.3 1517.1,2077.5 1517.5,2082.7 1517.8,2084.9 1518.2,2087.7 1518.6,2093.8 1518.9,2096.4 1519.3,2098.1 1519.6,2104.1 1520.0,2105.0 1520.5,2108.6 1520.7,2112.4 1521.0,2114.6 1521.3,2116.6 1521.6,2118.7 1521.9,2124.7 1522.1,2126.3 1522.4,2132.9 1522.7,2133.9 1523.0,2139.1 1523.2,2142.6 1523.5,2143.3 1523.8,2149.7 1524.1,2154.7 1524.3,2156.4 1524.6,2159.0 1524.9,2161.9 1525.2,2164.3 1525.5,2167.4 1525.8,2173.5 1526.1,2175.2 1526.4,2177.0 1526.7,2177.1 1527.0,2181.7 1527.3,2181.6 1527.8,2183.0 1528.3,2176.7 1528.9,2174.8 1529.4,2176.4 1530.0,2169.8 1530.6,2166.3 1531.2,2163.2 1531.7,2160.1 1532.3,2159.8 1532.9,2155.0 1533.5,2149.8 1534.1,2144.6 1534.6,2140.3 1535.2,2139.0 1535.8,2135.5 1536.4,2130.8 1536.9,2128.3 1537.4,2127.0 1537.8,2121.7 1538.3,2121.0 1538.8,2116.3 1539.3,2109.8 1539.8,2109.1 1540.3,2107.0 1540.7,2104.6 1541.2,2099.3 1541.7,2096.8 1542.2,2093.4 1542.7,2090.9 1543.3,2090.0 1543.8,2087.8 1544.3,2083.2 1544.9,2082.2 1545.5,2079.1 1546.6,2075.2 1547.7,2069.4 1548.8,2067.1 1550.0,2063.6 1551.2,2060.4 1552.4,2059.4 1553.6,2056.2 1554.9,2053.1 1556.2,2050.8 1557.6,2048.2 1559.1,2041.0 1561.7,2042.3 1564.5,2038.4 1567.4,2042.6 1570.4,2035.2 1573.4,2034.5 1576.3,2031.5 1579.1,2032.7 1581.8,2031.0 1584.3,2034.1 1586.7,2036.1 1588.9,2033.3 1591.1,2040.9 1593.3,2043.8 1595.5,2044.3 1597.7,2047.5 1600.4,2049.1 1603.0,2053.2 1605.6,2057.1 1608.2,2059.8 1610.9,2060.9 1613.6,2061.6 1616.7,2061.6 1619.8,2062.8 1623.0,2062.9 1626.2,2060.4 1629.1,2061.3 1631.8,2058.9 1633.5,2055.9 1634.9,2053.5 1636.2,2048.7 1637.4,2047.9 1638.6,2044.0 1640.0,2040.4 1642.0,2037.6 1644.0,2035.1 1646.1,2032.9 1648.3,2029.6 1650.6,2030.3 1653.6,2034.3 1656.8,2031.5 1660.1,2033.8 1663.4,2037.5 1666.6,2038.1 1669.2,2035.2 1671.8,2034.1 1674.4,2031.2 1677.0,2029.0 1679.7,2028.9 1682.6,2026.6 1685.5,2024.3 1688.5,2022.4 1691.6,2020.0 1694.8,2020.9 1697.9,2021.5 1700.9,2018.3 1703.8,2022.1 1707.3,2018.3 1710.6,2020.2 1713.7,2022.8 1716.8,2021.0 1719.8,2023.8 1723.0,2019.0 1726.1,2016.9 1729.0,2015.3 1731.8,2014.5 1732.6,2017.5 1733.4,2015.7 1734.1,2022.3 1734.8,2024.9 1735.5,2025.9 1736.2,2033.2 1736.9,2036.8 1737.6,2038.6 1738.3,2042.8 1739.0,2042.6 1739.8,2048.0 1741.6,2046.2 1743.4,2041.5 1745.3,2041.8 1747.1,2036.7 1749.1,2033.1 1752.6,2031.2 1756.3,2033.5 1759.7,2036.7 1761.9,2038.7 1764.0,2035.0 1766.0,2029.9 1767.7,2034.7 1767.9,2039.1 1768.0,2052.1 1768.2,2055.8 1768.3,2047.8 1768.4,2059.3 1768.5,2058.0 1768.6,2071.4 1768.7,2069.4 1768.8,2063.3 1768.8,2081.1 1768.9,2084.7 1769.0,2088.0 1769.0,2086.3 1769.1,2081.5 1769.2,2088.6 1769.2,2096.6 1769.3,2104.5 1769.4,2102.1 1769.6,2091.6 1769.7,2105.7 1769.9,2096.7 1770.0,2096.4 1770.2,2090.8 1770.3,2079.3 1770.5,2076.8 1770.6,2075.3 1770.8,2069.4 1771.0,2083.1 1771.1,2069.1 1771.3,2063.8 1771.5,2060.6 1771.7,2052.0 1771.9,2061.0 1772.2,2055.7 1772.4,2069.7 1772.7,2051.2 1773.0,2046.8 1776.3,2032.2 1780.1,2046.1 1783.7,2043.2 1786.4,2047.0 1789.0,2051.6 1791.6,2044.0 1792.4,2058.0 1793.1,2053.6 1793.8,2067.7 1794.5,2060.0 1795.3,2056.7 1796.0,2068.6 1796.7,2068.2 1797.4,2081.6 1798.2,2072.2 1798.9,2089.9 1799.6,2087.3 1800.3,2077.7 1801.1,2070.2 1801.8,2070.9 1802.6,2078.0 1803.3,2066.6 1804.0,2069.0 1804.8,2070.2 1805.5,2057.8 1806.2,2059.7 1806.9,2043.0 1807.6,2040.9 1809.3,2047.1 1811.0,2045.9 1812.6,2046.7 1814.2,2028.0 1817.8,2030.2 1820.9,2030.0" fill="none" stroke="#000" stroke-width="18.5" stroke-linejoin="round" stroke-linecap="butt" />
<polyline points="540.9,2135.2 543.2,2138.4 545.8,2133.5 548.5,2137.5 551.4,2136.6 554.5,2134.2 557.7,2133.0 561.0,2137.0 564.4,2136.5 567.8,2131.9 571.2,2135.2 574.7,2132.4 578.1,2133.5 581.4,2134.6 584.7,2130.8 587.9,2132.0 590.9,2133.5 594.3,2129.9 597.6,2130.0 600.9,2130.0 604.2,2130.9 607.4,2131.3 610.6,2132.9 613.8,2131.9 616.9,2130.5 620.0,2127.6 623.0,2132.1 626.0,2127.4 629.0,2128.6 631.8,2128.3 635.2,2130.5 638.5,2129.9 641.6,2133.4 644.7,2134.2 647.6,2133.8 650.5,2131.5 653.4,2133.7 656.2,2137.2 659.1,2134.4 662.5,2138.7 665.9,2135.0 669.2,2136.1 672.4,2138.6 675.6,2138.2 678.7,2137.9 681.8,2136.2 684.2,2142.6 686.6,2141.6 689.0,2145.4 691.2,2145.9 693.5,2148.4 695.7,2150.5 697.9,2150.7 700.0,2155.4 701.3,2155.9 702.6,2157.6 703.9,2157.1 705.2,2165.0 706.4,2170.7 707.6,2170.4 708.8,2172.3 710.0,2178.8 711.2,2181.3 712.4,2181.8 713.6,2186.5 714.8,2190.9 715.9,2189.8 717.1,2193.3 718.3,2200.1 719.5,2203.7 720.6,2204.6 721.8,2209.5 722.9,2209.4 724.1,2212.5 725.2,2218.9 726.2,2220.3 727.3,2220.5 728.1,2227.3 728.9,2231.4 729.6,2230.0 730.3,2235.5 731.0,2244.9 731.6,2241.6 732.3,2245.0 733.0,2248.5 733.8,2251.6 734.6,2255.0 735.4,2259.0 736.4,2261.7 738.7,2256.6 741.2,2261.7 743.8,2254.2 746.5,2253.6 749.2,2250.8 751.9,2247.8 754.5,2243.9 757.6,2246.1 760.6,2243.1 763.6,2248.8 766.7,2242.2 769.7,2244.3 772.7,2243.0 775.0,2237.4 777.2,2237.8 779.4,2235.5 781.6,2229.2 783.9,2226.1 786.2,2226.3 788.5,2223.8 790.9,2220.3 793.4,2222.9 796.0,2227.4 798.6,2226.9 801.4,2231.6 804.1,2232.0 806.7,2235.0 809.2,2238.2 811.5,2240.0 813.6,2242.3 817.1,2241.7 820.0,2236.5 822.6,2234.7 825.6,2230.7 828.7,2228.6 831.7,2229.2 834.6,2228.5 836.4,2228.6 838.2,2234.6 839.8,2237.4 841.5,2239.7 843.2,2243.2 844.9,2245.2 847.4,2244.8 850.0,2244.5 852.6,2242.4 855.1,2235.5 857.4,2235.3 858.5,2234.9 859.4,2226.9 860.4,2231.8 861.3,2221.3 862.2,2219.2 863.1,2214.2 863.9,2214.9 864.8,2211.2 865.7,2209.5 867.8,2206.5 869.8,2201.8 871.9,2200.1 874.1,2197.5 876.1,2191.4 878.1,2191.6 880.2,2186.5 882.4,2188.0 884.4,2182.4 886.5,2181.4 888.4,2177.1 890.4,2175.9 892.5,2170.0 894.8,2168.3 897.5,2172.0 900.4,2171.3 903.4,2171.8 906.3,2174.2 909.1,2178.4 911.5,2180.8 912.3,2180.6 912.9,2180.6 913.4,2185.8 913.9,2191.4 914.2,2194.8 914.6,2199.5 914.9,2198.3 915.2,2204.7 915.6,2213.4 915.9,2213.2 916.1,2214.8 916.4,2216.9 916.6,2221.9 916.9,2225.0 917.1,2228.3 917.3,2230.4 917.6,2233.5 917.8,2235.1 918.0,2238.5 918.3,2244.9 918.5,2248.2 918.8,2251.6 919.0,2254.7 919.2,2255.0 919.5,2257.0 919.7,2260.1 919.9,2264.2 920.2,2268.1 920.4,2274.1 920.6,2274.3 920.9,2278.3 921.1,2281.7 921.4,2285.5 921.6,2287.6 921.9,2289.1 922.2,2295.2 922.5,2299.2 922.8,2300.2 923.1,2302.8 923.4,2308.5 923.7,2308.5 924.0,2314.8 924.3,2315.9 924.6,2320.1 925.0,2321.4 925.3,2328.8 925.7,2327.9 926.0,2331.7 926.4,2331.1 926.9,2336.5 927.3,2340.8 927.7,2345.0 928.2,2348.1 928.6,2353.0 929.1,2354.6 929.5,2358.5 930.0,2360.2 930.4,2362.3 930.9,2363.2 931.4,2369.3 931.8,2369.2 932.3,2373.1 932.8,2375.4 933.3,2382.6 933.9,2384.6 934.4,2386.5 934.9,2388.8 935.5,2396.3 936.0,2399.5 936.5,2398.2 937.0,2405.2 937.5,2406.8 938.0,2408.7 938.5,2413.9 939.4,2413.8 940.2,2419.1 941.0,2425.3 941.8,2425.1 942.7,2424.6 943.2,2426.7 943.8,2423.3 944.4,2417.4 945.1,2417.7 945.7,2412.0 946.3,2411.5 947.0,2404.2 947.6,2403.1 948.3,2400.4 948.9,2393.5 949.2,2390.4 949.5,2392.0 949.8,2385.0 950.1,2382.4 950.5,2380.8 950.8,2378.6 951.1,2373.1 951.4,2371.6 951.7,2369.7 952.0,2363.6 952.3,2361.8 952.6,2356.5 953.0,2352.7 953.3,2354.2 953.6,2349.1 953.9,2344.5 954.2,2339.6 954.5,2338.8 954.8,2336.4 955.1,2332.0 955.4,2328.0 955.8,2323.7 956.1,2325.5 956.4,2322.4 956.7,2316.6 957.0,2311.7 957.3,2308.3 957.6,2308.2 957.9,2305.0 958.2,2301.9 958.5,2297.8 958.8,2292.5 959.1,2291.8 959.4,2287.9 959.7,2282.0 960.0,2283.2 960.4,2276.7 960.7,2274.6 961.0,2272.5 961.4,2270.6 962.1,2264.1 962.9,2267.4 963.7,2259.9 964.5,2256.8 965.3,2254.1 966.1,2249.0 967.0,2246.3 967.8,2243.1 968.7,2241.6 969.7,2239.9 971.4,2236.1 973.1,2231.6 974.9,2232.0 976.8,2225.0 978.6,2222.1 980.4,2220.8 982.2,2220.3 984.9,2218.1 987.5,2218.8 990.1,2214.7 992.6,2215.0 995.5,2213.2 998.3,2214.6 1000.9,2219.5 1001.4,2221.6 1002.0,2224.5 1002.5,2229.2 1002.9,2232.8 1003.4,2235.6 1003.8,2239.5 1004.2,2241.3 1004.6,2246.1 1005.0,2250.6 1005.3,2255.0 1005.5,2253.2 1005.8,2257.5 1006.0,2262.3 1006.3,2266.1 1006.5,2268.5 1006.7,2271.9 1007.0,2273.8 1007.2,2275.8 1007.4,2279.9 1007.7,2283.2 1007.9,2286.2 1008.1,2293.2 1008.4,2292.5 1008.6,2295.9 1008.9,2302.4 1009.1,2302.0 1009.3,2305.8 1009.6,2306.5 1009.8,2315.3 1010.1,2314.4 1010.3,2317.4 1010.5,2324.4 1010.8,2328.8 1011.0,2329.9 1011.3,2335.5 1011.5,2338.3 1011.8,2340.1 1012.0,2344.2 1012.2,2348.3 1012.5,2348.8 1012.7,2352.5 1013.0,2357.6 1013.2,2359.9 1013.5,2365.3 1013.7,2365.1 1013.9,2365.0 1014.2,2372.5 1014.4,2373.8 1015.1,2380.0 1015.7,2385.3 1016.5,2382.0 1016.6,2382.6 1016.8,2381.2 1017.0,2375.9 1017.2,2372.9 1017.3,2369.9 1017.5,2371.3 1017.7,2364.1 1017.9,2364.2 1018.1,2360.8 1018.3,2355.7 1018.5,2350.4 1018.6,2349.7 1018.8,2347.2 1019.0,2342.5 1019.2,2338.8 1019.4,2335.6 1019.6,2332.5 1019.7,2331.0 1019.9,2328.3 1020.1,2321.9 1020.2,2320.9 1020.4,2317.1 1020.5,2315.3 1020.7,2311.8 1020.8,2307.3 1021.0,2303.3 1021.1,2299.8 1021.3,2299.3 1021.5,2293.8 1021.6,2291.8 1021.8,2289.3 1021.9,2286.9 1022.1,2279.1 1022.2,2280.7 1022.4,2275.4 1022.5,2272.9 1022.7,2269.2 1023.0,2268.2 1023.3,2264.5 1023.6,2261.5 1023.9,2256.0 1024.2,2252.5 1024.5,2252.3 1024.8,2247.4 1025.2,2246.1 1025.5,2242.7 1025.8,2239.1 1026.2,2237.4 1026.6,2232.5 1027.0,2231.6 1027.4,2227.3 1027.9,2225.4 1028.3,2220.7 1028.7,2214.7 1029.1,2213.2 1029.6,2210.9 1030.0,2209.3 1030.5,2204.3 1031.0,2198.9 1031.4,2197.6 1031.9,2194.1 1032.5,2192.9 1033.2,2189.3 1034.1,2184.6 1036.7,2189.4 1039.6,2184.9 1042.7,2180.1 1045.8,2183.8 1048.7,2179.0 1051.4,2180.5 1054.0,2186.1 1056.5,2186.1 1059.1,2188.7 1061.5,2193.9 1064.0,2196.9 1066.6,2197.6 1069.1,2203.0 1071.6,2201.3 1073.3,2201.3 1075.1,2200.3 1076.8,2194.5 1078.4,2194.7 1080.2,2192.1 1082.0,2186.8 1085.0,2183.4 1088.0,2186.8 1091.2,2185.7 1094.4,2181.9 1096.8,2178.6 1099.3,2176.2 1101.8,2173.9 1104.2,2174.3 1106.7,2172.3 1109.0,2169.6 1111.8,2173.0 1114.4,2174.5 1117.1,2174.2 1120.0,2178.9 1121.5,2178.4 1123.1,2179.5 1124.7,2183.5 1126.4,2187.3 1128.1,2190.9 1129.8,2195.1 1131.5,2195.4 1133.1,2199.3 1134.8,2204.8 1136.4,2204.5 1138.7,2203.2 1140.8,2201.7 1142.9,2198.0 1145.1,2197.9 1147.4,2195.4 1150.0,2188.5 1153.0,2190.4 1156.1,2187.7 1159.4,2189.7 1162.7,2186.7 1166.1,2185.9 1169.4,2184.1 1172.7,2187.9 1176.0,2186.6 1179.2,2190.1 1182.5,2190.0 1185.7,2188.5 1189.0,2190.5 1192.2,2189.7 1195.5,2195.2 1198.0,2194.7 1200.6,2196.8 1203.2,2203.3 1205.9,2198.0 1208.5,2200.9 1211.0,2204.0 1213.5,2203.1 1215.9,2206.9 1218.2,2206.5 1219.6,2210.7 1221.0,2214.4 1222.4,2217.3 1223.7,2220.0 1224.9,2220.7 1226.1,2226.4 1227.3,2230.0 1228.4,2230.0 1229.6,2234.0 1230.7,2240.1 1231.8,2244.1 1233.0,2242.8 1234.0,2249.3 1235.1,2252.4 1236.1,2252.3 1237.1,2254.8 1238.1,2258.1 1239.0,2261.6 1240.0,2266.4 1240.9,2267.4 1242.1,2272.3 1243.2,2278.2 1244.3,2276.8 1245.4,2284.0 1246.5,2286.4 1247.7,2285.5 1248.8,2286.1 1249.8,2282.2 1250.9,2276.6 1251.9,2276.9 1253.0,2273.5 1254.2,2268.4 1255.5,2267.9 1256.8,2264.1 1259.2,2262.9 1261.8,2266.3 1264.4,2267.4 1267.2,2272.8 1269.9,2270.6 1272.7,2273.8 1274.7,2272.4 1276.7,2267.5 1278.7,2265.8 1280.7,2262.4 1282.8,2260.7 1284.8,2256.7 1286.8,2253.5 1288.9,2251.0 1290.9,2248.1 1292.4,2252.7 1293.9,2244.9 1295.5,2243.4 1297.0,2238.2 1298.5,2237.5 1300.0,2233.6 1301.5,2228.1 1303.0,2229.7 1304.5,2226.1 1306.1,2220.0 1307.6,2220.2 1309.1,2216.1 1312.1,2214.6 1315.2,2221.0 1318.2,2213.4 1321.2,2214.2 1324.2,2215.4 1327.3,2212.7 1330.3,2213.9 1333.3,2216.2 1336.4,2215.7 1339.4,2215.0 1342.4,2216.8 1345.5,2211.6 1347.3,2211.5 1349.0,2210.4 1350.8,2206.1 1352.6,2202.2 1354.4,2198.5 1356.2,2196.2 1358.0,2195.8 1359.8,2189.7 1361.7,2189.6 1363.6,2185.5 1365.8,2184.9 1368.0,2182.6 1370.2,2174.5 1372.4,2179.3 1374.7,2174.3 1376.9,2175.1 1379.3,2174.1 1381.6,2167.4 1384.0,2169.0 1386.4,2161.7 1389.0,2166.2 1391.6,2162.2 1394.3,2161.6 1397.1,2158.0 1399.8,2157.9 1402.6,2157.9 1405.4,2154.3 1408.1,2155.2 1410.9,2153.7 1413.6,2149.8 1416.7,2148.8 1419.8,2148.5 1422.9,2148.2 1426.1,2149.5 1429.2,2150.0 1432.2,2148.6 1435.2,2146.3 1438.1,2144.0 1440.9,2146.1 1443.8,2143.3 1446.5,2142.4 1449.1,2144.7 1451.6,2139.1 1454.1,2138.4 1456.5,2133.3 1459.1,2135.4 1461.1,2133.4 1463.1,2133.5 1465.2,2141.7 1467.2,2142.2 1469.2,2145.3 1471.2,2143.0 1473.2,2151.0 1475.3,2152.8 1477.3,2154.6 1480.3,2158.6 1483.4,2157.3 1486.5,2156.3 1489.6,2160.4 1492.6,2162.5 1495.5,2166.0 1496.8,2163.8 1498.2,2167.3 1499.5,2171.9 1500.8,2173.8 1502.1,2178.5 1503.3,2178.4 1504.5,2182.6 1505.7,2184.5 1506.9,2191.3 1508.0,2192.2 1509.1,2195.8 1509.6,2196.6 1510.1,2203.3 1510.6,2209.2 1511.1,2205.3 1511.6,2207.9 1512.0,2211.2 1512.4,2215.9 1512.8,2219.8 1513.2,2220.7 1513.6,2226.9 1514.0,2227.7 1514.4,2229.5 1514.8,2237.1 1515.2,2240.4 1515.5,2242.9 1515.9,2245.1 1516.1,2247.0 1516.4,2249.1 1516.6,2254.8 1516.8,2258.8 1517.0,2260.7 1517.2,2265.0 1517.4,2268.2 1517.6,2274.4 1517.8,2278.1 1518.0,2285.0 1518.2,2285.3 1518.4,2284.5 1518.6,2289.6 1518.8,2291.5 1519.0,2297.8 1519.2,2299.2 1519.4,2307.6 1519.6,2304.5 1519.8,2307.0 1520.0,2310.5 1520.2,2313.6 1520.5,2315.6 1520.8,2310.6 1521.1,2313.3 1521.5,2307.6 1521.8,2308.2 1522.1,2303.5 1522.5,2299.8 1522.8,2296.7 1523.2,2297.0 1523.5,2290.9 1523.9,2289.8 1524.3,2284.2 1524.6,2279.5 1525.0,2275.6 1525.5,2273.9 1525.9,2266.9 1526.3,2267.4 1526.8,2264.9 1527.3,2256.7 1527.8,2254.3 1528.4,2253.8 1529.0,2251.8 1529.6,2247.4 1530.2,2243.3 1530.9,2242.0 1531.5,2237.2 1532.2,2235.4 1532.8,2229.7 1533.5,2228.0 1534.2,2227.4 1534.9,2220.7 1535.5,2217.0 1536.2,2213.2 1536.9,2211.0 1537.6,2209.9 1538.3,2207.5 1538.9,2204.8 1539.6,2200.5 1540.3,2197.2 1540.9,2195.5 1542.1,2191.1 1543.4,2190.2 1544.6,2184.6 1545.8,2182.1 1547.0,2180.5 1548.2,2174.1 1549.4,2173.8 1550.6,2173.2 1551.9,2169.8 1553.2,2164.6 1554.5,2161.7 1557.0,2160.8 1559.6,2155.9 1562.3,2150.8 1565.0,2155.6 1567.7,2150.9 1570.2,2150.4 1572.7,2150.6 1574.8,2152.1 1576.7,2155.7 1578.6,2157.8 1580.5,2157.1 1582.3,2163.2 1584.3,2164.7 1586.4,2166.2 1588.5,2170.4 1590.7,2175.2 1593.0,2174.9 1595.3,2178.4 1597.6,2183.3 1599.9,2184.5 1602.3,2187.2 1604.5,2184.4 1607.1,2184.3 1609.8,2186.0 1612.4,2180.7 1615.0,2179.9 1617.6,2177.5 1620.2,2175.2 1622.7,2172.5 1625.7,2172.5 1628.7,2168.5 1631.6,2169.1 1634.6,2167.0 1637.4,2160.4 1640.0,2159.0 1642.9,2159.6 1645.4,2154.4 1647.8,2156.7 1650.6,2152.1 1653.6,2153.2 1656.8,2146.5 1660.1,2148.3 1663.4,2144.0 1666.6,2144.8 1669.7,2141.6 1672.8,2143.3 1675.9,2142.9 1679.2,2142.0 1682.6,2142.2 1685.5,2138.6 1688.6,2138.7 1691.7,2138.8 1694.9,2142.4 1698.0,2138.9 1701.0,2141.3 1703.8,2144.0 1706.9,2146.4 1709.7,2144.7 1712.3,2148.8 1714.8,2152.8 1717.1,2153.9 1719.3,2157.6 1721.2,2157.1 1723.1,2160.4 1725.1,2162.6 1727.7,2162.4 1730.3,2160.8 1733.1,2155.0 1735.8,2155.0 1739.4,2152.8 1743.0,2154.8 1746.4,2153.0 1748.6,2154.7 1750.6,2157.9 1752.5,2160.0 1754.4,2165.9 1755.1,2162.5 1755.8,2159.7 1756.5,2158.6 1757.2,2151.6 1757.8,2147.8 1758.4,2142.5 1759.1,2138.6 1759.7,2136.9 1760.5,2140.1 1761.2,2128.9 1761.9,2128.5 1762.6,2123.4 1763.4,2123.3 1764.2,2122.7 1765.0,2122.4 1767.4,2111.5 1769.9,2116.8 1773.0,2106.5 1776.0,2121.7 1779.3,2110.6 1782.7,2107.2 1786.0,2134.6 1789.0,2111.3 1791.3,2108.6 1793.2,2122.7 1795.0,2116.0 1797.0,2129.9 1797.8,2126.6 1798.7,2144.3 1799.5,2132.7 1800.4,2139.1 1801.4,2143.8 1802.3,2152.7 1803.2,2147.4 1804.1,2155.7 1805.0,2156.4 1805.9,2164.3 1806.8,2168.4 1807.6,2172.9 1808.5,2169.9 1809.3,2170.5 1810.2,2154.8 1811.0,2149.5 1811.8,2143.4 1812.6,2153.4 1813.4,2144.8 1814.1,2134.8 1814.9,2138.2 1815.6,2142.5 1817.6,2133.0 1819.4,2124.6 1820.9,2126.8" fill="none" stroke="#000" stroke-width="18.5" stroke-linejoin="round" stroke-linecap="butt" />
<polyline points="520.5,2263.9 520.6,2263.0 520.8,2258.1 520.9,2256.5 521.2,2253.7 521.8,2248.0 522.7,2247.4 525.0,2241.6 527.4,2243.7 530.0,2239.9 533.1,2240.0 536.7,2238.3 540.9,2243.4 543.5,2236.7 546.2,2238.0 549.1,2237.6 552.0,2237.2 555.0,2235.0 558.1,2234.5 561.3,2237.4 564.5,2238.4 567.8,2235.0 571.1,2235.3 574.4,2236.8 577.8,2234.9 581.1,2236.3 584.4,2230.1 587.7,2233.9 590.9,2233.6 593.9,2233.3 597.0,2229.7 600.1,2233.7 603.2,2233.3 606.4,2232.1 609.6,2233.0 612.8,2232.4 616.0,2237.0 619.2,2236.6 622.4,2234.5 625.5,2236.2 628.6,2235.5 631.6,2233.0 634.6,2236.0 637.4,2237.0 640.2,2236.4 642.9,2234.7 645.5,2236.9 649.2,2236.1 652.5,2240.9 655.4,2242.9 658.0,2241.5 660.5,2245.6 662.9,2246.7 665.5,2247.9 668.2,2247.9 671.5,2250.9 674.8,2251.2 678.2,2252.0 681.6,2248.8 684.8,2252.9 687.9,2252.0 690.9,2252.0 692.9,2254.8 694.7,2257.8 696.4,2262.8 698.1,2266.2 699.7,2269.1 701.3,2268.5 702.9,2276.4 704.5,2274.8 705.7,2277.9 706.8,2282.3 708.0,2284.9 709.2,2289.8 710.4,2290.9 711.5,2293.4 712.7,2295.2 713.8,2299.7 715.0,2302.6 716.1,2308.0 717.1,2308.5 718.2,2315.0 718.9,2314.6 719.5,2318.6 720.2,2321.2 720.8,2327.4 721.4,2331.2 722.0,2330.2 722.6,2335.7 723.2,2338.9 723.8,2341.9 724.3,2344.3 724.9,2350.6 725.5,2350.3 726.1,2354.1 726.7,2356.1 727.3,2360.4 729.0,2361.0 730.6,2365.0 732.3,2366.6 734.2,2371.5 736.4,2373.9 739.0,2372.8 741.8,2369.5 744.8,2370.5 747.9,2369.5 751.1,2368.5 754.5,2364.5 757.3,2367.1 760.2,2362.5 763.2,2364.4 766.3,2362.0 769.4,2363.0 772.5,2361.4 775.7,2357.6 778.8,2360.9 781.8,2358.5 784.9,2361.1 788.1,2357.9 791.3,2358.7 794.5,2363.9 797.6,2364.8 800.7,2364.6 803.7,2366.0 806.5,2367.3 809.1,2364.3 811.5,2364.3 813.4,2361.2 815.1,2357.3 816.7,2353.8 818.2,2354.2 820.0,2348.8 823.1,2351.5 826.3,2346.6 829.4,2348.2 832.5,2344.9 836.1,2341.9 839.5,2341.0 842.9,2339.1 844.3,2339.4 845.7,2335.1 847.0,2335.4 848.4,2329.9 849.7,2325.2 851.2,2321.9 852.4,2323.1 853.7,2321.0 854.9,2317.6 856.2,2313.2 857.5,2310.3 858.9,2308.6 860.2,2303.2 861.6,2300.3 864.7,2299.6 868.0,2297.9 871.2,2300.7 874.1,2300.6 875.1,2299.3 876.1,2307.4 876.9,2311.4 877.7,2311.6 878.5,2316.2 879.4,2317.6 880.3,2324.6 880.9,2320.3 881.6,2313.7 882.2,2313.5 882.8,2308.9 883.5,2306.1 884.1,2303.3 884.8,2299.8 885.5,2294.1 886.2,2294.6 887.0,2288.9 887.8,2285.9 888.6,2285.1 891.4,2282.7 894.5,2284.3 897.6,2286.5 900.6,2288.6 903.2,2290.5 904.1,2294.6 904.8,2296.5 905.4,2297.5 905.9,2299.6 906.4,2302.5 906.8,2305.9 907.3,2313.3 907.6,2317.1 907.8,2318.6 908.1,2318.0 908.3,2324.6 908.6,2325.8 908.8,2327.8 909.0,2328.4 909.3,2335.9 909.5,2341.3 909.7,2345.8 910.0,2346.7 910.2,2350.9 910.4,2351.5 910.7,2355.9 910.9,2360.4 911.1,2364.8 911.4,2365.7 911.6,2367.4 911.8,2370.5 912.1,2376.5 912.3,2381.0 912.5,2380.7 912.8,2386.9 913.0,2391.2 913.3,2393.3 913.6,2396.3 913.9,2400.6 914.1,2401.5 914.4,2404.5 914.7,2408.7 915.1,2412.8 915.4,2413.6 915.7,2419.9 916.0,2419.5 916.3,2421.4 916.7,2426.6 917.0,2427.8 917.4,2435.1 917.7,2436.3 918.1,2437.5 918.5,2441.2 919.0,2446.9 919.4,2447.1 919.8,2449.8 920.3,2452.8 920.8,2459.5 921.2,2460.0 921.7,2465.8 922.1,2468.0 922.6,2471.6 923.0,2472.5 923.5,2476.4 924.0,2480.7 924.7,2480.4 925.5,2487.5 926.3,2490.5 927.0,2489.6 927.8,2497.0 928.6,2497.9 929.4,2500.2 930.2,2503.0 931.6,2507.0 933.1,2514.3 934.5,2515.1 936.0,2518.1 937.5,2518.5 938.0,2517.2 938.5,2517.2 939.0,2514.5 939.6,2511.1 940.1,2509.8 940.6,2502.4 941.1,2502.8 941.7,2497.5 942.2,2494.8 942.7,2490.7 943.2,2488.6 943.7,2486.9 944.2,2479.1 944.7,2479.7 945.1,2476.9 945.4,2470.3 945.7,2470.5 946.0,2466.8 946.3,2465.4 946.6,2459.2 946.9,2457.0 947.2,2451.1 947.5,2448.4 947.8,2448.3 948.1,2441.6 948.4,2440.5 948.7,2439.3 949.0,2432.2 949.3,2432.8 949.7,2427.2 950.0,2423.0 950.3,2420.5 950.6,2417.8 951.0,2414.6 951.5,2414.5 952.1,2408.5 952.7,2407.8 953.2,2404.4 953.8,2401.7 954.4,2398.5 955.0,2392.7 955.6,2392.0 956.2,2385.8 956.8,2385.2 957.4,2382.6 958.0,2378.4 958.7,2377.4 959.3,2373.1 960.7,2369.6 962.2,2369.5 963.7,2362.5 965.3,2359.8 966.8,2357.1 968.3,2355.8 969.7,2353.9 971.9,2350.8 973.9,2346.8 976.0,2346.0 978.0,2340.8 980.8,2338.5 983.5,2340.1 986.3,2338.5 989.2,2337.3 992.0,2340.3 994.6,2343.5 995.1,2345.7 995.6,2346.3 996.0,2347.6 996.4,2351.3 996.7,2352.0 997.1,2356.3 997.4,2361.0 997.8,2363.8 998.1,2367.9 998.4,2368.4 998.8,2373.8 999.1,2375.8 999.3,2380.0 999.6,2382.9 999.8,2385.7 1000.0,2391.2 1000.3,2392.7 1000.5,2394.5 1000.7,2401.6 1001.0,2398.0 1001.2,2404.8 1001.4,2409.6 1001.7,2415.1 1001.9,2417.8 1002.2,2417.7 1002.4,2419.6 1002.6,2424.5 1002.9,2428.8 1003.1,2430.4 1003.4,2437.6 1003.6,2439.2 1003.8,2441.9 1004.1,2446.2 1004.3,2449.0 1004.6,2448.6 1004.8,2454.8 1005.0,2456.4 1005.3,2462.4 1005.6,2465.3 1005.8,2468.8 1006.1,2469.4 1006.3,2473.1 1006.6,2478.3 1006.9,2484.3 1007.1,2485.8 1007.4,2488.8 1007.6,2491.8 1007.9,2491.1 1008.1,2498.4 1008.4,2494.7 1008.7,2489.5 1008.9,2489.6 1009.2,2487.0 1009.4,2485.1 1009.7,2476.8 1010.0,2476.2 1010.2,2470.8 1010.5,2466.6 1010.7,2466.7 1011.0,2461.2 1011.3,2459.0 1011.5,2456.6 1011.7,2450.5 1012.0,2450.1 1012.2,2446.0 1012.5,2439.8 1012.7,2439.5 1012.9,2434.4 1013.2,2429.4 1013.4,2427.7 1013.7,2427.6 1013.9,2422.7 1014.1,2416.7 1014.4,2416.3 1014.6,2413.6 1014.9,2411.0 1015.1,2405.2 1015.3,2401.7 1015.5,2398.6 1015.8,2396.8 1016.0,2392.8 1016.2,2392.4 1016.5,2384.3 1016.7,2384.9 1017.0,2379.4 1017.2,2376.5 1017.5,2372.8 1018.0,2370.1 1018.5,2365.1 1019.0,2363.3 1019.5,2361.5 1020.0,2360.8 1020.6,2356.0 1021.1,2351.2 1021.6,2351.5 1022.2,2345.8 1022.7,2344.0 1023.2,2338.7 1023.7,2338.6 1024.2,2335.1 1024.6,2331.9 1025.1,2326.1 1025.6,2321.4 1026.1,2320.7 1026.7,2315.5 1027.3,2316.4 1027.9,2312.0 1029.2,2310.2 1030.6,2305.3 1032.1,2302.4 1033.7,2302.2 1035.2,2299.4 1036.8,2293.0 1038.3,2291.3 1041.6,2292.6 1044.9,2287.9 1048.7,2285.7 1050.6,2295.3 1052.6,2296.5 1054.7,2296.7 1056.9,2301.4 1059.0,2306.9 1061.2,2308.7 1063.3,2308.3 1065.3,2312.5 1067.0,2310.3 1068.7,2307.6 1070.4,2304.3 1072.1,2300.1 1073.7,2300.9 1075.3,2296.1 1076.9,2292.7 1078.4,2291.3 1079.9,2288.7 1082.7,2289.2 1085.2,2295.8 1088.2,2297.6 1090.7,2293.6 1093.4,2290.1 1096.2,2289.4 1099.2,2283.9 1102.0,2283.7 1104.8,2282.1 1107.0,2285.3 1109.2,2285.1 1111.4,2286.1 1113.5,2295.5 1115.6,2295.9 1117.8,2294.1 1120.0,2300.7 1121.8,2300.7 1123.6,2306.4 1125.5,2306.4 1127.3,2312.1 1129.2,2316.1 1131.0,2317.1 1132.8,2318.9 1134.6,2319.2 1136.4,2322.3 1138.6,2322.6 1140.7,2321.6 1142.8,2317.7 1144.9,2313.6 1147.3,2310.1 1150.0,2310.5 1152.4,2307.1 1155.0,2305.0 1157.8,2301.0 1160.6,2300.5 1163.5,2296.6 1166.4,2299.1 1169.2,2293.7 1172.0,2291.4 1174.7,2293.0 1177.3,2292.0 1179.8,2293.6 1182.2,2295.7 1184.5,2297.8 1186.7,2296.2 1188.9,2303.2 1191.0,2301.6 1193.2,2305.8 1195.5,2309.5 1197.0,2311.3 1198.5,2314.9 1200.1,2318.6 1201.6,2318.4 1203.2,2319.9 1204.7,2324.1 1206.3,2325.0 1207.8,2331.8 1209.3,2334.4 1210.8,2335.2 1212.2,2335.9 1213.6,2340.0 1214.9,2345.8 1216.1,2347.7 1217.2,2347.8 1218.4,2351.6 1219.5,2357.3 1220.6,2361.1 1221.7,2368.1 1222.8,2365.6 1223.9,2367.9 1225.0,2369.8 1226.1,2377.1 1227.3,2375.1 1229.0,2378.9 1230.7,2386.1 1232.4,2388.4 1234.2,2390.1 1235.9,2393.6 1237.6,2395.2 1239.3,2395.7 1240.9,2400.6 1243.2,2399.5 1245.4,2394.9 1247.6,2386.7 1249.8,2389.7 1252.3,2387.6 1253.9,2389.4 1255.5,2388.1 1257.2,2392.9 1258.9,2393.6 1260.7,2397.1 1262.5,2406.1 1264.3,2405.7 1266.2,2402.6 1268.2,2407.6 1270.8,2406.5 1273.6,2408.5 1276.5,2406.1 1279.5,2402.2 1282.4,2402.2 1285.3,2401.7 1288.2,2398.9 1290.9,2394.6 1292.8,2391.6 1294.7,2389.9 1296.5,2389.0 1298.2,2380.8 1300.0,2381.0 1301.8,2378.3 1303.5,2377.7 1305.3,2372.0 1307.2,2368.8 1309.1,2368.7 1311.3,2364.6 1313.5,2363.3 1315.8,2360.4 1318.1,2360.9 1320.5,2353.9 1322.8,2352.6 1325.1,2354.2 1327.4,2347.6 1329.6,2349.6 1331.8,2344.3 1335.0,2342.4 1338.2,2340.9 1341.2,2343.3 1344.2,2342.4 1347.2,2337.8 1350.0,2334.1 1351.3,2332.2 1352.6,2329.6 1353.8,2327.0 1354.9,2325.7 1356.1,2323.0 1357.2,2321.6 1358.4,2316.7 1359.6,2311.7 1360.9,2311.8 1362.2,2309.0 1363.6,2302.9 1365.5,2304.3 1367.4,2300.6 1369.4,2298.9 1371.4,2292.5 1373.4,2291.3 1375.5,2286.8 1377.7,2285.6 1379.8,2285.1 1382.0,2281.5 1384.2,2281.8 1386.4,2275.1 1388.7,2277.6 1391.1,2272.6 1393.5,2272.9 1395.9,2267.9 1398.3,2266.8 1400.7,2265.4 1403.2,2263.7 1405.7,2259.1 1408.3,2260.3 1410.9,2254.8 1413.6,2254.2 1416.5,2251.5 1419.4,2251.2 1422.5,2250.9 1425.6,2252.4 1428.7,2247.2 1431.8,2248.7 1435.0,2249.8 1438.1,2246.8 1441.2,2248.1 1444.2,2248.7 1447.1,2246.3 1450.0,2247.2 1453.3,2246.9 1456.5,2246.7 1459.7,2245.3 1462.8,2246.8 1465.8,2249.7 1468.8,2251.9 1471.7,2254.3 1474.5,2255.7 1477.3,2253.8 1479.6,2257.7 1481.8,2256.5 1483.9,2263.3 1486.0,2263.8 1488.0,2266.4 1490.0,2270.9 1491.9,2270.2 1493.7,2272.6 1495.5,2277.9 1496.4,2279.3 1497.3,2285.4 1498.1,2283.5 1498.9,2286.3 1499.7,2292.8 1500.4,2295.2 1501.1,2296.5 1501.8,2301.1 1502.5,2302.4 1503.2,2307.2 1503.9,2309.5 1504.5,2314.8 1505.0,2317.0 1505.5,2320.3 1506.0,2321.2 1506.5,2325.0 1507.0,2325.0 1507.4,2330.4 1507.9,2331.9 1508.4,2337.0 1508.8,2340.1 1509.2,2340.6 1509.7,2346.3 1510.1,2349.2 1510.5,2350.4 1511.0,2353.8 1511.4,2360.0 1511.6,2359.2 1511.7,2365.7 1511.9,2369.7 1512.1,2369.5 1512.2,2377.2 1512.4,2380.6 1512.5,2380.1 1512.7,2386.9 1512.8,2390.8 1513.0,2395.5 1513.1,2396.2 1513.3,2398.7 1513.4,2403.9 1513.5,2410.0 1513.7,2411.5 1513.8,2414.6 1514.0,2419.3 1514.1,2423.5 1514.3,2427.3 1514.5,2428.6 1514.7,2429.3 1514.8,2433.9 1515.0,2437.9 1515.2,2434.7 1515.4,2439.5 1515.7,2440.6 1515.9,2446.2 1516.1,2436.8 1516.4,2439.2 1516.6,2435.1 1516.8,2435.9 1517.1,2433.2 1517.3,2428.5 1517.6,2424.2 1517.8,2421.2 1518.0,2419.9 1518.3,2418.4 1518.6,2415.6 1518.8,2414.2 1519.1,2409.3 1519.3,2408.3 1519.6,2401.3 1519.9,2401.5 1520.1,2394.3 1520.4,2394.3 1520.7,2389.2 1521.0,2387.0 1521.2,2383.8 1521.5,2375.8 1521.8,2374.8 1522.1,2371.0 1522.4,2366.6 1522.7,2363.6 1522.9,2360.6 1523.2,2356.0 1523.5,2352.6 1523.8,2351.8 1524.1,2347.5 1524.4,2343.7 1524.7,2337.8 1525.0,2335.0 1525.3,2334.2 1525.5,2329.7 1525.8,2326.3 1526.1,2326.0 1526.4,2319.2 1526.7,2316.4 1527.0,2315.7 1527.3,2315.0 1528.4,2311.0 1529.4,2302.8 1530.5,2302.8 1531.6,2295.3 1532.7,2292.6 1533.8,2293.4 1535.0,2291.4 1536.1,2287.1 1537.3,2283.9 1538.5,2282.9 1539.7,2281.2 1540.9,2276.3 1543.1,2272.5 1545.3,2272.8 1547.6,2267.6 1550.0,2265.6 1552.4,2264.9 1554.7,2262.7 1556.9,2262.2 1559.1,2259.2 1562.7,2258.2 1566.1,2255.0 1569.4,2255.6 1572.7,2259.0 1574.4,2263.5 1576.2,2263.1 1577.9,2264.8 1579.6,2270.2 1581.3,2271.2 1583.1,2278.1 1584.7,2281.1 1586.4,2282.2 1588.7,2284.2 1590.9,2286.6 1593.1,2291.1 1595.3,2295.5 1597.7,2293.8 1600.1,2296.9 1602.6,2291.8 1605.1,2293.1 1607.8,2292.5 1610.6,2290.4 1613.6,2287.4 1615.8,2284.1 1618.2,2283.1 1620.6,2282.3 1623.2,2277.1 1625.7,2274.5 1628.3,2275.2 1630.8,2270.5 1633.3,2270.0 1635.7,2266.5 1637.9,2266.8 1640.0,2265.7 1644.1,2266.1 1647.2,2266.8 1650.6,2266.7 1653.6,2268.5 1656.8,2262.6 1660.1,2263.8 1663.4,2259.9 1666.6,2258.5 1669.8,2259.1 1673.0,2259.4 1676.2,2264.2 1679.4,2262.2 1682.6,2265.7 1685.8,2265.0 1689.0,2260.6 1692.3,2260.5 1695.4,2257.3 1698.5,2254.8 1700.9,2258.6 1703.2,2261.4 1705.5,2265.8 1707.7,2262.7 1709.8,2265.9 1711.8,2271.3 1713.6,2274.8 1715.2,2274.5 1716.7,2277.3 1718.2,2280.2 1719.8,2284.8 1721.8,2284.3 1723.8,2282.1 1725.9,2279.2 1728.1,2275.6 1730.4,2274.7 1733.5,2269.5 1736.8,2269.0 1740.1,2266.1 1743.4,2269.2 1746.4,2262.9 1748.1,2260.3 1749.7,2259.5 1751.3,2258.0 1752.8,2255.3 1754.2,2252.7 1755.6,2251.3 1757.1,2248.3 1758.0,2245.8 1759.0,2241.7 1759.9,2234.0 1760.8,2236.8 1761.7,2235.0 1762.6,2225.2 1763.4,2228.4 1764.2,2222.5 1765.0,2216.2 1765.6,2222.1 1766.2,2218.4 1766.7,2207.3 1767.2,2210.4 1767.7,2211.8 1768.2,2205.9 1768.7,2203.4 1769.2,2190.6 1769.8,2197.5 1770.4,2196.4 1771.0,2180.9 1771.7,2185.3 1772.4,2183.4 1773.2,2171.2 1773.9,2179.5 1774.7,2168.8 1775.4,2164.6 1776.2,2182.5 1776.9,2157.6 1777.6,2156.7 1778.3,2151.1 1779.3,2158.0 1780.3,2143.9 1781.3,2136.8 1782.2,2130.1 1783.2,2139.2 1784.1,2148.8 1785.0,2135.1 1785.3,2140.9 1785.7,2128.4 1786.0,2136.6 1786.4,2145.1 1786.7,2142.5 1787.1,2153.7 1787.4,2144.9 1787.7,2155.5 1788.1,2154.7 1788.4,2161.8 1788.7,2165.5 1789.1,2174.8 1789.4,2175.7 1789.7,2164.3 1790.0,2171.9 1790.3,2182.1 1790.5,2184.4 1790.7,2185.5 1790.9,2197.3 1791.1,2193.7 1791.3,2202.6 1791.4,2206.3 1791.6,2202.3 1791.8,2196.4 1792.0,2203.1 1792.1,2211.8 1792.3,2213.0 1792.5,2212.7 1792.6,2221.0 1792.8,2225.5 1793.0,2221.4 1793.2,2233.5 1793.4,2229.8 1793.5,2236.3 1793.7,2239.6 1793.9,2246.6 1794.1,2242.0 1794.3,2245.6 1794.5,2249.7 1794.8,2259.7 1795.0,2262.5 1795.2,2273.3 1795.5,2268.9 1795.8,2264.3 1796.0,2273.2 1796.3,2279.4 1796.5,2284.1 1796.8,2278.6 1797.1,2274.3 1797.3,2280.1 1797.6,2278.2 1797.8,2281.9 1798.1,2296.1 1798.3,2292.8 1798.6,2306.7 1798.8,2297.3 1799.0,2304.8 1799.2,2303.9 1799.4,2309.5 1799.6,2307.3 1799.9,2310.1 1800.2,2320.8 1800.4,2321.4 1800.6,2308.2 1800.7,2313.4 1800.8,2330.9 1800.9,2341.2" fill="none" stroke="#000" stroke-width="18.5" stroke-linejoin="round" stroke-linecap="butt" />
<polyline points="518.2,2366.2 519.6,2368.2 521.3,2361.3 523.2,2357.9 525.2,2358.3 527.3,2354.6 530.0,2350.8 532.6,2351.6 535.9,2352.2 540.9,2348.7 543.5,2350.0 546.2,2350.7 549.1,2348.7 552.1,2346.3 555.3,2347.5 558.5,2349.6 561.9,2349.0 565.2,2346.5 568.6,2345.6 572.0,2349.4 575.4,2347.2 578.7,2347.1 581.9,2343.9 585.0,2350.5 588.0,2345.4 590.9,2344.1 594.5,2346.6 598.0,2342.8 601.3,2343.5 604.6,2346.1 607.7,2345.4 610.7,2346.0 613.7,2341.7 616.7,2341.9 619.7,2345.0 622.7,2340.8 625.9,2343.6 629.0,2341.8 632.0,2343.1 635.0,2345.4 638.0,2349.0 641.0,2349.1 644.0,2348.7 647.0,2349.5 650.0,2350.4 653.1,2349.6 656.2,2350.3 659.3,2352.1 662.4,2351.4 665.5,2350.6 668.6,2353.3 671.6,2351.2 674.5,2350.3 677.3,2352.4 679.5,2359.1 681.7,2356.9 683.7,2362.4 685.7,2365.2 687.7,2365.0 689.6,2367.8 691.5,2370.5 693.5,2376.2 695.5,2376.5 696.6,2379.0 697.8,2384.1 699.0,2384.4 700.2,2385.9 701.4,2389.9 702.6,2394.0 703.8,2396.1 705.1,2401.2 706.2,2408.7 707.4,2406.1 708.6,2410.5 709.7,2408.2 710.7,2415.8 711.8,2418.7 712.7,2421.4 713.6,2420.9 718.2,2423.1 718.8,2427.3 719.3,2427.1 719.9,2432.7 720.4,2435.9 721.0,2439.8 721.6,2443.2 722.2,2444.2 722.9,2450.5 723.6,2453.1 724.4,2455.4 725.2,2460.2 726.2,2460.4 727.3,2464.7 729.8,2463.7 732.5,2464.6 735.4,2464.3 738.3,2465.0 741.5,2463.4 744.6,2460.9 747.9,2462.3 751.2,2459.0 754.5,2459.8 757.4,2455.8 760.3,2460.1 763.4,2456.0 766.4,2450.8 769.5,2455.5 772.7,2454.6 775.8,2455.3 778.9,2450.5 782.0,2451.1 785.0,2449.2 788.0,2449.0 790.9,2451.8 794.1,2451.1 797.2,2451.5 800.3,2450.0 803.5,2451.1 806.5,2451.0 809.5,2454.8 812.3,2452.7 815.0,2456.2 817.6,2451.0 820.0,2457.4 823.6,2459.4 825.9,2458.8 828.3,2462.9 829.7,2468.6 831.2,2470.6 832.7,2474.2 834.2,2474.6 835.7,2480.1 837.2,2482.0 838.7,2483.5 839.9,2478.5 841.0,2478.7 842.1,2474.5 843.3,2470.7 844.4,2470.7 845.5,2467.0 846.7,2465.0 847.9,2458.1 849.1,2456.0 850.6,2453.9 852.2,2453.6 853.9,2450.6 855.5,2446.3 857.1,2445.3 858.7,2440.3 860.2,2438.8 861.6,2436.9 862.4,2433.8 863.1,2428.5 863.7,2427.5 864.3,2421.8 864.8,2419.3 865.4,2414.4 866.1,2413.3 866.9,2411.7 867.8,2401.8 870.3,2403.7 873.0,2403.6 876.0,2402.1 879.0,2398.4 881.8,2398.0 884.4,2393.2 886.8,2395.7 888.9,2401.2 890.9,2400.1 892.8,2403.1 894.8,2405.0 896.4,2411.9 897.9,2414.8 899.5,2417.1 901.1,2416.3 902.6,2420.4 904.0,2424.4 905.2,2428.0 905.8,2430.3 906.2,2432.0 906.6,2439.6 906.9,2442.2 907.2,2444.4 907.5,2445.3 907.7,2450.6 908.0,2453.3 908.4,2457.3 908.6,2461.1 908.8,2458.8 909.0,2464.9 909.2,2468.9 909.5,2471.2 909.7,2473.6 909.9,2479.1 910.1,2480.3 910.4,2487.1 910.6,2490.4 910.8,2492.8 911.0,2497.4 911.3,2499.4 911.5,2500.3 911.7,2507.4 911.9,2510.0 912.2,2512.1 912.4,2516.2 912.6,2515.9 912.9,2521.8 913.1,2525.5 913.3,2527.4 913.6,2530.1 913.8,2532.1 914.1,2535.5 914.3,2542.4 914.6,2545.8 914.9,2548.0 915.2,2551.2 915.5,2550.8 915.8,2558.7 916.1,2557.7 916.4,2562.3 916.8,2567.4 917.1,2570.2 917.4,2571.3 917.7,2576.7 918.1,2581.6 918.4,2576.6 918.8,2585.6 919.2,2583.4 919.7,2593.0 920.2,2598.8 920.7,2598.5 921.2,2600.1 921.7,2606.6 922.2,2609.3 922.8,2610.9 923.4,2611.2 924.0,2615.9 925.0,2619.7 926.2,2623.7 927.4,2626.9 928.6,2630.5 929.8,2629.9 931.1,2632.5 932.3,2635.3 934.4,2638.6 936.5,2645.8 938.6,2645.2 940.6,2646.8 941.5,2643.8 942.5,2643.1 943.3,2639.7 944.2,2637.9 945.1,2637.2 945.9,2629.0 946.8,2628.3 947.2,2625.1 947.6,2621.8 947.9,2620.7 948.3,2615.7 948.7,2611.4 949.1,2608.2 949.4,2607.7 949.8,2604.3 950.2,2601.2 950.6,2599.0 950.9,2592.2 951.3,2591.0 951.7,2586.0 952.0,2578.3 952.4,2582.9 952.7,2575.8 953.1,2576.5 953.4,2570.1 953.8,2567.6 954.1,2564.1 954.4,2559.5 954.7,2560.3 955.1,2552.6 955.4,2554.4 955.7,2547.8 956.0,2545.8 956.3,2543.5 956.6,2536.9 956.9,2536.4 957.2,2530.9 957.5,2529.1 957.9,2526.1 958.2,2521.5 958.5,2519.3 958.8,2517.7 959.1,2513.9 959.5,2508.9 959.8,2508.8 960.1,2503.6 960.4,2498.4 960.7,2496.4 961.1,2492.4 961.4,2493.4 961.8,2488.7 962.2,2484.5 962.5,2483.8 962.9,2476.2 963.3,2475.7 963.7,2474.1 964.1,2469.3 964.5,2465.3 965.0,2465.3 965.5,2462.0 967.0,2455.3 968.6,2455.0 970.2,2452.1 972.0,2445.7 973.8,2445.1 976.2,2447.4 978.8,2447.4 981.4,2453.9 983.9,2452.6 986.3,2456.2 988.6,2461.5 990.8,2461.7 992.8,2462.6 994.6,2468.4 995.0,2468.2 995.3,2470.8 995.6,2477.0 995.9,2475.0 996.2,2478.2 996.5,2482.3 996.8,2486.2 997.0,2490.9 997.3,2492.6 997.5,2494.5 997.8,2499.5 998.0,2501.6 998.3,2504.6 998.5,2507.7 998.8,2514.0 999.1,2515.5 999.3,2519.1 999.6,2525.1 999.8,2524.4 1000.0,2527.9 1000.3,2532.4 1000.5,2533.4 1000.7,2537.8 1001.0,2541.3 1001.2,2548.1 1001.4,2549.6 1001.7,2550.2 1001.9,2552.8 1002.2,2557.2 1002.4,2559.1 1002.6,2565.7 1002.9,2569.0 1003.1,2572.2 1003.4,2573.0 1003.6,2579.0 1003.8,2580.6 1004.1,2582.0 1004.3,2586.4 1004.6,2590.5 1004.8,2593.4 1005.0,2593.1 1005.3,2601.6 1005.6,2601.4 1005.9,2604.1 1006.2,2608.2 1006.6,2616.1 1006.9,2618.2 1007.2,2618.1 1007.5,2622.0 1007.8,2622.9 1008.1,2628.0 1008.5,2623.7 1008.9,2625.4 1009.4,2619.8 1009.8,2617.6 1010.2,2616.3 1010.6,2609.0 1011.0,2608.3 1011.5,2605.1 1011.9,2600.6 1012.3,2593.9 1012.6,2591.5 1013.0,2591.3 1013.3,2583.8 1013.6,2581.4 1013.9,2578.7 1014.3,2577.5 1014.6,2572.3 1014.9,2568.0 1015.2,2567.3 1015.5,2562.6 1015.9,2560.4 1016.2,2556.5 1016.5,2554.4 1016.7,2549.3 1017.0,2543.8 1017.2,2545.5 1017.4,2542.1 1017.7,2535.9 1017.9,2535.9 1018.1,2531.9 1018.3,2530.7 1018.6,2526.7 1018.8,2524.3 1019.0,2519.7 1019.3,2516.3 1019.6,2514.3 1019.9,2510.1 1020.3,2503.5 1020.7,2501.6 1021.1,2500.7 1021.5,2494.6 1022.0,2490.8 1022.4,2483.9 1022.8,2487.3 1023.2,2481.6 1023.6,2480.1 1024.0,2476.1 1024.4,2471.0 1024.8,2466.6 1025.3,2470.6 1025.7,2462.7 1026.0,2459.3 1026.4,2460.2 1026.8,2458.9 1027.3,2455.5 1027.9,2449.4 1028.4,2446.8 1029.0,2446.0 1029.6,2445.8 1030.1,2437.0 1030.8,2433.6 1031.4,2429.6 1032.0,2427.8 1032.7,2422.4 1033.4,2419.4 1034.0,2415.2 1034.7,2415.0 1035.4,2411.9 1036.0,2407.3 1038.1,2403.2 1040.0,2402.0 1042.3,2400.8 1045.5,2398.9 1048.0,2396.9 1050.7,2398.3 1053.7,2399.9 1056.7,2404.4 1059.8,2406.0 1063.0,2407.5 1066.3,2408.5 1069.5,2408.8 1072.7,2406.6 1075.1,2409.8 1077.5,2408.6 1079.9,2404.4 1082.4,2400.9 1084.9,2398.5 1087.4,2398.0 1089.9,2396.9 1092.4,2395.7 1094.9,2389.8 1097.3,2390.9 1099.8,2385.7 1102.2,2382.6 1104.5,2384.6 1106.7,2386.4 1108.9,2391.0 1111.0,2391.6 1113.1,2394.5 1115.2,2399.6 1117.3,2401.9 1119.4,2403.3 1121.5,2408.1 1123.5,2410.4 1125.6,2413.1 1127.6,2413.5 1129.7,2417.6 1131.8,2417.1 1134.6,2416.5 1137.3,2417.1 1140.1,2412.2 1142.9,2411.9 1145.6,2411.1 1148.4,2408.8 1151.1,2407.1 1153.8,2405.7 1156.5,2400.8 1159.1,2399.0 1162.8,2398.9 1166.7,2399.9 1170.7,2398.8 1174.5,2399.8 1177.8,2398.7 1180.3,2398.3 1181.8,2395.8 1179.8,2398.0 1177.0,2398.3 1173.6,2399.4 1169.9,2398.5 1165.9,2397.7 1161.9,2396.5 1158.2,2395.5 1154.8,2395.4 1152.0,2397.3 1150.0,2397.9 1151.6,2397.4 1154.2,2392.4 1157.6,2394.6 1161.5,2393.0 1165.5,2391.7 1169.3,2392.4 1172.7,2392.0 1175.1,2392.1 1177.5,2398.0 1179.7,2396.8 1182.0,2399.2 1184.2,2398.8 1186.4,2404.3 1188.7,2408.2 1190.9,2407.1 1192.3,2411.5 1193.8,2414.9 1195.3,2416.9 1196.9,2418.4 1198.4,2425.5 1199.9,2425.8 1201.4,2426.9 1202.9,2433.1 1204.3,2434.3 1205.6,2440.4 1206.9,2441.0 1208.0,2445.3 1209.1,2444.1 1209.1,2444.8 1209.8,2445.1 1210.5,2448.5 1211.3,2452.1 1212.2,2457.0 1213.1,2460.7 1214.0,2460.9 1215.0,2463.0 1216.0,2467.3 1217.0,2470.3 1218.0,2474.1 1219.0,2479.1 1220.0,2483.1 1220.9,2484.7 1221.8,2490.2 1222.7,2488.8 1223.5,2493.4 1224.3,2499.4 1225.1,2502.5 1225.9,2503.7 1226.6,2506.9 1227.4,2508.1 1228.1,2510.9 1228.9,2515.4 1229.6,2516.9 1230.4,2519.9 1231.1,2524.4 1231.8,2531.9 1232.6,2530.9 1233.3,2535.1 1234.1,2534.8 1235.7,2538.0 1237.2,2541.1 1238.7,2547.7 1240.3,2547.5 1241.9,2551.9 1243.6,2551.4 1245.5,2556.8 1247.9,2556.9 1250.4,2559.9 1253.1,2561.3 1255.8,2562.1 1258.5,2564.7 1261.1,2565.9 1263.6,2567.7 1265.0,2567.3 1266.3,2565.8 1267.6,2563.9 1268.9,2559.7 1270.2,2556.3 1271.4,2554.2 1272.6,2549.9 1273.8,2546.2 1275.0,2543.6 1276.1,2541.4 1277.3,2541.1 1278.2,2531.1 1279.1,2530.6 1279.9,2527.9 1280.7,2522.7 1281.4,2524.0 1282.2,2516.7 1283.0,2518.4 1283.8,2515.4 1284.6,2511.8 1285.4,2506.7 1286.4,2502.7 1287.5,2503.7 1288.6,2498.2 1289.7,2495.8 1290.9,2490.2 1292.1,2488.4 1293.3,2485.9 1294.5,2484.4 1295.8,2481.2 1297.2,2476.5 1298.5,2473.3 1300.0,2471.5 1302.3,2469.3 1304.7,2468.1 1307.2,2466.8 1309.7,2465.9 1312.3,2460.6 1314.9,2461.4 1317.6,2461.0 1320.2,2457.5 1322.7,2457.1 1326.0,2457.5 1329.3,2455.0 1332.6,2454.2 1335.9,2454.8 1339.2,2452.8 1342.4,2452.5 1345.5,2449.7 1347.1,2450.1 1348.8,2445.8 1350.4,2442.4 1352.1,2437.7 1353.8,2436.4 1355.4,2435.2 1357.0,2430.0 1358.5,2429.6 1359.9,2427.4 1361.3,2420.7 1362.5,2420.7 1363.6,2419.1 1363.9,2416.7 1363.0,2410.0 1363.6,2407.2 1365.2,2405.3 1366.9,2404.0 1368.8,2400.5 1370.8,2400.5 1372.9,2399.8 1375.1,2392.2 1377.3,2391.6 1379.6,2390.8 1381.9,2387.8 1384.1,2386.5 1386.4,2382.1 1388.7,2378.8 1391.2,2378.5 1393.6,2372.9 1396.1,2372.4 1398.6,2371.2 1401.1,2370.9 1403.6,2367.8 1406.1,2365.6 1408.6,2363.5 1411.1,2363.0 1413.6,2359.5 1416.7,2357.9 1419.8,2357.9 1422.9,2358.7 1426.1,2358.6 1429.2,2354.7 1432.2,2356.8 1435.2,2353.8 1438.1,2354.4 1440.9,2352.1 1444.3,2355.4 1447.4,2353.5 1450.3,2350.5 1453.2,2349.5 1456.1,2346.8 1459.1,2344.4 1461.7,2344.9 1464.3,2346.1 1466.9,2348.2 1469.5,2354.8 1472.1,2359.3 1474.7,2357.8 1477.3,2360.6 1479.6,2359.5 1482.0,2364.4 1484.4,2364.2 1486.8,2367.9 1489.1,2370.4 1491.4,2371.0 1493.5,2373.5 1495.5,2377.1 1496.1,2378.7 1496.6,2382.1 1497.2,2385.4 1497.7,2386.5 1498.1,2391.3 1498.6,2391.4 1499.0,2396.3 1499.4,2401.6 1499.8,2405.9 1500.1,2409.8 1500.5,2413.1 1500.8,2412.8 1501.2,2420.0 1501.5,2422.3 1501.9,2424.1 1502.3,2428.2 1502.6,2431.4 1502.9,2433.6 1503.2,2434.9 1503.5,2440.9 1503.8,2443.1 1504.1,2448.6 1504.4,2450.4 1504.7,2455.5 1505.0,2456.0 1505.3,2462.2 1505.5,2461.4 1505.8,2467.5 1506.2,2469.6 1506.5,2470.5 1506.8,2473.1 1507.3,2477.2 1507.7,2480.1 1508.2,2485.7 1508.7,2491.4 1509.2,2494.7 1509.7,2495.4 1510.2,2499.4 1510.7,2505.0 1511.2,2510.2 1511.7,2513.3 1512.2,2515.9 1512.7,2517.7 1513.2,2519.9 1513.6,2515.7 1513.8,2518.6 1514.0,2514.0 1514.1,2510.1 1514.3,2509.5 1514.4,2504.8 1514.5,2504.3 1514.7,2502.1 1514.8,2497.4 1514.9,2496.4 1515.1,2492.9 1515.2,2489.6 1515.3,2485.9 1515.4,2484.1 1515.5,2477.5 1515.7,2477.1 1515.8,2470.4 1515.9,2467.8 1516.0,2466.5 1516.2,2461.8 1516.3,2457.9 1516.5,2457.0 1516.6,2453.2 1516.8,2450.9 1516.9,2446.9 1517.1,2442.9 1517.3,2439.1 1517.5,2434.3 1517.7,2433.2 1517.9,2427.3 1518.2,2427.2 1518.9,2424.0 1519.7,2420.8 1520.5,2418.6 1521.4,2417.0 1522.2,2410.8 1523.1,2408.4 1524.0,2402.8 1525.0,2398.2 1525.9,2399.8 1526.9,2393.5 1527.8,2390.9 1528.8,2387.1 1529.8,2388.5 1530.8,2385.2 1531.8,2382.8 1533.7,2376.6 1535.7,2374.4 1537.7,2378.2 1539.7,2371.7 1541.8,2369.6 1543.8,2364.1 1545.9,2364.7 1548.0,2360.4 1550.0,2358.5 1553.1,2359.9 1556.2,2358.0 1559.3,2354.9 1562.3,2354.1 1565.3,2356.1 1568.2,2349.9 1570.3,2358.1 1572.3,2361.0 1574.2,2360.1 1576.1,2366.3 1578.0,2367.5 1579.9,2370.3 1581.8,2371.4 1584.1,2373.5 1586.3,2375.7 1588.5,2380.7 1590.7,2383.3 1593.0,2385.5 1595.5,2390.3 1598.4,2389.2 1601.4,2387.2 1604.5,2383.2 1607.7,2383.3 1610.7,2382.6 1613.6,2381.2 1615.5,2376.8 1617.2,2378.0 1619.0,2371.9 1620.7,2371.5 1622.3,2364.9 1624.0,2366.9 1625.6,2363.8 1627.3,2356.7 1630.4,2361.2 1633.3,2353.3 1636.5,2355.2 1640.0,2350.5 1642.8,2351.5 1645.8,2348.6 1648.9,2349.7 1652.1,2350.9 1655.3,2349.3 1658.4,2346.8 1661.3,2347.5 1664.8,2344.9 1668.1,2346.4 1671.4,2341.6 1674.4,2339.3 1677.2,2342.0 1678.6,2343.8 1679.7,2346.3 1680.7,2351.8 1681.7,2354.7 1682.7,2360.0 1683.9,2361.2 1685.2,2361.4 1687.0,2359.3 1689.0,2360.2 1691.0,2354.6 1693.1,2354.3 1695.2,2350.0 1697.3,2347.7 1699.3,2344.6 1701.2,2343.5 1704.1,2342.8 1706.8,2347.4 1709.4,2350.2 1711.8,2352.5 1712.8,2355.0 1713.7,2357.5 1714.7,2360.8 1715.6,2364.6 1716.5,2367.1 1717.3,2367.7 1718.2,2372.1 1719.0,2374.9 1719.8,2378.6 1720.5,2381.3 1721.2,2383.9 1721.9,2392.1 1722.5,2395.6 1723.1,2397.7 1723.8,2401.0 1724.4,2400.3 1725.1,2402.7 1725.8,2401.6 1726.4,2397.6 1727.0,2398.7 1727.7,2393.8 1728.3,2395.0 1729.0,2387.2 1729.6,2377.9 1730.3,2382.1 1731.0,2375.5 1731.8,2373.1 1732.9,2370.3 1734.0,2369.3 1735.1,2363.5 1736.3,2359.0 1737.5,2359.5 1738.7,2356.2 1739.9,2352.5 1741.1,2349.6 1743.7,2352.2 1746.4,2355.0 1749.1,2353.9 1751.7,2358.3 1753.8,2358.6 1755.8,2355.8 1757.9,2347.3 1760.0,2348.1 1762.4,2347.8 1764.9,2351.3 1767.6,2348.3 1770.4,2353.8 1773.1,2353.3 1775.8,2356.3 1778.3,2352.9 1781.3,2367.0 1784.0,2366.1 1786.5,2369.3 1789.0,2389.2 1791.1,2358.3 1793.2,2355.2 1795.2,2355.7 1797.0,2350.7 1797.7,2362.9 1798.3,2350.6 1798.8,2357.7 1799.4,2352.6 1799.9,2339.7 1800.4,2343.5 1800.9,2340.8 1801.1,2339.5 1801.3,2338.6 1801.5,2323.9 1801.7,2316.8 1801.9,2319.3 1802.1,2314.6 1802.3,2309.6 1802.5,2311.0 1802.7,2306.0 1802.8,2310.3 1803.0,2296.2 1803.2,2309.4 1803.4,2299.8 1803.6,2292.4 1803.8,2282.6 1804.0,2284.2 1804.2,2277.2 1804.4,2288.6 1804.6,2279.2 1804.7,2280.6 1804.9,2267.3 1805.1,2260.5 1805.3,2256.7 1805.5,2262.1 1805.6,2266.0 1805.8,2247.1 1806.0,2246.2 1806.2,2248.6 1806.4,2242.9 1806.6,2235.4 1806.7,2245.2 1806.9,2233.9 1807.1,2230.8 1807.3,2228.0 1807.5,2228.4 1807.6,2220.4 1807.8,2219.4 1808.0,2218.1 1808.1,2211.1 1808.3,2203.4 1808.5,2206.1 1808.6,2207.8 1808.8,2205.1 1808.9,2202.4 1809.0,2203.7 1809.1,2203.4 1809.2,2211.4 1809.3,2209.5 1809.4,2203.9 1809.5,2205.7 1809.6,2207.3 1809.7,2212.4 1809.8,2212.3 1809.9,2232.7 1810.0,2228.1 1810.0,2225.8 1810.1,2239.1 1810.2,2240.0 1810.3,2244.9 1810.3,2225.2 1810.4,2245.8 1810.5,2255.0 1810.5,2258.9 1810.6,2266.5 1810.7,2268.6 1810.7,2263.8 1810.8,2268.2 1810.8,2273.7 1810.8,2281.2 1810.8,2281.7 1810.8,2278.1 1810.9,2280.0 1810.9,2286.2 1810.9,2293.0 1810.9,2287.1 1810.9,2307.2 1810.9,2307.2 1810.9,2310.9 1810.9,2299.2 1810.9,2311.4 1811.0,2313.6 1811.0,2324.0 1811.0,2316.6 1811.0,2324.7 1811.0,2323.6 1811.0,2336.3 1811.0,2326.3 1811.0,2333.9 1811.0,2332.4 1811.0,2333.0 1811.0,2343.9 1811.0,2353.4 1811.0,2343.3 1811.0,2357.4 1811.0,2357.8 1811.0,2343.2 1810.9,2373.0 1810.9,2367.1 1810.9,2362.7 1810.9,2368.3 1810.9,2377.6 1810.9,2374.6 1810.9,2381.3 1810.8,2389.3 1810.8,2392.5 1810.8,2395.2 1810.7,2392.4 1810.6,2401.2 1810.4,2405.6 1810.3,2395.5 1810.1,2402.5 1809.9,2419.0 1809.7,2420.1 1809.6,2425.7 1809.4,2422.9 1809.2,2432.5 1809.0,2435.8 1808.8,2429.2 1808.6,2443.2 1808.5,2430.9 1808.3,2440.6 1808.2,2434.9 1808.0,2450.4 1807.9,2444.8 1807.8,2447.4 1807.7,2446.7 1807.6,2454.4 1807.6,2458.1 1808.0,2447.3 1808.6,2460.1 1809.2,2446.7 1809.9,2454.9 1810.6,2449.0 1811.4,2432.6 1812.2,2447.4 1812.9,2425.2 1813.4,2426.0 1813.9,2418.8 1814.4,2420.5 1814.9,2424.7 1815.4,2414.3 1815.9,2407.8 1816.4,2415.1 1817.0,2410.7 1817.5,2403.1 1817.9,2399.1 1818.4,2402.9 1818.8,2395.4 1819.2,2384.8 1819.6,2397.4" fill="none" stroke="#000" stroke-width="18.5" stroke-linejoin="round" stroke-linecap="butt" />
<polyline points="540.9,2449.8 543.2,2448.5 545.7,2451.1 548.4,2447.9 551.2,2450.0 554.2,2450.0 557.3,2446.2 560.6,2450.2 563.9,2448.5 567.2,2447.9 570.6,2448.8 574.1,2447.6 577.5,2445.6 580.9,2443.6 584.3,2443.6 587.7,2444.9 590.9,2445.9 593.9,2439.7 596.9,2445.7 600.0,2445.7 603.2,2442.7 606.3,2443.2 609.5,2444.6 612.7,2445.8 615.9,2444.7 619.0,2442.8 622.2,2443.3 625.3,2444.8 628.4,2443.2 631.4,2445.6 634.4,2446.5 637.3,2447.2 640.1,2445.5 642.8,2443.9 645.5,2445.8 648.9,2447.4 652.0,2447.9 654.9,2448.8 657.7,2452.4 660.3,2453.7 662.8,2453.0 665.3,2454.0 667.7,2458.4 670.2,2455.4 672.7,2460.0 675.7,2460.4 678.7,2459.5 681.6,2464.6 684.4,2464.3 687.3,2467.9 690.0,2468.4 692.8,2466.0 695.5,2470.6 697.2,2471.9 699.0,2477.2 700.7,2479.6 702.4,2481.4 704.1,2481.7 705.7,2483.5 707.3,2487.3 708.9,2491.4 710.5,2495.3 712.1,2498.2 713.6,2502.0 714.9,2505.3 716.1,2503.7 717.3,2511.0 718.5,2511.8 719.6,2512.8 720.8,2516.7 721.9,2518.6 723.0,2521.9 724.1,2526.3 725.2,2528.5 726.2,2531.0 727.3,2535.8 728.2,2540.5 729.0,2543.8 729.7,2545.8 730.4,2548.5 731.1,2553.8 731.8,2553.4 732.6,2558.0 733.4,2561.8 734.2,2565.4 735.2,2565.4 736.4,2566.7 739.1,2565.8 742.1,2570.2 745.2,2568.1 748.5,2564.6 752.0,2561.3 755.5,2564.0 759.1,2562.9 762.1,2562.2 765.2,2563.4 768.5,2559.4 771.8,2559.7 775.2,2559.4 778.5,2560.0 781.8,2561.7 785.0,2565.2 788.0,2565.0 790.9,2564.8 794.0,2563.8 796.8,2567.3 799.5,2570.4 802.0,2572.7 804.5,2569.6 806.8,2572.1 809.1,2572.9 812.8,2577.6 816.1,2572.5 820.0,2573.9 822.1,2571.8 824.3,2567.5 826.7,2569.3 829.1,2564.6 831.6,2560.4 834.0,2559.1 836.4,2562.9 838.7,2557.4 840.8,2556.3 843.2,2547.6 845.3,2550.9 847.3,2547.2 849.3,2545.1 851.2,2544.4 853.3,2541.6 854.8,2538.5 856.3,2536.2 857.8,2529.4 859.3,2530.2 860.9,2524.7 862.4,2520.5 864.1,2518.4 865.7,2517.6 868.0,2512.2 870.3,2509.6 872.7,2508.4 875.1,2506.7 877.5,2504.8 880.0,2505.3 882.4,2500.3 885.8,2501.7 889.3,2502.2 892.7,2500.9 896.0,2499.7 899.0,2497.4 900.7,2500.3 902.2,2505.5 903.5,2506.6 904.8,2512.6 906.1,2516.0 907.3,2520.1 907.9,2522.4 908.5,2524.9 909.1,2529.6 909.7,2531.5 910.2,2535.3 910.8,2537.3 911.3,2542.0 911.9,2543.5 912.4,2548.3 913.0,2550.7 913.6,2556.1 914.0,2555.4 914.5,2562.1 914.9,2561.9 915.4,2567.9 915.8,2566.4 916.3,2569.3 916.8,2573.1 917.2,2578.7 917.7,2581.3 918.1,2581.0 918.5,2588.4 919.0,2591.6 919.4,2592.2 919.8,2594.1 920.1,2601.3 920.5,2602.8 920.8,2606.5 921.1,2606.0 921.4,2612.4 921.7,2612.6 922.0,2616.1 922.3,2623.0 922.6,2618.8 922.9,2627.7 923.3,2631.0 923.6,2635.1 924.0,2638.7 924.4,2637.9 924.8,2645.5 925.2,2646.5 925.6,2648.0 926.0,2652.0 926.5,2652.7 926.9,2658.0 927.4,2659.3 927.8,2664.3 928.3,2668.0 928.7,2669.1 929.2,2673.5 929.7,2676.4 930.2,2676.4 930.7,2679.4 931.3,2683.4 931.9,2688.3 932.5,2690.3 933.1,2691.6 933.7,2695.5 934.3,2698.4 934.9,2706.6 935.5,2704.4 936.1,2707.9 936.7,2712.3 937.3,2714.5 937.9,2715.2 938.5,2720.5 939.8,2724.0 941.0,2725.9 942.2,2731.5 943.4,2734.0 944.6,2736.6 945.8,2739.2 946.6,2733.4 947.4,2731.0 948.3,2729.5 949.1,2725.2 950.0,2725.0 950.8,2720.0 951.6,2719.9 952.3,2710.0 953.1,2708.6 953.3,2707.7 953.6,2705.6 953.9,2702.0 954.2,2698.1 954.4,2693.2 954.7,2692.2 954.9,2690.6 955.1,2683.7 955.4,2684.4 955.6,2678.7 955.8,2675.5 956.0,2675.0 956.3,2670.7 956.5,2668.0 956.7,2662.1 957.0,2655.4 957.2,2658.1 957.5,2653.5 957.8,2651.2 958.1,2645.7 958.5,2645.2 958.8,2643.1 959.1,2637.6 959.4,2636.4 959.7,2631.9 960.0,2627.4 960.3,2624.7 960.7,2621.3 961.0,2621.4 961.4,2620.3 962.2,2615.0 963.0,2606.9 963.9,2608.4 964.8,2603.8 965.7,2603.2 966.6,2596.4 967.6,2596.0 969.6,2592.8 971.6,2590.6 973.7,2586.2 975.9,2581.5 978.0,2581.8 980.1,2577.4 982.3,2573.6 984.4,2573.4 986.3,2570.7 988.6,2566.7 990.6,2563.0 992.6,2559.8 993.9,2565.7 995.3,2567.7 996.6,2569.0 997.8,2573.1 998.0,2578.1 998.3,2581.7 998.6,2581.3 998.8,2587.1 999.0,2590.8 999.3,2592.4 999.5,2593.8 999.7,2599.4 1000.0,2602.3 1000.2,2604.4 1000.4,2607.6 1000.6,2615.3 1000.9,2614.9 1001.1,2621.1 1001.4,2625.0 1001.6,2625.2 1001.8,2628.2 1002.1,2630.7 1002.3,2633.5 1002.6,2641.7 1002.8,2641.5 1003.0,2644.2 1003.3,2649.6 1003.5,2648.2 1003.8,2656.9 1004.0,2657.7 1004.3,2659.0 1004.6,2663.4 1004.9,2666.8 1005.2,2673.8 1005.6,2676.4 1005.9,2679.5 1006.2,2683.9 1006.5,2683.2 1006.8,2688.3 1007.1,2686.6 1007.4,2688.6 1007.7,2684.4 1008.0,2682.7 1008.4,2680.0 1008.7,2675.6 1009.0,2671.3 1009.3,2669.1 1009.6,2667.7 1009.9,2662.5 1010.2,2657.4 1010.5,2655.7 1010.7,2650.0 1010.9,2647.5 1011.2,2646.2 1011.4,2642.8 1011.7,2638.1 1011.9,2635.9 1012.1,2631.1 1012.4,2629.4 1012.6,2626.1 1012.9,2623.0 1013.1,2620.6 1013.3,2614.8 1013.6,2614.9 1013.8,2609.8 1014.1,2607.8 1014.3,2603.1 1014.5,2601.7 1014.8,2598.0 1015.0,2594.7 1015.3,2592.3 1015.5,2588.9 1015.7,2584.0 1016.0,2580.3 1016.2,2577.0 1016.5,2575.8 1016.9,2571.6 1017.3,2566.4 1017.6,2565.1 1018.0,2560.6 1018.5,2560.5 1019.0,2556.0 1019.6,2553.1 1020.5,2549.9 1021.4,2550.1 1022.4,2544.6 1023.5,2543.7 1024.6,2540.5 1025.7,2535.1 1026.8,2533.7 1027.9,2528.5 1029.3,2525.5 1030.7,2525.3 1032.1,2518.9 1033.5,2519.1 1035.0,2514.9 1036.6,2510.7 1038.3,2512.6 1041.4,2508.2 1044.7,2506.2 1048.2,2504.3 1051.6,2506.2 1054.9,2503.7 1057.4,2510.0 1059.9,2510.4 1062.3,2516.0 1064.7,2517.8 1067.1,2517.2 1069.5,2522.8 1072.4,2515.9 1075.4,2520.3 1078.3,2514.3 1081.2,2515.1 1084.0,2509.9 1086.1,2508.7 1088.0,2506.8 1089.9,2507.3 1091.9,2501.7 1094.1,2500.8 1096.5,2496.9 1099.1,2495.1 1102.0,2494.6 1104.9,2491.2 1107.9,2489.2 1111.0,2487.1 1114.1,2486.1 1117.1,2486.8 1120.0,2485.1 1122.0,2491.5 1124.0,2492.6 1126.0,2493.1 1128.0,2497.2 1130.0,2498.2 1132.0,2503.3 1133.9,2504.9 1135.8,2510.6 1137.6,2509.4 1139.3,2514.1 1140.9,2521.2 1143.4,2514.6 1145.2,2509.9 1147.1,2507.8 1150.0,2506.6 1152.6,2505.0 1155.4,2504.4 1158.4,2502.5 1161.5,2499.5 1164.7,2506.1 1168.0,2503.6 1171.2,2502.5 1174.3,2502.8 1177.3,2505.7 1180.3,2506.4 1183.3,2509.4 1186.2,2506.2 1189.1,2510.6 1192.0,2510.8 1194.8,2512.7 1197.4,2515.8 1200.0,2516.3 1201.6,2520.9 1203.1,2522.8 1204.6,2528.2 1206.0,2528.4 1207.3,2532.8 1208.6,2533.5 1209.9,2536.2 1211.2,2537.5 1212.4,2540.6 1213.6,2545.9 1214.5,2547.6 1215.3,2552.6 1216.0,2553.3 1216.8,2555.4 1217.5,2561.9 1218.2,2567.2 1218.9,2564.8 1219.6,2570.3 1220.3,2572.9 1221.1,2577.6 1221.9,2578.7 1222.7,2581.6 1223.6,2581.2 1224.4,2590.1 1225.3,2592.5 1226.2,2592.3 1227.1,2596.6 1228.1,2600.3 1229.0,2605.6 1229.9,2606.9 1230.9,2608.9 1231.8,2614.5 1232.8,2613.9 1233.7,2619.2 1234.6,2620.3 1235.5,2625.8 1236.4,2629.8 1238.1,2632.1 1239.7,2633.8 1241.3,2634.6 1242.9,2640.6 1244.5,2642.6 1246.1,2642.2 1247.7,2646.4 1250.5,2644.0 1253.3,2642.3 1256.2,2636.4 1259.1,2638.6 1260.4,2636.7 1261.7,2645.8 1263.0,2639.6 1264.3,2648.3 1265.7,2649.2 1267.0,2652.4 1268.4,2655.9 1269.8,2657.1 1271.2,2659.6 1272.7,2665.9 1274.9,2662.4 1277.1,2662.4 1279.3,2658.5 1281.6,2654.6 1284.0,2654.9 1286.3,2651.3 1288.6,2650.0 1290.9,2646.5 1292.9,2644.0 1294.9,2640.0 1296.9,2637.6 1298.8,2636.6 1300.8,2635.8 1302.8,2629.9 1304.9,2630.4 1307.0,2628.8 1309.1,2624.7 1310.8,2620.5 1312.5,2618.4 1314.3,2613.8 1316.1,2615.3 1317.9,2607.6 1319.7,2607.2 1321.5,2603.6 1323.4,2603.3 1325.1,2601.3 1326.9,2595.7 1328.6,2595.6 1330.2,2591.2 1331.8,2591.0 1335.6,2590.3 1339.0,2588.2 1342.2,2589.1 1345.5,2586.2 1348.2,2588.4 1350.9,2590.9 1353.6,2591.4 1356.4,2597.0 1359.1,2596.6 1360.2,2594.1 1361.3,2590.3 1362.4,2588.3 1363.4,2587.0 1364.5,2582.1 1365.6,2578.1 1366.7,2576.1 1367.8,2572.6 1368.9,2569.7 1370.1,2564.1 1371.4,2560.2 1372.7,2559.5 1374.0,2555.8 1375.3,2555.6 1376.6,2549.0 1378.0,2550.2 1379.3,2546.9 1380.7,2542.2 1382.1,2538.7 1383.6,2537.4 1385.0,2532.6 1386.5,2530.7 1388.0,2526.4 1389.5,2522.6 1390.9,2522.9 1392.4,2521.5 1393.9,2514.6 1395.5,2514.2 1397.1,2508.5 1398.7,2508.4 1400.2,2504.5 1401.8,2503.1 1403.4,2498.1 1405.0,2498.9 1406.6,2495.5 1408.2,2489.6 1409.9,2490.5 1411.6,2486.7 1413.3,2483.0 1415.1,2483.7 1416.9,2478.5 1418.8,2474.9 1420.7,2475.8 1422.7,2473.7 1425.5,2472.2 1428.3,2468.6 1431.3,2470.9 1434.4,2469.6 1437.6,2469.8 1440.8,2469.5 1444.0,2468.5 1447.2,2463.4 1450.5,2466.9 1453.6,2464.0 1456.8,2466.9 1459.8,2461.8 1462.7,2462.3 1465.5,2461.5 1468.2,2464.2 1471.7,2467.2 1475.0,2464.9 1477.9,2465.8 1480.7,2470.3 1483.4,2470.0 1485.9,2473.2 1488.4,2472.9 1490.9,2478.7 1492.9,2478.0 1494.8,2481.8 1496.6,2485.2 1498.3,2489.5 1500.0,2490.1 1501.6,2492.6 1503.1,2497.9 1504.5,2497.6 1505.0,2505.6 1505.4,2506.8 1505.9,2509.2 1506.2,2513.1 1506.6,2514.5 1507.0,2515.0 1507.4,2520.7 1507.7,2524.4 1508.0,2528.7 1508.4,2530.7 1508.7,2532.3 1509.0,2536.7 1509.4,2538.8 1509.7,2544.9 1510.0,2548.3 1510.3,2547.7 1510.7,2554.0 1511.0,2557.9 1511.4,2560.9 1511.8,2563.2 1512.3,2564.5 1512.7,2571.0 1513.1,2574.8 1513.6,2575.6 1514.0,2581.7 1514.5,2581.3 1514.9,2587.2 1515.4,2592.0 1515.8,2595.4 1516.3,2595.6 1516.7,2601.1 1517.2,2599.7 1517.7,2605.4 1518.2,2607.0 1518.7,2603.7 1519.3,2601.5 1519.9,2597.7 1520.5,2597.4 1521.1,2591.0 1521.7,2592.3 1522.3,2588.8 1523.0,2582.6 1523.6,2579.3 1524.2,2575.4 1524.8,2570.8 1525.4,2571.1 1526.1,2563.2 1526.7,2562.3 1527.3,2560.6 1527.9,2555.1 1528.5,2554.0 1529.0,2547.7 1529.6,2546.1 1530.2,2542.8 1530.8,2538.8 1531.4,2535.6 1531.9,2535.7 1532.5,2533.2 1533.1,2527.6 1533.7,2524.0 1534.4,2522.3 1535.0,2521.4 1535.7,2515.0 1536.4,2513.0 1537.6,2512.0 1538.8,2506.0 1540.1,2502.5 1541.4,2503.3 1542.7,2496.8 1544.0,2496.9 1545.4,2493.7 1546.9,2489.9 1548.4,2489.2 1550.0,2488.3 1552.6,2483.6 1555.4,2484.0 1558.4,2477.5 1561.4,2477.0 1564.4,2476.7 1567.3,2473.4 1570.1,2472.2 1572.7,2472.9 1575.3,2476.4 1577.7,2476.6 1579.9,2481.1 1582.0,2481.5 1584.2,2481.7 1586.4,2485.2 1588.3,2488.4 1590.1,2494.2 1591.9,2494.3 1593.8,2500.2 1595.7,2503.2 1597.8,2502.0 1600.0,2506.6 1602.6,2505.5 1605.4,2502.4 1608.3,2502.0 1611.2,2498.5 1614.2,2494.3 1617.1,2494.5 1620.0,2495.3 1622.7,2491.4 1625.4,2490.0 1627.9,2487.1 1630.4,2483.3 1632.8,2485.2 1635.2,2482.1 1637.6,2481.6 1640.0,2478.7 1643.2,2478.0 1646.4,2473.3 1649.5,2474.6 1652.7,2469.6 1656.0,2469.8 1659.0,2471.9 1662.1,2471.0 1665.3,2470.0 1668.4,2471.5 1671.6,2470.6 1674.6,2470.8 1676.7,2475.0 1678.7,2478.7 1680.8,2481.4 1682.8,2481.8 1684.7,2484.5 1686.7,2490.1 1688.6,2489.5 1690.5,2488.7 1692.1,2489.3 1693.6,2489.2 1695.2,2486.2 1696.7,2482.3 1698.1,2476.2 1699.6,2476.8 1701.0,2470.0 1702.4,2471.3 1703.8,2465.7 1706.6,2465.0 1709.2,2460.2 1711.8,2457.8 1714.5,2461.3 1716.6,2461.1 1718.9,2463.4 1721.2,2465.6 1723.5,2469.6 1725.7,2469.5 1727.8,2475.6 1728.7,2477.8 1729.6,2481.4 1730.4,2484.7 1731.1,2488.4 1731.9,2491.4 1732.6,2495.3 1733.4,2500.4 1734.1,2499.9 1734.9,2502.3 1735.8,2505.5 1736.9,2506.1 1738.0,2504.7 1739.2,2501.6 1740.4,2495.0 1741.6,2495.6 1742.8,2489.6 1744.0,2488.8 1745.2,2483.2 1746.4,2480.5 1747.7,2476.4 1749.0,2472.5 1750.3,2473.1 1751.6,2469.7 1752.9,2462.6 1754.3,2464.2 1755.6,2457.5 1757.1,2457.7 1759.7,2457.3 1762.4,2445.7 1765.2,2447.4 1767.9,2460.0 1770.4,2441.4 1771.1,2433.1 1771.9,2455.7 1772.6,2448.1 1773.3,2456.4 1774.0,2453.6 1774.7,2456.3 1775.3,2471.9 1776.0,2468.6 1776.6,2480.9 1777.2,2471.8 1777.8,2474.2 1778.3,2486.6 1778.7,2484.9 1779.0,2475.8 1779.3,2480.2 1779.5,2470.1 1779.8,2465.4 1780.1,2462.5 1780.3,2456.3 1780.6,2440.6 1780.8,2459.5 1781.1,2453.5 1781.3,2449.8 1781.5,2440.0 1781.7,2442.8 1781.9,2444.7 1782.1,2441.3 1782.3,2433.9 1782.6,2432.1 1782.8,2428.6 1783.1,2428.2 1783.3,2424.7 1783.5,2413.2 1783.6,2418.7 1783.7,2411.6 1783.7,2403.1 1783.4,2402.3 1783.0,2399.3 1782.6,2387.7 1782.2,2389.4 1781.7,2392.0 1781.2,2388.8 1780.8,2375.8 1780.4,2373.7 1780.0,2379.3 1779.7,2380.1" fill="none" stroke="#000" stroke-width="18.5" stroke-linejoin="round" stroke-linecap="butt" />
<polyline points="540.9,2558.8 543.2,2557.9 545.7,2559.7 548.3,2560.0 551.2,2557.4 554.1,2556.1 557.2,2555.4 560.4,2559.4 563.7,2556.0 567.0,2558.8 570.4,2555.9 573.9,2553.8 577.3,2556.3 580.8,2557.0 584.2,2553.9 587.6,2553.1 590.9,2554.6 593.9,2552.3 597.0,2552.4 600.1,2556.2 603.3,2555.0 606.5,2554.7 609.7,2552.8 613.0,2555.5 616.2,2552.5 619.5,2553.6 622.8,2556.0 626.0,2552.9 629.2,2552.2 632.4,2552.6 635.5,2554.2 638.5,2556.1 641.5,2551.7 644.4,2555.5 647.3,2552.4 650.0,2552.8 653.5,2557.9 656.9,2555.6 660.0,2557.3 663.0,2558.6 665.9,2560.6 668.6,2561.7 671.3,2560.2 674.0,2563.0 676.6,2564.1 679.2,2564.9 681.8,2566.9 685.0,2565.5 688.0,2572.7 691.0,2569.4 693.9,2569.9 696.7,2570.0 699.4,2576.3 702.0,2575.4 704.5,2576.7 706.1,2580.8 707.6,2583.2 709.0,2587.1 710.4,2585.9 711.7,2590.0 713.0,2591.0 714.3,2595.3 715.5,2600.1 716.8,2601.5 718.2,2602.7 719.2,2607.4 720.2,2611.4 721.2,2612.6 722.2,2613.8 723.2,2615.8 724.2,2622.8 725.2,2625.4 726.2,2628.3 727.1,2628.8 728.1,2634.4 729.1,2637.9 730.0,2641.0 730.9,2640.6 731.8,2646.6 732.5,2650.0 733.1,2656.2 733.7,2652.7 734.2,2658.3 734.7,2660.8 735.3,2667.7 735.8,2670.0 736.3,2671.7 736.8,2676.9 737.4,2675.9 738.0,2683.2 738.6,2683.3 739.3,2684.4 740.1,2689.2 740.9,2690.5 743.3,2690.7 745.9,2688.2 748.6,2685.9 751.4,2686.4 754.4,2683.3 757.4,2681.6 760.5,2679.3 763.6,2677.5 766.3,2678.2 769.1,2672.2 772.0,2673.9 775.0,2669.4 778.0,2671.2 781.0,2669.1 784.0,2665.1 786.9,2664.2 789.9,2665.8 792.7,2665.1 795.5,2662.0 798.4,2666.3 801.3,2664.3 804.2,2665.9 807.1,2669.4 809.8,2674.1 812.5,2675.7 815.1,2677.7 817.6,2679.0 820.0,2677.8 823.7,2676.5 826.8,2675.1 829.7,2675.3 832.5,2670.5 834.7,2662.3 836.6,2665.5 838.6,2662.1 840.8,2658.1 843.7,2660.9 846.9,2662.8 850.1,2664.9 853.3,2668.0 854.5,2664.4 855.7,2659.4 856.9,2659.5 858.1,2654.5 859.3,2652.0 860.6,2646.4 861.8,2646.2 863.1,2640.4 864.4,2639.0 865.7,2634.7 869.0,2633.0 872.5,2632.2 876.0,2631.9 879.3,2631.8 882.4,2633.5 883.8,2634.4 885.1,2637.2 886.3,2644.0 887.4,2644.6 888.5,2648.5 889.5,2654.5 890.7,2654.7 891.7,2649.7 892.8,2647.7 893.8,2641.7 894.8,2643.4 895.9,2639.6 896.9,2633.7 898.0,2629.6 899.0,2631.3 903.1,2624.6 907.3,2628.5 908.2,2628.4 909.1,2633.4 910.0,2634.8 910.9,2639.1 911.8,2643.1 912.7,2646.3 913.6,2646.6 914.4,2649.4 915.2,2657.5 916.0,2660.2 917.0,2660.3 917.9,2666.5 918.7,2666.2 919.5,2671.0 920.3,2675.1 921.1,2678.3 921.9,2680.5 922.6,2683.9 923.2,2683.4 923.8,2686.2 924.4,2691.4 925.1,2690.3 925.7,2693.7 926.4,2700.6 926.8,2703.3 927.1,2704.6 927.4,2706.6 927.7,2708.4 928.1,2714.1 928.4,2717.8 928.8,2720.2 929.1,2721.9 929.5,2728.1 929.8,2727.2 930.2,2730.8 930.5,2738.1 930.9,2739.3 931.2,2741.8 931.6,2746.8 931.9,2747.5 932.3,2749.8 932.6,2756.4 933.0,2759.1 933.3,2760.0 933.6,2766.4 933.9,2767.1 934.3,2771.0 934.6,2773.6 934.9,2776.0 935.2,2779.3 935.6,2784.8 935.9,2786.5 936.2,2790.3 936.5,2793.1 936.8,2796.7 937.1,2802.0 937.4,2805.8 937.8,2807.9 938.1,2807.4 938.4,2814.7 938.7,2815.0 939.0,2817.0 939.3,2820.7 939.5,2825.3 939.9,2825.6 940.3,2830.0 940.7,2834.5 941.0,2837.9 941.4,2845.7 941.7,2845.8 942.1,2850.2 942.4,2847.8 942.8,2853.0 943.1,2853.5 943.4,2857.8 943.8,2859.1 944.1,2865.6 945.0,2870.0 945.9,2873.3 946.7,2877.1 947.6,2876.0 948.5,2875.3 949.4,2878.0 950.3,2877.1 951.3,2873.7 952.3,2869.3 953.5,2863.6 954.1,2859.3 954.7,2857.5 955.3,2853.7 956.0,2853.2 956.6,2848.1 957.3,2847.6 958.0,2845.6 958.7,2839.7 959.4,2836.2 960.1,2836.2 960.7,2832.8 961.4,2826.2 962.0,2825.7 962.4,2822.7 962.7,2820.3 963.0,2816.2 963.4,2811.0 963.7,2806.8 964.0,2803.7 964.4,2800.6 964.7,2801.1 965.0,2797.2 965.3,2795.5 965.6,2788.6 966.0,2785.3 966.3,2784.0 966.6,2779.0 966.9,2777.8 967.3,2775.2 967.6,2772.8 967.9,2765.2 968.3,2765.1 968.6,2764.1 969.2,2757.0 969.8,2753.3 970.4,2751.7 971.0,2746.5 971.6,2745.1 972.2,2740.1 972.8,2741.3 973.4,2734.6 974.0,2731.8 974.7,2731.0 975.2,2726.8 975.8,2725.4 976.4,2724.9 977.0,2717.9 977.9,2717.5 978.8,2715.8 979.7,2710.6 980.6,2705.8 981.4,2706.2 982.3,2699.8 983.2,2699.0 984.2,2695.8 985.2,2691.9 986.2,2690.7 987.3,2686.6 988.3,2683.9 989.4,2682.1 990.5,2678.4 992.6,2675.8 994.7,2673.3 996.8,2670.7 998.8,2668.9 999.6,2669.7 1000.4,2673.3 1001.2,2678.0 1001.9,2680.8 1002.6,2682.6 1003.3,2685.0 1004.0,2687.7 1004.4,2691.3 1004.9,2694.1 1005.3,2698.5 1005.7,2701.4 1006.2,2704.6 1006.6,2706.9 1007.0,2712.5 1007.4,2713.5 1007.8,2715.1 1008.1,2722.2 1008.4,2724.8 1008.6,2724.9 1008.8,2727.8 1009.0,2732.4 1009.2,2734.7 1009.4,2741.6 1009.5,2740.2 1009.7,2747.0 1009.9,2747.4 1010.1,2753.1 1010.3,2753.6 1010.5,2757.5 1010.6,2761.2 1010.8,2764.0 1011.0,2768.2 1011.3,2772.7 1011.5,2774.8 1011.7,2777.6 1011.9,2780.1 1012.1,2785.9 1012.3,2787.5 1012.5,2791.1 1012.7,2791.9 1012.9,2795.6 1013.1,2801.1 1013.3,2801.3 1013.8,2808.8 1014.3,2810.7 1014.7,2816.8 1015.2,2815.7 1015.7,2819.7 1016.2,2822.7 1016.7,2823.2 1017.2,2823.7 1017.7,2821.5 1018.2,2819.3 1018.6,2812.3 1019.1,2806.2 1019.6,2805.6 1020.0,2803.1 1020.2,2800.8 1020.3,2797.0 1020.5,2796.6 1020.6,2792.6 1020.7,2790.2 1020.8,2783.4 1021.0,2781.2 1021.1,2776.6 1021.2,2775.9 1021.3,2772.3 1021.4,2769.7 1021.5,2762.7 1021.7,2759.7 1021.8,2758.3 1021.9,2756.4 1021.9,2752.4 1022.0,2747.0 1022.1,2745.0 1022.2,2741.0 1022.3,2740.3 1022.4,2735.5 1022.5,2733.2 1022.6,2727.9 1022.7,2728.6 1022.8,2725.2 1022.9,2718.0 1023.2,2716.1 1023.4,2714.1 1023.7,2710.8 1023.9,2707.4 1024.2,2705.2 1024.5,2706.0 1024.8,2698.3 1025.1,2696.5 1025.5,2695.0 1025.8,2687.3 1026.5,2688.3 1027.2,2684.4 1027.9,2680.1 1028.7,2676.5 1029.4,2675.0 1030.2,2669.8 1031.0,2668.2 1032.0,2663.2 1033.1,2664.1 1034.1,2656.1 1035.2,2656.3 1036.2,2653.9 1037.3,2650.2 1038.5,2648.1 1039.6,2643.8 1040.9,2638.6 1042.5,2634.9 1045.3,2636.0 1048.4,2633.7 1051.7,2627.3 1054.9,2628.3 1057.4,2628.6 1060.0,2634.3 1062.5,2633.7 1065.0,2638.7 1067.4,2638.7 1070.8,2643.8 1074.1,2643.3 1077.8,2645.1 1079.7,2643.2 1081.7,2640.0 1083.9,2642.7 1086.0,2635.0 1088.2,2635.2 1090.4,2630.0 1092.4,2628.3 1094.4,2624.9 1097.7,2627.6 1100.8,2627.4 1103.8,2627.4 1106.9,2623.5 1109.0,2622.5 1111.0,2621.2 1113.0,2618.0 1115.1,2614.5 1117.4,2614.7 1120.0,2612.3 1121.4,2611.4 1122.8,2618.7 1124.3,2619.8 1125.8,2619.1 1127.3,2623.6 1128.8,2625.9 1130.4,2629.1 1132.0,2633.4 1133.7,2637.7 1135.3,2639.3 1137.0,2641.5 1138.6,2647.8 1140.3,2648.5 1142.0,2651.9 1143.7,2653.8 1145.5,2654.6 1148.0,2654.1 1150.6,2651.0 1153.3,2650.2 1156.1,2646.1 1158.9,2649.2 1161.6,2647.0 1164.4,2640.9 1167.1,2640.4 1169.8,2640.3 1172.4,2634.9 1174.9,2633.7 1177.3,2634.6 1180.8,2633.6 1183.9,2635.1 1186.9,2634.2 1189.7,2638.8 1192.5,2636.6 1195.5,2642.6 1197.3,2643.7 1199.1,2643.3 1201.0,2648.1 1202.9,2651.1 1204.7,2652.0 1206.6,2655.6 1208.4,2661.0 1210.2,2661.4 1211.9,2662.9 1213.6,2666.5 1214.9,2671.6 1216.1,2674.1 1217.2,2676.6 1218.4,2678.8 1219.5,2682.3 1220.6,2684.4 1221.7,2687.7 1222.8,2690.9 1223.9,2694.7 1225.0,2700.4 1226.1,2706.5 1227.3,2702.6 1228.2,2707.4 1229.2,2712.2 1230.2,2711.5 1231.2,2713.9 1232.2,2720.0 1233.2,2721.7 1234.2,2723.4 1235.2,2727.8 1236.1,2731.1 1237.1,2734.4 1238.1,2736.9 1239.0,2738.7 1240.0,2741.8 1240.9,2745.4 1242.6,2747.2 1244.3,2752.0 1245.9,2754.7 1247.5,2759.6 1249.1,2762.1 1250.7,2761.5 1252.3,2764.1 1253.9,2759.9 1255.4,2759.6 1256.9,2755.1 1258.5,2751.8 1260.1,2751.8 1261.8,2749.2 1263.6,2745.5 1266.4,2747.0 1269.4,2746.5 1272.5,2748.3 1275.6,2752.4 1278.7,2752.2 1281.8,2755.2 1283.9,2750.3 1285.9,2751.2 1288.0,2746.1 1290.0,2746.7 1292.1,2745.7 1294.1,2738.2 1296.1,2735.3 1298.1,2737.2 1300.0,2730.8 1301.2,2729.9 1302.4,2723.8 1303.5,2722.5 1304.6,2721.2 1305.7,2715.7 1306.8,2712.5 1307.9,2711.4 1309.0,2704.6 1310.1,2702.5 1311.2,2704.5 1312.4,2695.6 1313.6,2695.6 1315.7,2690.9 1317.9,2690.4 1320.0,2685.3 1322.2,2685.4 1324.5,2681.8 1326.8,2681.4 1329.3,2676.0 1331.8,2676.8 1334.4,2675.8 1337.1,2681.7 1339.9,2680.5 1342.7,2681.1 1345.6,2685.8 1348.5,2685.7 1351.3,2691.3 1354.1,2691.7 1356.7,2692.2 1359.1,2692.3 1360.6,2687.1 1362.0,2683.6 1363.3,2684.4 1364.4,2679.8 1365.5,2676.2 1366.6,2676.1 1367.7,2671.8 1368.8,2667.7 1370.0,2666.2 1371.3,2661.1 1372.7,2656.9 1374.6,2657.1 1376.5,2651.9 1378.5,2653.1 1380.5,2647.5 1382.5,2647.7 1384.6,2644.4 1386.8,2641.6 1388.9,2638.5 1391.1,2636.7 1393.3,2632.8 1395.5,2629.3 1397.5,2630.4 1399.5,2627.8 1401.6,2622.6 1403.7,2623.4 1405.9,2617.3 1408.0,2616.9 1410.2,2614.8 1412.3,2610.3 1414.4,2606.5 1416.6,2605.2 1418.7,2602.8 1420.7,2599.3 1422.7,2602.5 1426.1,2600.4 1429.4,2597.5 1432.7,2601.3 1435.9,2599.6 1439.0,2601.0 1442.2,2601.7 1445.5,2602.1 1448.3,2606.7 1451.1,2599.9 1454.0,2602.7 1456.8,2599.4 1459.7,2599.3 1462.5,2595.6 1465.3,2595.7 1468.2,2597.6 1470.7,2593.6 1473.3,2596.6 1475.9,2597.6 1478.4,2604.5 1481.0,2606.4 1483.5,2606.3 1486.0,2606.8 1488.5,2609.1 1490.9,2615.3 1493.1,2615.1 1495.2,2618.7 1497.4,2620.8 1499.5,2624.7 1501.5,2626.1 1503.5,2626.5 1505.5,2630.4 1507.3,2634.3 1509.1,2636.5 1509.7,2637.3 1510.3,2640.8 1510.9,2642.2 1511.5,2647.9 1512.0,2648.4 1512.5,2654.9 1513.0,2659.2 1513.5,2658.3 1514.0,2662.6 1514.5,2666.5 1514.9,2668.3 1515.4,2673.2 1515.8,2674.0 1516.3,2680.5 1516.8,2680.1 1517.2,2686.8 1517.7,2688.2 1518.2,2691.4 1518.9,2695.5 1519.6,2700.5 1520.2,2700.3 1520.9,2706.3 1521.6,2709.3 1522.2,2710.7 1522.9,2713.7 1523.6,2720.7 1524.3,2722.0 1524.9,2725.0 1525.6,2724.2 1526.4,2728.3 1527.2,2724.7 1527.9,2723.2 1528.7,2721.4 1529.5,2714.6 1530.3,2717.8 1531.2,2713.1 1532.0,2708.1 1532.8,2703.7 1533.7,2701.9 1534.6,2699.4 1535.5,2693.7 1536.4,2691.9 1537.2,2686.6 1538.1,2685.0 1538.9,2684.1 1539.8,2680.7 1540.6,2675.3 1541.5,2672.1 1542.4,2671.1 1543.3,2665.5 1544.2,2664.8 1545.2,2658.7 1546.1,2654.7 1547.1,2656.1 1548.0,2650.2 1549.0,2647.4 1550.0,2643.4 1551.7,2639.9 1553.5,2639.3 1555.3,2635.3 1557.1,2634.3 1558.9,2632.5 1560.8,2625.9 1562.6,2626.6 1564.5,2621.9 1566.4,2622.0 1568.2,2617.9 1571.2,2614.1 1574.2,2614.1 1577.3,2611.6 1580.3,2613.5 1583.3,2614.9 1586.4,2612.8 1588.2,2616.0 1590.0,2617.6 1591.8,2618.4 1593.6,2623.5 1595.5,2626.6 1597.3,2628.2 1599.1,2632.9 1600.9,2635.3 1602.7,2638.8 1604.5,2639.6 1607.6,2643.8 1610.6,2645.0 1613.6,2647.4 1616.7,2647.9 1619.7,2648.6 1622.7,2651.5 1624.5,2646.0 1626.2,2644.3 1627.9,2643.5 1629.6,2639.5 1631.3,2637.8 1633.0,2634.7 1634.9,2627.6 1636.7,2628.9 1638.8,2623.5 1640.9,2621.8 1643.8,2622.4 1646.8,2622.5 1650.0,2621.6 1653.3,2622.6 1656.6,2622.8 1660.0,2624.9 1663.3,2626.1 1666.6,2627.2 1669.7,2625.5 1672.7,2626.3 1676.2,2629.6 1679.5,2627.9 1682.7,2634.1 1685.8,2631.5 1688.9,2630.4 1692.1,2630.9 1695.5,2630.9 1698.1,2630.1 1700.9,2631.2 1703.7,2629.7 1706.6,2626.1 1709.4,2621.9 1712.3,2620.7 1715.1,2622.2 1717.8,2620.8 1720.3,2620.2 1722.7,2618.4 1724.1,2622.3 1725.4,2617.3 1726.6,2624.2 1727.8,2629.9 1728.9,2631.0 1729.9,2635.3 1730.9,2637.7 1731.9,2643.3 1733.0,2647.4 1734.0,2647.1 1735.2,2650.6 1736.4,2652.4 1739.3,2656.4 1742.5,2661.0 1745.7,2662.5 1748.9,2662.6 1751.9,2664.8 1754.5,2663.3 1755.2,2659.2 1755.8,2661.3 1756.3,2653.2 1756.7,2653.0 1757.1,2647.2 1757.5,2647.9 1757.9,2646.0 1758.2,2640.3 1758.6,2634.5 1758.9,2629.5 1759.3,2627.8 1759.8,2628.2 1760.2,2625.7 1760.8,2624.4 1761.4,2621.3 1762.9,2614.2 1764.5,2616.1 1766.2,2631.2 1768.0,2631.0 1769.8,2630.6 1771.7,2636.6 1773.5,2630.5 1775.4,2646.5 1777.3,2648.6 1779.3,2647.6 1781.3,2634.7 1783.4,2628.7 1785.6,2621.1 1787.7,2636.1 1789.7,2631.2 1791.8,2624.3 1793.7,2623.1 1795.5,2612.5 1796.3,2618.0 1797.1,2625.8 1797.8,2623.2 1798.5,2638.9 1799.2,2638.2 1799.8,2646.4 1800.4,2650.2 1801.0,2646.2 1801.6,2649.9 1802.3,2643.1 1803.0,2659.3 1803.7,2664.6 1804.5,2658.7 1805.9,2648.3 1807.3,2655.5 1808.8,2658.3 1810.4,2641.0 1812.0,2653.6 1813.6,2642.4 1815.2,2648.5 1816.7,2634.9 1818.1,2623.7 1819.4,2625.1 1820.5,2622.7" fill="none" stroke="#000" stroke-width="18.5" stroke-linejoin="round" stroke-linecap="butt" />
</g>
<rect x="533.5" y="1987" width="1297" height="1157" fill="none" stroke="#000" stroke-width="17"/>
<rect x="524" y="3133" width="1319" height="21.5" fill="#000"/>
<rect x="524" y="3079" width="19.5" height="80" fill="#000"/>
<rect x="1823" y="3079" width="20" height="80" fill="#000"/>
<rect x="894.5" y="3140" width="19" height="46.5" fill="#000"/>
<rect x="1372.5" y="3140" width="19" height="46.5" fill="#000"/>
<rect x="658.0" y="3140" width="19" height="25" fill="#000"/>
<rect x="1134.5" y="3140" width="19" height="25" fill="#000"/>
<rect x="1610.5" y="3140" width="19" height="25" fill="#000"/>
<text x="762" y="3338" font-family="'Liberation Serif',serif" font-size="148" textLength="284" lengthAdjust="spacingAndGlyphs">1500</text>
<text x="1237" y="3338" font-family="'Liberation Serif',serif" font-size="148" textLength="280" lengthAdjust="spacingAndGlyphs">1000</text>
<text x="798" y="3512" font-family="'Liberation Serif',serif" font-size="102" letter-spacing="5.5">Wavenumbers(cm<tspan font-size="58" dy="-46" letter-spacing="0">-1</tspan><tspan dy="46">)</tspan></text>
<text transform="translate(411,3005) rotate(-90)" font-family="'Liberation Serif',serif" font-size="130" textLength="733" lengthAdjust="spacing">Transmittance</text>
<text x="1000" y="2969.5" font-family="'Liberation Serif',serif" font-size="130" fill="#1a1a1a" textLength="250" lengthAdjust="spacingAndGlyphs">1100</text>
<text x="1373" y="2890" font-family="'Liberation Serif',serif" font-size="130" fill="#1a1a1a" textLength="250" lengthAdjust="spacingAndGlyphs">1050</text>
</g>
</svg>
</body></html>
